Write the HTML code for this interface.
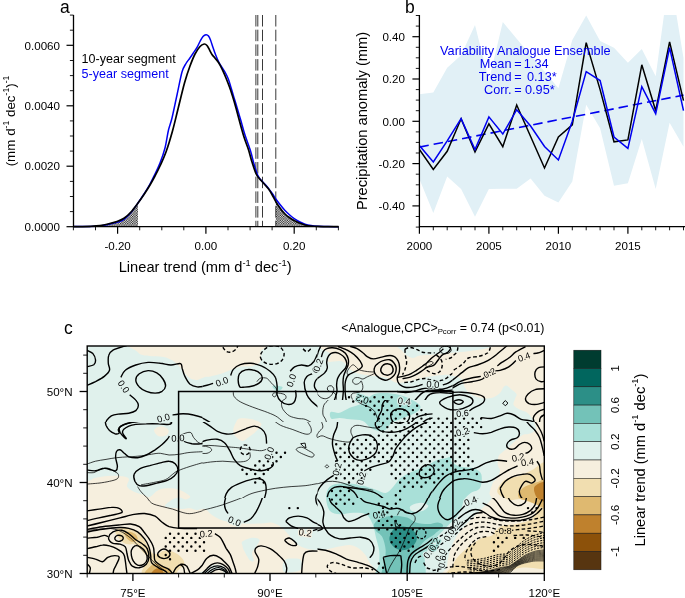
<!DOCTYPE html>
<html lang="en"><head><meta charset="utf-8"><title>Figure</title>
<style>html,body{margin:0;padding:0;background:#fff}svg{display:block;will-change:transform}text{font-family:'Liberation Sans', sans-serif}</style>
</head><body>
<svg width="685" height="598" viewBox="0 0 685 598">
<rect width="685" height="598" fill="#fff"/>
<g id="panel-a">
<defs><pattern id="xh" width="2.4" height="2.4" patternUnits="userSpaceOnUse"><rect width="2.4" height="2.4" fill="#fff"/><rect x="0" y="0" width="1.2" height="1.2" fill="#111"/><rect x="1.2" y="1.2" width="1.2" height="1.2" fill="#111"/></pattern></defs>
<path d="M100.0 225.6L108.0 224.0L117.0 221.5L124.0 218.3L131.0 212.0L138.0 203.0L138 226.7L100 226.7Z" fill="url(#xh)"/>
<path d="M275.8 201.6L280.0 208.0L285.0 214.0L290.0 218.0L295.0 221.0L300.0 223.3L305.0 225.0L311.0 226.0L318.0 226.4L318 226.7L275.8 226.7Z" fill="url(#xh)"/>
<line x1="255.9" y1="15" x2="255.9" y2="226.7" stroke="#222" stroke-width="0.9" stroke-dasharray="11.5 3.2"/>
<line x1="257.8" y1="15" x2="257.8" y2="226.7" stroke="#222" stroke-width="0.9" stroke-dasharray="11.5 3.2"/>
<line x1="262.5" y1="15" x2="262.5" y2="226.7" stroke="#222" stroke-width="0.9" stroke-dasharray="11.5 3.2"/>
<line x1="275.8" y1="15" x2="275.8" y2="226.7" stroke="#222" stroke-width="0.9" stroke-dasharray="11.5 3.2"/>
<path d="M73.5 226.6C76.2 226.6 85.6 226.5 90.0 226.4C94.4 226.3 97.0 226.2 100.0 225.9C103.0 225.6 105.2 225.2 108.0 224.6C110.8 224.0 114.3 223.2 117.0 222.3C119.7 221.4 121.7 220.9 124.0 219.3C126.3 217.7 128.7 215.2 131.0 212.5C133.3 209.8 135.8 206.1 138.0 203.0C140.2 199.9 142.0 197.2 144.0 194.0C146.0 190.8 148.2 187.3 150.0 184.0C151.8 180.7 153.3 177.5 155.0 174.0C156.7 170.5 158.3 167.3 160.0 163.0C161.7 158.7 163.6 153.5 165.0 148.0C166.4 142.5 167.3 135.0 168.5 130.0C169.7 125.0 170.6 123.8 172.0 118.0C173.4 112.2 175.3 102.7 177.0 95.0C178.7 87.3 180.5 77.2 182.0 72.0C183.5 66.8 184.7 65.8 186.0 63.5C187.3 61.2 188.4 60.2 189.6 58.5C190.8 56.8 191.8 55.3 193.0 53.5C194.2 51.7 195.8 49.5 197.0 47.5C198.2 45.5 199.0 43.3 200.0 41.5C201.0 39.7 202.0 37.6 203.0 36.5C204.0 35.4 205.1 34.8 206.0 34.7C206.9 34.6 207.8 35.1 208.5 36.0C209.2 36.9 209.8 38.1 210.5 40.0C211.2 41.9 212.2 45.1 213.0 47.5C213.8 49.9 214.6 52.2 215.5 54.5C216.4 56.8 217.4 59.3 218.5 61.5C219.6 63.7 220.8 65.6 222.0 67.5C223.2 69.4 224.4 71.0 225.5 73.0C226.6 75.0 227.6 77.1 228.5 79.5C229.4 81.9 230.2 84.8 231.0 87.5C231.8 90.2 232.5 92.7 233.5 96.0C234.5 99.3 235.8 103.3 237.0 107.5C238.2 111.7 239.7 116.4 241.0 121.0C242.3 125.6 243.4 130.1 245.0 135.0C246.6 139.9 248.9 145.7 250.4 150.5C251.9 155.3 252.8 160.0 254.0 164.0C255.2 168.0 256.3 171.9 257.4 174.5C258.5 177.1 259.4 178.1 260.5 179.5C261.6 180.9 262.6 181.8 263.7 183.0C264.8 184.2 265.9 185.2 267.0 186.5C268.1 187.8 269.0 189.2 270.0 190.5C271.0 191.8 272.0 193.1 273.0 194.5C274.0 195.9 274.6 197.3 275.8 199.0C277.0 200.7 278.5 202.6 280.0 204.5C281.5 206.4 283.3 208.6 285.0 210.4C286.7 212.2 288.3 213.7 290.0 215.2C291.7 216.7 293.3 218.1 295.0 219.2C296.7 220.3 298.3 221.2 300.0 222.0C301.7 222.8 303.2 223.6 305.0 224.2C306.8 224.8 308.8 225.2 311.0 225.5C313.2 225.8 315.2 226.0 318.0 226.2C320.8 226.4 324.6 226.4 328.0 226.5C331.4 226.6 336.8 226.7 338.5 226.7" fill="none" stroke="#0000f0" stroke-width="1.5" stroke-linejoin="round"/>
<path d="M73.5 226.6C76.2 226.6 85.6 226.5 90.0 226.3C94.4 226.1 97.0 226.0 100.0 225.6C103.0 225.2 105.2 224.7 108.0 224.0C110.8 223.3 114.3 222.4 117.0 221.5C119.7 220.6 121.7 219.9 124.0 218.3C126.3 216.7 128.7 214.6 131.0 212.0C133.3 209.4 135.8 205.9 138.0 203.0C140.2 200.1 142.0 197.5 144.0 194.5C146.0 191.5 148.2 188.1 150.0 185.0C151.8 181.9 153.3 179.2 155.0 176.0C156.7 172.8 158.2 170.0 160.0 166.0C161.8 162.0 163.9 157.8 166.0 152.0C168.1 146.2 170.5 138.2 172.5 131.0C174.5 123.8 176.0 117.0 178.0 109.0C180.0 101.0 182.5 90.2 184.5 83.0C186.5 75.8 188.2 70.8 190.0 66.0C191.8 61.2 193.3 57.2 195.0 54.0C196.7 50.8 198.5 48.2 200.0 46.5C201.5 44.8 203.0 44.2 204.2 44.0C205.4 43.8 206.1 44.5 207.0 45.5C207.9 46.5 208.9 48.8 209.7 50.3C210.5 51.8 211.2 53.3 212.0 54.5C212.8 55.7 213.4 56.2 214.5 57.5C215.6 58.8 217.2 60.6 218.5 62.5C219.8 64.4 220.8 66.4 222.0 69.0C223.2 71.6 224.8 75.0 226.0 78.0C227.2 81.0 228.4 84.0 229.5 87.0C230.6 90.0 231.4 92.5 232.5 96.0C233.6 99.5 234.8 103.5 236.0 108.0C237.2 112.5 238.7 118.2 240.0 123.0C241.3 127.8 242.6 132.5 244.0 137.0C245.4 141.5 247.3 145.8 248.6 150.0C249.9 154.2 250.7 158.0 252.0 162.0C253.3 166.0 254.9 171.2 256.2 174.0C257.4 176.8 258.4 177.5 259.5 178.8C260.6 180.1 261.4 180.8 262.5 182.0C263.6 183.2 264.9 184.8 266.0 186.0C267.1 187.2 268.0 188.1 269.0 189.5C270.0 190.9 270.9 192.5 272.0 194.5C273.1 196.5 274.5 199.3 275.8 201.6C277.1 203.8 278.5 205.9 280.0 208.0C281.5 210.1 283.3 212.3 285.0 214.0C286.7 215.7 288.3 216.8 290.0 218.0C291.7 219.2 293.3 220.1 295.0 221.0C296.7 221.9 298.3 222.6 300.0 223.3C301.7 224.0 303.2 224.6 305.0 225.0C306.8 225.4 308.8 225.8 311.0 226.0C313.2 226.2 315.2 226.3 318.0 226.4C320.8 226.5 324.6 226.6 328.0 226.6C331.4 226.6 336.8 226.7 338.5 226.7" fill="none" stroke="#000" stroke-width="1.7" stroke-linejoin="round"/>
<path d="M73.5 15V226.7H338.5" fill="none" stroke="#000" stroke-width="1.3"/>
<line x1="66.5" y1="226.7" x2="73.5" y2="226.7" stroke="#000" stroke-width="1.2"/>
<line x1="69.9" y1="211.6" x2="73.5" y2="211.6" stroke="#000" stroke-width="0.9"/>
<line x1="69.9" y1="196.5" x2="73.5" y2="196.5" stroke="#000" stroke-width="0.9"/>
<line x1="69.9" y1="181.4" x2="73.5" y2="181.4" stroke="#000" stroke-width="0.9"/>
<line x1="66.5" y1="166.2" x2="73.5" y2="166.2" stroke="#000" stroke-width="1.2"/>
<line x1="69.9" y1="151.1" x2="73.5" y2="151.1" stroke="#000" stroke-width="0.9"/>
<line x1="69.9" y1="136.0" x2="73.5" y2="136.0" stroke="#000" stroke-width="0.9"/>
<line x1="69.9" y1="120.9" x2="73.5" y2="120.9" stroke="#000" stroke-width="0.9"/>
<line x1="66.5" y1="105.8" x2="73.5" y2="105.8" stroke="#000" stroke-width="1.2"/>
<line x1="69.9" y1="90.7" x2="73.5" y2="90.7" stroke="#000" stroke-width="0.9"/>
<line x1="69.9" y1="75.6" x2="73.5" y2="75.6" stroke="#000" stroke-width="0.9"/>
<line x1="69.9" y1="60.5" x2="73.5" y2="60.5" stroke="#000" stroke-width="0.9"/>
<line x1="66.5" y1="45.3" x2="73.5" y2="45.3" stroke="#000" stroke-width="1.2"/>
<line x1="69.9" y1="30.2" x2="73.5" y2="30.2" stroke="#000" stroke-width="0.9"/>
<line x1="69.9" y1="15.1" x2="73.5" y2="15.1" stroke="#000" stroke-width="0.9"/>
<text x="60" y="230.9" text-anchor="end" font-size="11.6">0.0000</text>
<text x="60" y="170.4" text-anchor="end" font-size="11.6">0.0020</text>
<text x="60" y="110.0" text-anchor="end" font-size="11.6">0.0040</text>
<text x="60" y="49.5" text-anchor="end" font-size="11.6">0.0060</text>
<line x1="73.4" y1="226.7" x2="73.4" y2="230.3" stroke="#000" stroke-width="0.9"/>
<line x1="95.5" y1="226.7" x2="95.5" y2="230.3" stroke="#000" stroke-width="0.9"/>
<line x1="117.6" y1="226.7" x2="117.6" y2="233.7" stroke="#000" stroke-width="1.2"/>
<line x1="139.7" y1="226.7" x2="139.7" y2="230.3" stroke="#000" stroke-width="0.9"/>
<line x1="161.8" y1="226.7" x2="161.8" y2="230.3" stroke="#000" stroke-width="0.9"/>
<line x1="183.8" y1="226.7" x2="183.8" y2="230.3" stroke="#000" stroke-width="0.9"/>
<line x1="205.9" y1="226.7" x2="205.9" y2="233.7" stroke="#000" stroke-width="1.2"/>
<line x1="228.0" y1="226.7" x2="228.0" y2="230.3" stroke="#000" stroke-width="0.9"/>
<line x1="250.1" y1="226.7" x2="250.1" y2="230.3" stroke="#000" stroke-width="0.9"/>
<line x1="272.1" y1="226.7" x2="272.1" y2="230.3" stroke="#000" stroke-width="0.9"/>
<line x1="294.2" y1="226.7" x2="294.2" y2="233.7" stroke="#000" stroke-width="1.2"/>
<line x1="316.3" y1="226.7" x2="316.3" y2="230.3" stroke="#000" stroke-width="0.9"/>
<line x1="338.4" y1="226.7" x2="338.4" y2="230.3" stroke="#000" stroke-width="0.9"/>
<text x="117.6" y="250.4" text-anchor="middle" font-size="11.6">-0.20</text>
<text x="205.9" y="250.4" text-anchor="middle" font-size="11.6">0.00</text>
<text x="294.2" y="250.4" text-anchor="middle" font-size="11.6">0.20</text>
<text x="205.2" y="271.8" text-anchor="middle" font-size="14.65">Linear trend (mm d<tspan dy="-6.2" font-size="9.4">-1</tspan><tspan dy="6.2"> dec</tspan><tspan dy="-6.2" font-size="9.4">-1</tspan><tspan dy="6.2">)</tspan></text>
<text transform="translate(14.6 121) rotate(-90)" text-anchor="middle" font-size="13.4">(mm d<tspan dy="-5.7" font-size="8.6">-1</tspan><tspan dy="5.7"> dec</tspan><tspan dy="-5.7" font-size="8.6">-1</tspan><tspan dy="5.7">)</tspan><tspan dy="-5.7" font-size="8.6">-1</tspan></text>
<text x="81.6" y="63.3" font-size="12.55">10-year segment</text>
<text x="81.6" y="78.3" font-size="12.55" fill="#0000f0">5-year segment</text>
<text x="60" y="12.6" font-size="17.5">a</text>
</g>
<g id="panel-b">
<defs><clipPath id="cb"><rect x="419.4" y="15" width="266" height="211.7"/></clipPath></defs>
<g clip-path="url(#cb)">
<path d="M419.4 94.2L433.3 92.5L447.2 67.8L461.1 55.3L475.0 25.1L488.9 80.5L502.8 22.1L516.7 38.8L530.6 55.3L544.5 71.6L558.4 88.3L572.3 40.1L586.2 15.5L600.1 40.9L614.0 47.7L627.9 62.7L641.8 49.0L655.7 76.3L669.6 -26.7L683.5 57.9L683.5 146.7L669.6 122.8L655.7 189.0L641.8 139.1L627.9 183.3L614.0 185.8L600.1 128.3L586.2 104.8L572.3 181.6L558.4 202.5L544.5 195.7L530.6 178.6L516.7 188.8L502.8 188.8L488.9 189.0L475.0 216.7L461.1 189.0L447.2 176.5L433.3 212.9L419.4 179.0Z" fill="#e1f0f6"/>
<line x1="419.4" y1="147.1" x2="683.5" y2="95.1" stroke="#0000f0" stroke-width="1.6" stroke-dasharray="9.5 5"/>
<path d="M419.4 149.4L433.3 169.5L447.2 151.3L461.1 118.8L475.0 152.0L488.9 123.8L502.8 146.7L516.7 105.0L530.6 136.5L544.5 168.0L558.4 137.0L572.3 124.9L586.2 42.6L600.1 89.6L614.0 141.8L627.9 139.9L641.8 64.8L655.7 110.7L669.6 41.8L683.5 100.6" fill="none" stroke="#000" stroke-width="1.5" stroke-linejoin="miter"/>
<path d="M419.4 145.6L433.3 161.9L447.2 140.8L461.1 118.6L475.0 149.6L488.9 116.9L502.8 134.0L516.7 109.7L530.6 126.0L544.5 146.5L558.4 160.0L572.3 121.3L586.2 71.6L600.1 80.5L614.0 137.0L627.9 148.4L641.8 86.6L655.7 113.7L669.6 47.7L683.5 110.7" fill="none" stroke="#0000f0" stroke-width="1.5" stroke-linejoin="miter"/>
</g>
<path d="M419.4 15V226.7H685" fill="none" stroke="#000" stroke-width="1.3"/>
<line x1="415.8" y1="227.1" x2="419.4" y2="227.1" stroke="#000" stroke-width="0.9"/>
<line x1="415.8" y1="216.5" x2="419.4" y2="216.5" stroke="#000" stroke-width="0.9"/>
<line x1="412.4" y1="205.9" x2="419.4" y2="205.9" stroke="#000" stroke-width="1.2"/>
<line x1="415.8" y1="195.3" x2="419.4" y2="195.3" stroke="#000" stroke-width="0.9"/>
<line x1="415.8" y1="184.8" x2="419.4" y2="184.8" stroke="#000" stroke-width="0.9"/>
<line x1="415.8" y1="174.2" x2="419.4" y2="174.2" stroke="#000" stroke-width="0.9"/>
<line x1="412.4" y1="163.6" x2="419.4" y2="163.6" stroke="#000" stroke-width="1.2"/>
<line x1="415.8" y1="153.0" x2="419.4" y2="153.0" stroke="#000" stroke-width="0.9"/>
<line x1="415.8" y1="142.4" x2="419.4" y2="142.4" stroke="#000" stroke-width="0.9"/>
<line x1="415.8" y1="131.9" x2="419.4" y2="131.9" stroke="#000" stroke-width="0.9"/>
<line x1="412.4" y1="121.3" x2="419.4" y2="121.3" stroke="#000" stroke-width="1.2"/>
<line x1="415.8" y1="110.7" x2="419.4" y2="110.7" stroke="#000" stroke-width="0.9"/>
<line x1="415.8" y1="100.1" x2="419.4" y2="100.1" stroke="#000" stroke-width="0.9"/>
<line x1="415.8" y1="89.6" x2="419.4" y2="89.6" stroke="#000" stroke-width="0.9"/>
<line x1="412.4" y1="79.0" x2="419.4" y2="79.0" stroke="#000" stroke-width="1.2"/>
<line x1="415.8" y1="68.4" x2="419.4" y2="68.4" stroke="#000" stroke-width="0.9"/>
<line x1="415.8" y1="57.8" x2="419.4" y2="57.8" stroke="#000" stroke-width="0.9"/>
<line x1="415.8" y1="47.3" x2="419.4" y2="47.3" stroke="#000" stroke-width="0.9"/>
<line x1="412.4" y1="36.7" x2="419.4" y2="36.7" stroke="#000" stroke-width="1.2"/>
<line x1="415.8" y1="26.1" x2="419.4" y2="26.1" stroke="#000" stroke-width="0.9"/>
<line x1="415.8" y1="15.5" x2="419.4" y2="15.5" stroke="#000" stroke-width="0.9"/>
<text x="405" y="40.9" text-anchor="end" font-size="11.6">0.40</text>
<text x="405" y="83.2" text-anchor="end" font-size="11.6">0.20</text>
<text x="405" y="125.5" text-anchor="end" font-size="11.6">0.00</text>
<text x="405" y="167.8" text-anchor="end" font-size="11.6">-0.20</text>
<text x="405" y="210.1" text-anchor="end" font-size="11.6">-0.40</text>
<line x1="419.4" y1="226.7" x2="419.4" y2="233.7" stroke="#000" stroke-width="1.2"/>
<line x1="433.3" y1="226.7" x2="433.3" y2="230.3" stroke="#000" stroke-width="0.9"/>
<line x1="447.2" y1="226.7" x2="447.2" y2="230.3" stroke="#000" stroke-width="0.9"/>
<line x1="461.1" y1="226.7" x2="461.1" y2="230.3" stroke="#000" stroke-width="0.9"/>
<line x1="475.0" y1="226.7" x2="475.0" y2="230.3" stroke="#000" stroke-width="0.9"/>
<line x1="488.9" y1="226.7" x2="488.9" y2="233.7" stroke="#000" stroke-width="1.2"/>
<line x1="502.8" y1="226.7" x2="502.8" y2="230.3" stroke="#000" stroke-width="0.9"/>
<line x1="516.7" y1="226.7" x2="516.7" y2="230.3" stroke="#000" stroke-width="0.9"/>
<line x1="530.6" y1="226.7" x2="530.6" y2="230.3" stroke="#000" stroke-width="0.9"/>
<line x1="544.5" y1="226.7" x2="544.5" y2="230.3" stroke="#000" stroke-width="0.9"/>
<line x1="558.4" y1="226.7" x2="558.4" y2="233.7" stroke="#000" stroke-width="1.2"/>
<line x1="572.3" y1="226.7" x2="572.3" y2="230.3" stroke="#000" stroke-width="0.9"/>
<line x1="586.2" y1="226.7" x2="586.2" y2="230.3" stroke="#000" stroke-width="0.9"/>
<line x1="600.1" y1="226.7" x2="600.1" y2="230.3" stroke="#000" stroke-width="0.9"/>
<line x1="614.0" y1="226.7" x2="614.0" y2="230.3" stroke="#000" stroke-width="0.9"/>
<line x1="627.9" y1="226.7" x2="627.9" y2="233.7" stroke="#000" stroke-width="1.2"/>
<line x1="641.8" y1="226.7" x2="641.8" y2="230.3" stroke="#000" stroke-width="0.9"/>
<line x1="655.7" y1="226.7" x2="655.7" y2="230.3" stroke="#000" stroke-width="0.9"/>
<line x1="669.6" y1="226.7" x2="669.6" y2="230.3" stroke="#000" stroke-width="0.9"/>
<line x1="683.5" y1="226.7" x2="683.5" y2="230.3" stroke="#000" stroke-width="0.9"/>
<text x="419.4" y="250.4" text-anchor="middle" font-size="11.6">2000</text>
<text x="488.9" y="250.4" text-anchor="middle" font-size="11.6">2005</text>
<text x="558.4" y="250.4" text-anchor="middle" font-size="11.6">2010</text>
<text x="627.9" y="250.4" text-anchor="middle" font-size="11.6">2015</text>
<text transform="translate(367.3 121) rotate(-90)" text-anchor="middle" font-size="14.65">Precipitation anomaly (mm)</text>
<g fill="#0000f0" font-size="12.7">
<text x="525.3" y="54.8" text-anchor="middle">Variability Analogue Ensemble</text>
<text x="511.5" y="68.3" text-anchor="end">Mean</text><text x="514.2" y="68.3">=</text><text x="523.8" y="68.3">1.34</text>
<text x="511.5" y="81" text-anchor="end">Trend</text><text x="514.2" y="81">=</text><text x="527" y="81">0.13*</text>
<text x="511.5" y="93.6" text-anchor="end">Corr.</text><text x="514.2" y="93.6">=</text><text x="525" y="93.6">0.95*</text>
</g>
<text x="405" y="12.6" font-size="17.5">b</text>
</g>
<g id="panel-c">
<defs><clipPath id="cm"><rect x="87.2" y="346.0" width="457.1" height="227.5"/></clipPath></defs>
<g clip-path="url(#cm)">
<rect x="87.2" y="346.0" width="457.1" height="227.5" fill="#e0f1ec"/>
<path d="M133.0 340.0C112.7 342.0 135.7 349.3 137.6 351.9C139.5 354.5 141.7 354.7 144.6 355.4C147.5 356.1 151.8 356.0 155.0 356.3C158.2 356.6 160.9 356.4 163.8 357.1C166.7 357.8 170.0 359.0 172.6 360.6C175.2 362.2 177.5 364.6 179.6 366.8C181.7 369.0 183.2 371.9 184.9 373.8C186.7 375.7 188.1 377.2 190.1 378.2C192.1 379.2 194.6 380.1 197.1 379.9C199.6 379.7 202.8 377.6 205.0 377.0C207.2 376.4 207.8 376.9 210.5 376.4C213.2 375.9 217.8 374.8 221.0 373.8C224.2 372.8 226.6 371.5 229.8 370.3C233.0 369.1 236.5 367.5 240.3 366.8C244.1 366.1 249.2 366.8 252.6 365.9C255.9 365.0 259.1 363.8 260.4 361.5C261.7 359.2 260.6 355.6 260.5 352.0C260.4 348.4 280.9 342.0 259.6 340.0C238.4 338.0 153.3 338.0 133.0 340.0Z" fill="#f6efde"/>
<path d="M154.0 430.1C154.4 428.4 158.3 426.3 160.6 426.2C162.9 426.1 166.9 427.9 168.0 429.3C169.1 430.7 168.8 433.6 167.2 434.7C165.7 435.9 160.9 437.1 158.7 436.3C156.5 435.5 153.7 431.8 154.0 430.1Z" fill="#f6efde"/>
<path d="M239.4 418.6C241.9 418.0 247.2 418.3 250.8 419.1C254.5 419.9 260.3 421.6 261.3 423.5C262.3 425.4 259.1 428.2 256.9 430.5C254.7 432.8 250.7 435.8 248.2 437.5C245.7 439.3 244.2 441.3 242.0 441.0C239.9 440.8 236.5 438.0 235.0 436.1C233.6 434.2 233.1 431.9 233.3 429.6C233.4 427.4 234.9 424.5 235.9 422.6C236.9 420.8 236.9 419.2 239.4 418.6Z" fill="#f6efde"/>
<path d="M151.7 370.4C151.6 368.4 155.8 366.9 157.9 366.5C160.0 366.1 163.1 366.8 164.5 368.0C165.9 369.3 167.4 372.6 166.4 374.2C165.5 375.9 161.1 378.8 158.7 378.1C156.2 377.5 151.8 372.3 151.7 370.4Z" fill="#e0f1ec"/>
<path d="M70.0 481.0C72.8 463.7 82.8 481.8 87.0 481.3C91.2 480.8 92.0 478.7 95.5 477.8C99.0 476.9 103.7 476.3 107.8 476.0C111.9 475.7 116.5 475.6 120.0 476.0C123.5 476.4 127.6 476.9 128.8 478.7C130.0 480.5 126.1 484.4 127.0 486.6C127.9 488.8 131.1 490.4 134.0 491.8C136.9 493.2 142.0 494.4 144.6 495.3C147.2 496.2 147.5 497.9 149.8 497.0C152.1 496.1 155.4 491.4 158.6 490.0C161.8 488.6 165.5 488.3 169.0 488.3C172.5 488.3 176.1 488.7 179.6 490.0C183.1 491.3 188.9 494.6 190.0 496.2C191.1 497.8 187.7 499.3 186.0 499.5C184.3 499.7 181.8 497.5 179.6 497.5C177.4 497.5 175.0 498.1 172.6 499.5C170.2 500.9 164.4 504.5 165.0 506.0C165.6 507.5 173.0 507.8 176.0 508.3C179.0 508.8 180.7 509.0 183.0 509.0C185.3 509.0 187.7 508.1 190.0 508.3C192.3 508.5 194.5 509.9 197.0 510.0C199.5 510.1 202.5 508.2 205.0 509.0C207.5 509.8 208.9 513.0 212.0 515.0C215.1 517.0 218.4 519.3 223.5 520.7C228.6 522.1 236.1 523.0 242.4 523.5C248.7 524.0 256.6 523.6 261.4 523.5C266.2 523.4 267.8 522.1 271.0 522.6C274.2 523.1 277.6 524.5 280.4 526.4C283.2 528.3 285.5 531.1 288.0 534.0C290.5 536.9 292.1 541.0 295.6 543.5C299.1 546.0 304.1 548.2 309.0 549.2C313.9 550.2 320.2 549.9 325.0 549.5C329.8 549.1 333.6 547.5 337.8 546.8C342.0 546.0 346.5 544.7 350.0 545.0C353.5 545.3 356.2 546.8 358.8 548.6C361.4 550.4 364.1 553.3 365.8 555.6C367.6 557.9 367.8 560.3 369.3 562.6C370.8 564.9 373.2 565.9 374.6 569.6C376.1 573.3 428.8 582.4 378.0 585.0C327.2 587.6 121.3 602.3 70.0 585.0C18.7 567.7 67.2 498.3 70.0 481.0Z" fill="#f6efde"/>
<path d="M242.4 541.6C244.0 540.3 249.2 538.1 252.0 537.8C254.8 537.5 258.9 538.1 259.5 539.7C260.1 541.3 256.9 545.1 255.7 547.3C254.4 549.5 252.3 550.8 252.0 553.0C251.7 555.2 254.1 559.2 253.8 560.5C253.5 561.8 251.6 562.1 250.0 560.5C248.4 558.9 245.6 553.5 244.3 551.0C243.0 548.5 242.7 547.0 242.4 545.4C242.1 543.8 240.8 542.9 242.4 541.6Z" fill="#e0f1ec"/>
<path d="M284.2 560.5C285.8 558.3 290.8 558.6 293.7 558.6C296.6 558.6 300.2 558.6 301.3 560.5C302.4 562.4 303.2 568.1 300.3 570.0C297.4 571.9 286.9 573.6 284.2 572.0C281.5 570.4 282.6 562.7 284.2 560.5Z" fill="#e0f1ec"/>
<path d="M115.2 530.9C115.8 528.8 120.9 527.9 123.8 527.8C126.6 527.7 130.0 528.6 132.3 530.1C134.6 531.7 137.4 534.9 137.7 537.1C138.1 539.3 136.4 542.2 134.6 543.3C132.8 544.5 129.2 544.6 126.9 544.1C124.6 543.6 122.6 542.4 120.7 540.2C118.7 538.0 114.7 533.0 115.2 530.9Z" fill="#f1deb0"/>
<path d="M143.2 572.8C144.3 570.0 147.8 566.2 150.1 563.5C152.5 560.8 155.1 558.6 157.1 556.5C159.2 554.4 160.2 552.0 162.6 551.1C164.9 550.2 168.1 550.2 171.1 551.1C174.1 552.0 178.2 554.4 180.4 556.5C182.6 558.6 184.7 561.2 184.3 563.5C183.9 565.8 180.3 567.6 178.1 570.5C175.9 573.3 176.9 578.9 171.1 580.6C165.3 582.2 147.8 581.8 143.2 580.6C138.5 579.3 142.0 575.6 143.2 572.8Z" fill="#f1deb0"/>
<path d="M147.0 576.7C148.6 574.6 153.4 570.0 156.4 568.1C159.3 566.3 162.4 565.4 164.9 565.8C167.3 566.2 170.6 568.0 171.1 570.5C171.6 572.9 172.0 578.9 168.0 580.6C164.0 582.2 150.5 581.2 147.0 580.6C143.6 579.9 145.5 578.7 147.0 576.7Z" fill="#dfb970"/>
<path d="M337.5 342.1C299.4 345.4 332.8 351.6 331.3 354.9C329.7 358.2 326.4 360.7 328.2 361.8C330.0 362.9 338.1 359.9 342.1 361.5C346.2 363.0 348.4 368.9 352.2 371.1C356.1 373.4 360.0 374.0 365.4 375.0C370.8 376.1 379.5 376.1 384.8 377.4C390.1 378.6 393.2 382.1 397.2 382.8C401.2 383.4 404.3 382.1 408.8 381.2C413.4 380.3 418.7 378.4 424.4 377.4C430.0 376.3 438.5 375.3 443.0 375.0C447.4 374.7 447.9 374.8 451.0 375.5C454.1 376.2 459.2 376.9 461.5 379.0C463.8 381.1 463.2 385.2 465.0 387.8C466.8 390.4 469.1 393.1 472.0 394.8C474.9 396.6 479.1 397.9 482.6 398.3C486.1 398.7 490.1 398.3 493.0 397.4C495.9 396.5 498.2 394.7 500.0 393.0C501.8 391.3 502.4 388.2 503.6 387.0C504.8 385.8 505.8 385.4 507.0 385.7C508.2 386.0 509.0 387.3 510.6 388.7C512.2 390.1 515.8 392.3 516.5 394.0C517.2 395.7 515.5 397.2 515.0 399.0C514.5 400.8 512.8 403.2 513.6 405.0C514.4 406.8 517.4 408.2 519.6 409.5C521.8 410.8 524.8 410.9 527.0 412.6C529.2 414.4 531.5 417.3 533.0 420.0C534.5 422.7 536.5 426.7 536.0 429.0C535.5 431.3 532.2 432.6 530.0 433.6C527.8 434.6 525.1 433.8 522.6 435.0C520.1 436.2 517.3 439.0 515.0 441.0C512.7 443.0 511.0 445.2 509.0 447.0C507.0 448.8 504.7 450.2 503.0 451.7C501.3 453.2 499.5 453.8 498.6 456.0C497.7 458.2 497.6 462.5 497.8 465.0C498.0 467.5 500.4 468.5 500.0 471.0C499.6 473.5 496.7 478.2 495.6 480.0C494.5 481.8 494.4 479.5 493.4 481.7C492.4 483.9 489.8 490.4 489.5 493.3C489.2 496.2 492.7 496.4 491.4 499.0C490.1 501.6 485.0 505.6 481.8 508.8C478.6 512.0 475.2 515.3 472.0 518.5C468.8 521.7 465.3 524.7 462.4 528.2C459.5 531.8 456.8 535.6 454.6 539.8C452.4 544.0 450.5 548.9 449.2 553.4C447.9 557.9 447.5 561.7 446.9 567.0C446.2 572.3 426.4 582.0 445.3 585.0C464.2 588.0 540.9 626.7 560.0 585.0C579.1 543.3 597.1 375.5 560.0 335.0C522.9 294.5 375.6 338.8 337.5 342.1Z" fill="#f6efde"/>
<path d="M403.4 342.1C389.1 343.8 404.1 350.4 408.1 352.5C412.1 354.7 421.0 354.7 427.5 354.9C433.9 355.0 439.7 354.0 446.8 353.3C454.0 352.7 463.0 351.9 470.1 351.0C477.2 350.0 485.5 349.0 489.5 347.5C493.5 346.0 508.5 343.0 494.2 342.1C479.8 341.2 417.8 340.3 403.4 342.1Z" fill="#e0f1ec"/>
<path d="M330.7 412.1C332.1 411.1 336.7 413.5 339.8 412.8C343.0 412.0 345.8 409.5 349.7 407.8C353.5 406.2 358.9 405.1 362.8 402.9C366.6 400.7 369.0 396.4 372.6 394.7C376.1 393.1 379.7 393.1 384.0 393.1C388.4 393.1 394.1 393.6 398.8 394.7C403.4 395.8 408.3 397.7 411.9 399.7C415.5 401.6 419.7 404.0 420.4 406.2C421.1 408.4 418.6 410.8 415.8 412.8C413.0 414.7 407.6 416.0 403.7 417.7C399.8 419.3 395.5 420.4 392.2 422.6C389.0 424.8 387.3 429.7 384.0 430.8C380.8 431.9 376.1 430.8 372.6 429.1C369.0 427.5 366.6 422.6 362.8 420.9C358.9 419.3 353.5 419.8 349.7 419.3C345.8 418.8 342.9 418.1 339.8 418.0C336.8 417.9 332.8 419.6 331.3 418.7C329.8 417.7 329.2 413.1 330.7 412.1Z" fill="#a9e0d8"/>
<path d="M330.0 486.5C332.8 484.0 338.2 483.5 343.1 483.2C348.0 482.9 354.0 483.7 359.5 484.8C364.9 485.9 371.5 488.4 375.9 489.7C380.2 491.1 383.0 493.3 385.7 493.0C388.4 492.7 389.8 490.5 392.2 488.1C394.7 485.6 397.1 481.0 400.4 478.3C403.7 475.5 407.8 473.6 411.9 471.7C416.0 469.8 420.9 468.7 425.0 466.8C429.1 464.9 433.2 461.6 436.5 460.2C439.7 458.9 442.2 459.2 444.6 458.6C447.1 458.1 450.0 456.4 451.2 457.0C452.4 457.5 450.2 460.2 451.8 461.9C453.5 463.5 457.3 465.7 461.0 466.8C464.7 467.9 470.7 467.2 474.1 468.4C477.5 469.7 480.3 471.1 481.3 474.3C482.3 477.6 481.8 485.0 480.0 488.1C478.3 491.2 473.5 491.1 470.8 493.0C468.2 494.9 465.9 496.8 464.3 499.6C462.7 502.3 462.4 506.4 461.0 509.4C459.7 512.4 458.3 514.8 456.1 517.6C453.9 520.3 450.6 523.0 447.9 525.8C445.2 528.5 442.5 530.9 439.7 533.9C437.0 536.9 434.0 540.0 431.5 543.8C429.1 547.6 426.6 550.9 425.0 556.9C423.4 562.9 429.6 576.0 421.7 579.8C413.8 583.6 384.6 582.5 377.5 579.8C370.4 577.1 378.9 568.3 379.1 563.4C379.4 558.5 379.7 554.7 379.1 550.3C378.6 546.0 376.9 541.6 375.9 537.2C374.8 532.9 374.2 527.9 372.6 524.1C370.9 520.3 369.3 516.2 366.0 514.3C362.8 512.4 357.3 512.7 352.9 512.7C348.6 512.7 343.6 514.6 339.8 514.3C336.0 514.0 332.3 513.7 330.0 511.0C327.7 508.3 326.1 502.0 326.1 497.9C326.1 493.8 327.2 488.9 330.0 486.5Z" fill="#a9e0d8"/>
<path d="M410.2 506.4C411.5 505.0 417.1 502.9 420.1 502.8C423.1 502.7 427.9 504.4 428.3 505.8C428.6 507.1 425.0 510.1 422.4 511.0C419.7 511.9 414.6 512.1 412.5 511.3C410.5 510.6 409.0 507.9 410.2 506.4Z" fill="#e0f1ec"/>
<path d="M374.2 524.1C375.3 521.9 378.9 518.9 382.4 517.6C386.0 516.2 391.4 515.9 395.5 515.9C399.6 515.9 403.6 516.5 407.0 517.6C410.4 518.7 412.3 521.4 415.8 522.5C419.4 523.6 424.6 524.1 428.3 524.1C432.0 524.1 435.6 522.2 438.1 522.5C440.5 522.8 443.5 524.2 443.0 526.1C442.5 528.0 437.8 531.5 434.8 533.9C431.8 536.3 428.0 537.8 425.0 540.5C422.0 543.2 419.3 547.0 416.8 550.3C414.3 553.6 411.9 555.2 410.2 560.2C408.6 565.1 411.6 576.5 407.0 579.8C402.3 583.1 386.2 582.5 382.4 579.8C378.6 577.1 383.5 568.3 384.0 563.4C384.6 558.5 386.0 554.7 385.7 550.3C385.4 546.0 384.0 540.5 382.4 537.2C380.8 533.9 377.2 532.9 375.9 530.7C374.5 528.5 373.1 526.3 374.2 524.1Z" fill="#73c2b8"/>
<path d="M390.6 533.9C391.6 531.8 393.1 528.6 395.5 527.4C398.0 526.2 402.3 526.2 405.3 526.7C408.3 527.3 411.6 528.7 413.5 530.7C415.4 532.7 417.1 536.1 416.8 538.9C416.5 541.6 414.3 545.1 411.9 547.0C409.4 549.0 405.1 550.3 402.1 550.3C399.1 550.3 395.9 548.7 393.9 547.0C391.8 545.4 390.2 542.7 389.6 540.5C389.1 538.3 389.6 536.1 390.6 533.9Z" fill="#2c8f87"/>
<path d="M451.5 580.6C435.7 578.0 451.8 569.2 453.1 565.0C454.3 560.8 456.4 558.6 459.3 555.3C462.1 552.1 466.4 548.6 470.1 545.7C473.9 542.7 478.1 539.6 481.8 537.9C485.4 536.2 488.6 537.5 491.8 535.6C495.1 533.6 497.0 528.2 501.1 526.3C505.3 524.3 511.5 525.2 516.7 523.9C521.8 522.6 528.5 521.4 532.2 518.5C535.8 515.7 535.8 510.1 538.4 506.9C541.0 503.6 546.1 486.8 547.7 499.1C549.2 511.4 563.7 567.0 547.7 580.6C531.6 594.1 467.3 583.1 451.5 580.6Z" fill="#f1deb0"/>
<path d="M497.3 492.1C496.6 488.8 501.1 482.4 505.0 479.7C508.9 477.0 516.0 477.5 520.5 475.8C525.1 474.2 527.6 472.1 532.2 470.0C536.7 468.0 545.1 457.9 547.7 463.4C550.3 468.9 550.3 496.4 547.7 503.0C545.1 509.6 536.7 503.6 532.2 503.0C527.6 502.3 524.4 499.6 520.5 499.1C516.7 498.6 512.8 501.1 508.9 499.9C505.0 498.7 497.9 495.5 497.3 492.1Z" fill="#f1deb0"/>
<path d="M518.5 493.2C519.2 491.7 521.2 489.3 522.9 488.0C524.5 486.6 525.5 486.2 528.1 485.2C530.7 484.1 535.1 482.7 538.6 481.7C542.1 480.7 547.4 474.3 549.1 479.2C550.9 484.1 550.3 506.4 549.1 511.1C548.0 515.8 544.5 508.8 542.1 507.6C539.8 506.4 537.5 505.2 535.1 504.1C532.8 503.0 530.4 501.8 528.1 500.9C525.8 500.1 522.7 499.8 521.1 499.2C519.5 498.5 518.9 498.1 518.5 497.1C518.0 496.1 517.7 494.7 518.5 493.2Z" fill="#dfb970"/>
<path d="M534.5 486.7C536.2 484.0 545.5 479.7 547.7 482.1C549.9 484.4 549.4 498.0 547.7 500.7C546.0 503.4 539.8 500.7 537.6 498.3C535.4 496.0 532.8 489.4 534.5 486.7Z" fill="#bf812d"/>
<path d="M272.7 386.0C273.9 385.5 281.2 386.2 282.3 386.9C283.5 387.7 280.9 389.9 279.7 390.4C278.5 390.9 276.5 390.6 275.3 389.9C274.2 389.2 271.5 386.5 272.7 386.0Z" fill="#a9e0d8"/>
<path d="M400.8 345.2C392.7 346.1 401.4 349.3 402.5 351.0C403.6 352.8 405.4 354.5 407.2 355.7C408.9 356.8 411.1 358.0 413.0 358.0C415.0 358.0 416.5 356.2 418.9 355.7C421.2 355.1 424.3 355.2 427.0 354.7C429.8 354.3 432.9 353.8 435.2 353.1C437.6 352.4 438.9 351.4 441.1 350.4C443.2 349.5 446.4 348.4 448.1 347.5C449.7 346.6 458.9 345.6 451.0 345.2C443.1 344.8 408.8 344.2 400.8 345.2Z" fill="#e0f1ec"/>
<path d="M195.2 574.0C194.3 573.5 200.8 572.3 203.4 571.0C205.9 569.8 208.0 567.4 210.4 566.4C212.7 565.3 215.0 564.5 217.4 564.6C219.7 564.7 222.4 565.4 224.4 566.9C226.3 568.5 228.8 572.8 229.1 574.0C229.3 575.1 227.7 574.7 226.1 574.0C224.6 573.2 221.6 570.0 219.7 569.4C217.9 568.8 216.9 569.3 215.0 570.1C213.2 570.9 211.9 573.3 208.6 574.0C205.3 574.6 196.1 574.4 195.2 574.0Z" fill="#e0f1ec"/>
<path d="M120.9 531.9C121.6 530.5 126.0 529.6 128.8 529.6C131.6 529.6 135.2 530.5 137.6 531.9C139.9 533.3 141.1 535.6 142.8 538.0C144.6 540.5 146.3 544.2 148.1 546.8C149.8 549.4 151.3 552.6 153.3 553.8C155.4 555.0 158.0 553.2 160.3 553.8C162.7 554.4 165.2 557.0 167.3 557.3C169.5 557.6 171.6 555.2 173.5 555.6C175.4 555.9 178.3 557.9 178.7 559.4C179.2 560.9 177.7 563.2 176.1 564.7C174.5 566.1 171.0 566.6 169.1 568.2C167.2 569.8 169.1 573.1 164.7 574.1C160.3 575.1 146.2 575.5 142.8 574.1C139.5 572.8 143.7 568.6 144.6 566.1C145.4 563.6 148.4 561.4 148.1 559.1C147.8 556.7 144.9 554.4 142.8 552.1C140.8 549.7 138.1 546.6 135.8 545.1C133.5 543.5 130.7 544.1 128.8 543.0C126.9 541.8 125.7 539.9 124.4 538.0C123.1 536.2 120.2 533.3 120.9 531.9Z" fill="#f1deb0"/>
<path d="M124.4 532.8C125.0 531.6 128.9 531.6 130.9 531.9C132.9 532.3 135.0 533.6 136.2 534.9C137.3 536.2 138.1 538.6 137.6 539.8C137.0 541.0 134.3 542.0 132.7 541.9C131.0 541.8 128.8 540.4 127.4 538.9C126.0 537.4 123.8 534.0 124.4 532.8Z" fill="#dfb970"/>
<path d="M145.4 574.1C142.8 572.9 148.2 568.7 149.8 567.0C151.4 565.2 153.0 563.7 155.1 563.4C157.1 563.2 160.0 564.7 162.1 565.7C164.1 566.7 166.7 568.2 167.3 569.6C168.0 571.0 169.6 573.4 165.9 574.1C162.3 574.9 148.1 575.3 145.4 574.1Z" fill="#dfb970"/>
<path d="M151.6 574.1C150.2 573.3 153.6 570.1 155.1 569.2C156.5 568.3 158.9 567.9 160.3 568.7C161.7 569.5 164.9 573.2 163.5 574.1C162.0 575.0 153.0 575.0 151.6 574.1Z" fill="#bf812d"/>
<path d="M509.7 574.5C504.1 573.7 512.1 571.2 513.4 570.1C514.8 569.1 516.0 568.7 517.9 568.3C519.8 567.8 522.4 567.6 524.9 567.6C527.4 567.5 530.5 567.8 533.1 568.0C535.6 568.3 537.7 568.7 540.1 569.0C542.4 569.2 545.9 568.5 547.1 569.4C548.2 570.4 553.3 573.6 547.1 574.5C540.9 575.3 515.3 575.2 509.7 574.5Z" fill="#f6efde"/>
<clipPath id="tc1"><path d="M80.0 340.0L202.5 340.0L202.5 422.0L80.0 422.0Z"/></clipPath><g clip-path="url(#tc1)">
<path d="M86.8 350.1C87.8 350.7 91.4 352.0 92.9 353.6C94.3 355.2 95.4 357.9 95.5 359.8C95.7 361.6 95.2 363.5 93.8 364.7C92.3 365.8 87.9 366.4 86.8 366.8" fill="none" stroke="#000" stroke-width="1.40" stroke-linecap="butt" stroke-linejoin="round"/>
<path d="M127.0 345.4C124.7 346.2 116.1 348.5 113.0 350.1C110.0 351.8 109.4 353.2 108.7 355.4C107.9 357.6 108.2 360.8 108.3 363.3C108.4 365.8 110.2 368.1 109.5 370.3C108.9 372.5 106.6 374.5 104.3 376.4C101.9 378.3 98.4 380.1 95.5 381.7C92.6 383.2 88.2 384.9 86.8 385.5" fill="none" stroke="#000" stroke-width="1.40" stroke-linecap="butt" stroke-linejoin="round"/>
<path d="M120.9 377.3C121.6 376.1 122.8 372.3 125.3 370.3C127.8 368.2 132.0 366.3 135.8 365.0C139.6 363.7 144.0 362.7 148.1 362.4C152.2 362.1 156.5 362.8 160.3 363.3C164.1 363.7 167.5 365.0 170.8 365.0C174.2 365.1 178.6 363.0 180.5 363.6C182.4 364.2 181.5 366.4 182.2 368.5C183.0 370.7 183.5 373.8 184.9 376.4C186.2 379.0 188.1 382.5 190.1 384.3C192.2 386.0 194.5 386.6 197.1 386.9C199.8 387.2 204.4 386.2 205.9 386.0" fill="none" stroke="#000" stroke-width="1.40" stroke-linecap="butt" stroke-linejoin="round"/>
<path d="M129.7 394.8C130.7 395.7 134.3 398.3 135.8 400.1C137.3 401.8 138.4 403.6 138.4 405.3C138.4 407.1 137.4 409.3 135.8 410.6C134.2 411.9 131.7 412.6 128.8 413.2C125.9 413.8 121.2 413.6 118.3 414.1C115.4 414.5 113.2 414.8 111.3 415.8C109.4 416.9 107.9 418.7 106.9 420.2C105.9 421.7 105.4 423.9 105.1 424.6" fill="none" stroke="#000" stroke-width="1.40" stroke-linecap="butt" stroke-linejoin="round"/>
<path d="M135.8 379.9C135.8 377.7 137.3 375.3 139.3 373.8C141.4 372.2 145.1 370.8 148.1 370.6C151.0 370.5 154.3 371.5 156.8 372.9C159.3 374.3 161.5 376.8 163.0 379.0C164.4 381.2 165.7 384.0 165.6 386.0C165.4 388.1 163.8 390.1 162.1 391.3C160.3 392.5 157.7 393.1 155.1 393.1C152.4 393.1 148.9 392.3 146.3 391.3C143.7 390.3 141.1 388.8 139.3 386.9C137.6 385.0 135.8 382.1 135.8 379.9Z" fill="none" stroke="#000" stroke-width="1.40" stroke-linecap="butt" stroke-linejoin="round"/>
<path d="M172.6 415.0C174.3 414.7 179.6 413.7 183.1 413.7C186.6 413.7 189.8 414.1 193.6 415.0C197.4 415.8 203.8 418.0 205.9 418.6" fill="none" stroke="#000" stroke-width="1.40" stroke-linecap="butt" stroke-linejoin="round"/>
</g>
<clipPath id="tc2"><path d="M202.5 340.0L317.5 340.0L317.5 422.0L202.5 422.0Z"/></clipPath><g clip-path="url(#tc2)">
<path d="M196.0 417.0C197.2 417.2 200.9 417.6 203.0 418.4C205.1 419.2 207.1 420.6 208.8 421.6C210.5 422.6 212.3 424.0 213.0 424.5" fill="none" stroke="#000" stroke-width="1.40" stroke-linecap="butt" stroke-linejoin="round"/>
<path d="M222.8 347.2C223.4 347.9 224.8 350.5 226.3 351.4C227.7 352.2 229.9 352.4 231.5 352.1C233.1 351.7 234.9 350.3 235.9 349.3C237.0 348.2 237.5 346.3 237.8 345.8" fill="none" stroke="#000" stroke-width="1.40" stroke-linecap="butt" stroke-linejoin="round" stroke-dasharray="3.6 2.4"/>
<path d="M260.4 357.1C260.7 358.5 261.6 360.4 263.1 361.5C264.5 362.7 266.9 363.8 269.2 364.1C271.5 364.5 274.9 364.4 277.1 363.6C279.3 362.9 281.2 361.4 282.3 359.8C283.5 358.1 284.2 355.5 284.1 353.6C283.9 351.7 282.6 349.6 281.5 348.4C280.3 347.1 279.0 346.5 277.1 346.1C275.2 345.7 272.1 345.6 270.1 346.1C268.1 346.6 266.6 347.7 265.2 348.9C263.7 350.1 262.1 351.7 261.3 353.1C260.5 354.5 260.1 355.7 260.4 357.1Z" fill="none" stroke="#000" stroke-width="1.40" stroke-linecap="butt" stroke-linejoin="round" stroke-dasharray="3.6 2.4"/>
<path d="M303.0 348.9C303.7 349.4 305.6 351.7 306.9 351.7C308.2 351.7 310.1 349.4 310.7 348.9" fill="none" stroke="#000" stroke-width="1.40" stroke-linecap="butt" stroke-linejoin="round" stroke-dasharray="3.6 2.4"/>
<path d="M199.1 387.1C200.4 386.8 204.7 385.8 207.0 385.2C209.3 384.6 212.1 383.7 213.1 383.4" fill="none" stroke="#000" stroke-width="1.40" stroke-linecap="butt" stroke-linejoin="round"/>
<path d="M230.7 375.5C231.1 374.5 231.7 371.2 233.3 369.4C234.9 367.6 237.4 365.7 240.3 364.7C243.2 363.7 247.3 363.1 250.8 363.3C254.3 363.5 258.1 364.6 261.3 365.9C264.5 367.2 267.7 369.3 270.1 371.2C272.4 373.1 274.2 374.8 275.3 377.3C276.5 379.8 276.8 383.1 277.1 386.0C277.4 389.0 276.5 392.3 277.1 394.8C277.7 397.3 278.8 399.3 280.6 400.9C282.3 402.5 285.4 404.1 287.6 404.4C289.8 404.7 292.3 404.0 293.7 402.7C295.1 401.4 295.7 398.6 296.0 396.6C296.3 394.5 295.6 391.4 295.5 390.4" fill="none" stroke="#000" stroke-width="1.40" stroke-linecap="butt" stroke-linejoin="round"/>
<path d="M239.4 373.8C240.6 372.0 243.1 370.5 245.6 369.9C248.0 369.3 251.8 369.6 254.3 370.3C256.8 370.9 259.1 372.3 260.4 373.8C261.8 375.2 262.5 377.4 262.2 379.0C261.9 380.6 260.3 382.3 258.7 383.4C257.1 384.6 254.9 385.4 252.6 386.0C250.2 386.7 246.8 387.0 244.7 387.1C242.6 387.2 241.0 388.0 239.9 386.9C238.9 385.9 238.3 383.0 238.2 380.8C238.1 378.6 238.2 375.6 239.4 373.8Z" fill="none" stroke="#000" stroke-width="1.40" stroke-linecap="butt" stroke-linejoin="round"/>
<path d="M290.2 371.2C291.0 370.4 292.7 367.8 294.6 366.8C296.5 365.8 299.3 365.2 301.6 365.0C303.9 364.9 306.6 366.5 308.6 365.9C310.7 365.3 312.4 363.4 313.9 361.5C315.3 359.6 316.2 356.3 317.4 354.5C318.5 352.7 320.3 351.3 320.9 350.7" fill="none" stroke="#000" stroke-width="1.40" stroke-linecap="butt" stroke-linejoin="round"/>
<path d="M312.1 373.8C311.2 374.2 308.2 375.0 306.9 376.4C305.6 377.9 304.2 379.5 304.2 382.5C304.2 385.6 305.6 391.6 306.9 394.8C308.2 398.0 309.8 399.4 312.1 401.8C314.5 404.2 319.4 407.9 320.9 409.2" fill="none" stroke="#000" stroke-width="1.40" stroke-linecap="butt" stroke-linejoin="round"/>
<path d="M320.9 376.1C320.0 376.8 316.6 378.8 315.6 380.8C314.6 382.7 313.9 385.4 314.8 387.8C315.6 390.2 319.9 393.9 320.9 395.2" fill="none" stroke="#000" stroke-width="1.40" stroke-linecap="butt" stroke-linejoin="round"/>
<path d="M313.0 368.5C313.2 367.7 314.7 366.7 315.6 366.8C316.6 366.8 318.4 368.0 318.8 368.9C319.1 369.8 318.5 371.6 317.7 372.0C317.0 372.5 315.0 372.3 314.2 371.7C313.4 371.1 312.8 369.3 313.0 368.5Z" fill="none" stroke="#000" stroke-width="0.90" stroke-linecap="butt" stroke-linejoin="round"/>
<path d="M233.3 392.2C233.4 392.9 233.0 395.0 234.2 396.6C235.3 398.2 237.2 400.1 240.3 401.8C243.4 403.6 248.5 405.5 252.6 407.1C256.6 408.7 261.0 410.0 264.8 411.4C268.6 412.9 272.4 414.2 275.3 415.8C278.3 417.4 280.5 419.6 282.3 421.1C284.2 422.5 285.6 424.0 286.2 424.6" fill="none" stroke="#000" stroke-width="0.75" stroke-linecap="butt" stroke-linejoin="round"/>
<path d="M256.9 381.7C257.5 381.1 258.8 378.7 260.4 378.2C262.0 377.6 265.0 377.6 266.6 378.2C268.2 378.7 268.9 380.5 270.1 381.7C271.2 382.8 272.4 383.7 273.6 385.2C274.7 386.6 276.8 388.5 277.1 390.4C277.4 392.3 276.1 395.7 275.3 396.6C274.6 397.4 273.0 396.3 272.7 395.7C272.4 395.1 272.6 393.5 273.6 393.1C274.6 392.6 276.9 392.8 278.8 393.1C280.7 393.3 283.8 393.9 285.0 394.8C286.1 395.7 286.3 397.3 285.8 398.3C285.4 399.3 283.1 399.9 282.3 400.9C281.6 402.0 281.3 403.0 281.5 404.4C281.6 405.9 281.9 407.8 283.2 409.7C284.5 411.6 286.9 414.4 289.3 415.8C291.8 417.3 295.5 417.9 298.1 418.5C300.7 419.0 302.7 418.5 305.1 419.3C307.5 420.1 311.2 422.5 312.5 423.2" fill="none" stroke="#000" stroke-width="0.75" stroke-linecap="butt" stroke-linejoin="round"/>
</g>
<clipPath id="tc3"><path d="M317.5 340.0L397.0 340.0L397.0 400.0L317.5 400.0Z"/></clipPath><g clip-path="url(#tc3)">
<path d="M320.8 346.1C320.5 346.9 319.2 349.2 318.5 351.0C317.8 352.8 317.4 355.3 316.8 356.8C316.1 358.4 314.8 360.0 314.4 360.6" fill="none" stroke="#000" stroke-width="1.40" stroke-linecap="butt" stroke-linejoin="round"/>
<path d="M321.4 357.1C321.7 356.2 322.3 353.0 323.2 351.6C324.1 350.2 325.1 349.3 326.7 348.7C328.2 348.0 330.4 347.6 332.5 347.7C334.7 347.8 337.4 348.3 339.5 349.3C341.7 350.2 343.9 351.7 345.4 353.3C346.8 355.0 347.8 357.2 348.3 359.2C348.7 361.1 348.5 363.1 348.1 365.0C347.6 367.0 346.3 369.0 345.6 370.9C344.9 372.7 344.0 374.2 343.6 376.1C343.2 378.1 343.1 380.3 343.0 382.5C343.0 384.8 343.4 387.4 343.4 389.5C343.4 391.7 343.2 393.5 343.0 395.4C342.9 397.2 342.5 399.8 342.4 400.6" fill="none" stroke="#000" stroke-width="1.40" stroke-linecap="butt" stroke-linejoin="round"/>
<path d="M337.8 346.3C339.4 347.0 344.9 349.0 347.7 350.4C350.5 351.9 352.7 353.3 354.7 355.1C356.8 356.8 358.7 359.1 360.0 360.9C361.2 362.8 362.5 364.7 362.3 366.2C362.1 367.6 360.3 368.7 358.8 369.7C357.3 370.7 355.2 371.4 353.5 372.3C351.9 373.1 350.1 373.6 348.9 374.6C347.7 375.6 346.9 376.9 346.3 378.5C345.7 380.0 345.3 381.7 345.1 383.7C344.9 385.8 345.1 388.6 345.1 390.7C345.2 392.9 345.4 394.9 345.6 396.6C345.8 398.2 346.2 400.0 346.3 400.6" fill="none" stroke="#000" stroke-width="1.40" stroke-linecap="butt" stroke-linejoin="round"/>
<path d="M314.4 380.4C315.3 379.8 317.9 378.0 319.7 376.7C321.4 375.4 323.7 374.1 324.9 372.6C326.2 371.2 327.0 369.7 327.3 367.9C327.6 366.2 326.5 364.0 326.7 362.1C326.8 360.2 327.3 358.1 328.1 356.6C328.8 355.2 329.8 354.0 331.1 353.3C332.4 352.7 334.4 352.3 336.0 352.5C337.7 352.7 339.5 353.6 340.9 354.5C342.4 355.4 343.8 356.6 344.8 358.0C345.8 359.5 346.6 361.6 346.8 363.3C346.9 364.9 346.3 366.6 345.6 367.9C344.9 369.3 343.5 370.3 342.4 371.4C341.4 372.6 340.4 373.7 339.5 374.9C338.7 376.2 337.9 377.4 337.4 379.0C336.9 380.7 336.7 382.9 336.6 384.9C336.5 386.8 337.1 389.0 337.0 390.7C336.9 392.5 336.5 393.7 336.0 395.4C335.6 397.0 334.6 399.8 334.3 400.6" fill="none" stroke="#000" stroke-width="1.40" stroke-linecap="butt" stroke-linejoin="round"/>
<path d="M374.6 367.4C375.1 365.7 376.5 364.4 378.1 363.3C379.6 362.1 382.0 360.9 383.9 360.4C385.9 359.8 388.1 359.4 389.7 359.8C391.4 360.2 392.8 361.4 393.8 362.7C394.9 364.0 395.8 365.6 396.1 367.4C396.3 369.1 396.1 371.5 395.4 373.2C394.6 374.9 393.1 376.4 391.8 377.5C390.6 378.6 389.1 379.3 388.0 379.7C386.9 380.2 386.5 380.5 385.1 380.2C383.6 379.9 380.9 379.0 379.2 377.9C377.5 376.7 375.6 374.9 374.8 373.2C374.0 371.4 374.0 369.0 374.6 367.4Z" fill="none" stroke="#000" stroke-width="1.40" stroke-linecap="butt" stroke-linejoin="round"/>
<path d="M381.0 368.5C381.4 367.4 382.1 365.8 383.3 365.0C384.6 364.2 387.1 363.7 388.6 363.9C390.0 364.0 391.4 364.9 392.1 366.2C392.8 367.5 393.4 370.0 392.9 371.4C392.4 372.9 390.3 374.5 388.8 374.9C387.3 375.4 385.2 374.9 383.9 374.4C382.6 373.8 381.6 372.5 381.1 371.6C380.6 370.6 380.6 369.6 381.0 368.5Z" fill="none" stroke="#000" stroke-width="1.50" stroke-linecap="butt" stroke-linejoin="round"/>
<path d="M374.0 372.0C372.9 372.0 369.6 371.8 367.6 371.6C365.5 371.3 363.3 371.0 361.7 370.6C360.2 370.2 359.4 369.9 358.2 369.1C357.0 368.3 355.7 366.3 354.7 365.6C353.7 364.9 353.3 364.5 352.4 365.0C351.4 365.5 349.7 367.4 348.9 368.5C348.0 369.7 347.3 371.0 347.1 372.0C346.9 373.1 347.6 374.5 347.7 374.9" fill="none" stroke="#000" stroke-width="0.75" stroke-linecap="butt" stroke-linejoin="round"/>
<path d="M374.8 373.4C373.6 374.0 369.5 375.8 367.6 376.7C365.6 377.6 364.2 378.8 362.9 379.0C361.5 379.2 360.5 378.1 359.4 377.9C358.2 377.6 356.9 377.3 355.9 377.6C354.8 377.9 353.4 378.8 353.0 379.6C352.5 380.4 352.5 381.8 353.0 382.5C353.4 383.3 354.8 384.2 355.9 384.3C356.9 384.4 358.5 383.7 359.4 383.1C360.3 382.5 360.6 380.7 361.1 380.8C361.6 380.9 362.0 382.6 362.3 383.7C362.6 384.8 363.0 386.0 362.9 387.2C362.8 388.4 362.5 389.8 361.7 390.7C360.9 391.6 359.6 392.1 358.2 392.5C356.8 392.9 354.7 392.6 353.5 393.1C352.4 393.5 351.4 394.3 351.2 395.4C351.0 396.5 352.2 398.8 352.4 399.5" fill="none" stroke="#000" stroke-width="0.75" stroke-linecap="butt" stroke-linejoin="round"/>
<path d="M314.4 387.2C314.8 388.2 315.8 391.4 316.8 393.1C317.7 394.7 318.8 396.2 320.3 397.1C321.7 398.1 323.9 398.8 325.5 398.7C327.2 398.6 328.9 397.6 330.2 396.6C331.4 395.5 332.5 393.8 333.1 392.5C333.7 391.1 334.0 389.5 333.7 388.4C333.4 387.3 332.2 386.2 331.4 385.8C330.5 385.5 329.1 385.8 328.4 386.3C327.7 386.8 327.2 388.1 327.3 389.0C327.4 389.8 328.1 390.8 329.0 391.3C329.9 391.8 331.4 391.4 332.5 391.9C333.6 392.4 334.8 393.0 335.4 394.2C336.1 395.5 336.4 398.6 336.6 399.5" fill="none" stroke="#000" stroke-width="0.80" stroke-linecap="butt" stroke-linejoin="round"/>
<path d="M350.1 346.3C351.2 346.7 354.9 347.6 357.1 348.7C359.2 349.7 361.2 351.4 362.9 352.8C364.7 354.1 365.8 355.8 367.6 356.8C369.4 357.9 371.3 358.9 373.4 358.9C375.6 359.0 378.1 358.0 380.4 357.4C382.8 356.9 385.5 356.0 387.5 355.7C389.4 355.4 390.7 355.4 392.0 355.7C393.3 356.0 394.2 356.3 395.3 357.3C396.3 358.3 397.7 359.8 398.4 361.5C399.2 363.2 399.5 365.4 399.6 367.4C399.7 369.3 399.4 371.5 399.0 373.2C398.6 374.9 397.5 375.9 397.3 377.3C397.1 378.6 397.4 380.1 397.8 381.4C398.3 382.6 399.0 383.9 400.2 384.9C401.4 385.8 403.1 386.8 404.9 387.2C406.6 387.6 408.7 387.6 410.7 387.4C412.6 387.3 414.5 386.8 416.5 386.3C418.5 385.8 421.6 384.6 422.6 384.3" fill="none" stroke="#000" stroke-width="1.40" stroke-linecap="butt" stroke-linejoin="round"/>
</g>
<clipPath id="tc4"><path d="M397.0 340.0L452.5 340.0L452.5 400.0L397.0 400.0Z"/></clipPath><g clip-path="url(#tc4)">
<path d="M350.1 346.3C351.2 346.7 354.9 347.6 357.1 348.7C359.2 349.7 361.2 351.4 362.9 352.8C364.7 354.1 365.8 355.8 367.6 356.8C369.4 357.9 371.3 358.9 373.4 358.9C375.6 359.0 378.1 358.0 380.4 357.4C382.8 356.9 385.5 356.0 387.5 355.7C389.4 355.4 390.7 355.4 392.0 355.7C393.3 356.0 394.2 356.3 395.3 357.3C396.3 358.3 397.7 359.8 398.4 361.5C399.2 363.2 399.5 365.4 399.6 367.4C399.7 369.3 399.4 371.5 399.0 373.2C398.6 374.9 397.5 375.9 397.3 377.3C397.1 378.6 397.4 380.1 397.8 381.4C398.3 382.6 399.0 383.9 400.2 384.9C401.4 385.8 403.1 386.8 404.9 387.2C406.6 387.6 408.7 387.6 410.7 387.4C412.6 387.3 414.5 386.8 416.5 386.3C418.5 385.8 421.6 384.6 422.6 384.3" fill="none" stroke="#000" stroke-width="1.40" stroke-linecap="butt" stroke-linejoin="round"/>
<path d="M442.8 384.9C443.7 384.6 446.2 384.1 448.1 383.1C449.9 382.2 452.0 380.4 453.9 379.0C455.9 377.7 457.8 376.2 459.7 374.9C461.7 373.7 464.6 372.3 465.6 371.8" fill="none" stroke="#000" stroke-width="1.40" stroke-linecap="butt" stroke-linejoin="round"/>
<path d="M397.8 377.3C398.8 377.1 401.5 376.7 403.7 376.1C405.8 375.5 408.6 374.8 410.7 373.8C412.8 372.8 414.6 371.5 416.5 370.3C418.5 369.0 420.6 367.5 422.4 366.2C424.1 364.9 425.5 364.0 427.0 362.7C428.6 361.3 430.2 359.4 431.7 358.0C433.3 356.7 434.8 355.7 436.4 354.5C437.9 353.3 439.9 352.0 441.1 351.0C442.2 350.0 443.0 349.1 443.4 348.7" fill="none" stroke="#000" stroke-width="1.40" stroke-linecap="butt" stroke-linejoin="round"/>
<path d="M402.5 378.6C403.7 378.4 407.4 377.9 409.5 377.3C411.7 376.7 413.4 375.9 415.4 374.9C417.3 374.0 419.5 372.6 421.2 371.4C423.0 370.3 424.7 368.7 425.9 367.9C427.0 367.2 427.2 367.1 428.2 366.8C429.2 366.5 430.5 366.7 431.7 366.2C432.9 365.7 434.1 365.0 435.2 363.9C436.4 362.7 437.6 360.6 438.7 359.2C439.9 357.7 441.1 356.1 442.2 355.1C443.4 354.1 444.7 353.9 445.7 353.3C446.8 352.8 447.9 352.4 448.6 351.6C449.4 350.8 450.2 349.5 450.4 348.7C450.6 347.8 450.0 346.7 449.9 346.3" fill="none" stroke="#000" stroke-width="1.40" stroke-linecap="butt" stroke-linejoin="round"/>
<path d="M425.9 365.3C426.0 364.6 426.3 363.3 427.3 362.7C428.3 362.1 430.8 361.4 431.7 361.5C432.6 361.6 433.3 362.7 432.9 363.4C432.5 364.1 430.4 365.1 429.4 365.7C428.3 366.3 427.2 367.0 426.6 366.9C426.0 366.8 425.8 366.0 425.9 365.3Z" fill="none" stroke="#000" stroke-width="0.90" stroke-linecap="butt" stroke-linejoin="round"/>
<path d="M439.9 348.9C440.2 348.1 441.1 347.3 442.2 346.9C443.4 346.5 445.5 346.1 446.9 346.3C448.3 346.5 449.7 347.3 450.4 348.1C451.1 348.9 451.4 350.1 451.0 351.0C450.6 351.9 449.3 352.9 448.1 353.3C446.8 353.8 444.7 353.8 443.4 353.6C442.1 353.3 441.1 352.5 440.5 351.7C439.9 350.9 439.6 349.7 439.9 348.9Z" fill="none" stroke="#000" stroke-width="0.90" stroke-linecap="butt" stroke-linejoin="round"/>
<path d="M404.9 349.3C405.0 350.3 405.1 353.4 405.4 355.7C405.7 357.9 406.7 360.4 406.6 362.7C406.5 365.0 405.5 367.7 404.9 369.7C404.2 371.7 402.9 373.8 402.5 374.6" fill="none" stroke="#000" stroke-width="1.40" stroke-linecap="butt" stroke-linejoin="round" stroke-dasharray="3.6 2.4"/>
<path d="M404.9 349.3C405.6 349.0 407.6 347.5 409.5 347.5C411.5 347.5 414.4 348.5 416.5 349.3C418.7 350.0 420.2 351.6 422.4 352.2C424.5 352.8 427.3 352.8 429.4 352.9C431.4 353.0 433.8 352.8 434.6 352.8" fill="none" stroke="#000" stroke-width="1.40" stroke-linecap="butt" stroke-linejoin="round" stroke-dasharray="3.6 2.4"/>
<path d="M436.4 355.1C437.0 355.6 438.9 356.7 439.9 358.0C440.9 359.3 441.9 360.9 442.2 362.7C442.5 364.4 442.1 367.0 441.6 368.5C441.2 370.1 440.4 371.2 439.3 372.0C438.2 372.9 436.7 373.7 435.2 373.8C433.8 373.9 431.9 373.2 430.5 372.6C429.2 372.0 427.9 371.2 427.0 370.3C426.2 369.4 425.6 367.8 425.3 367.4" fill="none" stroke="#000" stroke-width="1.40" stroke-linecap="butt" stroke-linejoin="round" stroke-dasharray="3.6 2.4"/>
<path d="M404.3 382.5C405.3 382.4 408.5 382.4 410.7 382.0C412.9 381.5 415.4 380.2 417.7 379.6C420.0 379.0 422.8 378.5 424.7 378.5C426.7 378.5 427.4 379.2 429.4 379.6C431.3 380.0 434.2 380.7 436.4 380.8C438.5 380.9 440.5 380.7 442.2 380.2C444.0 379.7 445.5 378.7 446.9 377.9C448.3 377.0 449.0 376.0 450.4 374.9C451.8 373.9 453.5 372.6 455.1 371.4C456.6 370.3 458.0 369.2 459.7 367.9C461.5 366.7 464.6 364.7 465.6 364.1" fill="none" stroke="#000" stroke-width="1.40" stroke-linecap="butt" stroke-linejoin="round" stroke-dasharray="3.6 2.4"/>
<path d="M455.1 347.5C455.4 348.1 456.8 349.7 456.8 351.0C456.8 352.3 456.1 353.9 455.1 355.1C454.0 356.3 452.0 357.3 450.4 358.0C448.8 358.7 446.5 359.2 445.7 359.4" fill="none" stroke="#000" stroke-width="1.40" stroke-linecap="butt" stroke-linejoin="round" stroke-dasharray="3.6 2.4"/>
<path d="M384.4 390.1C385.7 390.2 389.6 390.4 392.0 390.7C394.4 391.0 396.7 391.6 399.0 391.9C401.4 392.2 403.5 392.6 406.0 392.5C408.6 392.4 411.7 391.9 414.2 391.3C416.7 390.7 418.9 389.5 421.2 389.0C423.5 388.4 425.9 388.1 428.2 388.1C430.5 388.1 432.7 388.8 435.2 389.0C437.7 389.1 440.9 389.4 443.4 389.0C445.9 388.6 448.1 387.7 450.4 386.6C452.7 385.6 454.9 384.0 457.4 382.5C459.9 381.0 464.2 378.5 465.6 377.6" fill="none" stroke="#000" stroke-width="1.40" stroke-linecap="butt" stroke-linejoin="round"/>
<path d="M414.8 400.6C415.5 399.9 417.4 397.4 418.9 396.0C420.3 394.5 422.0 393.1 423.5 392.1C425.1 391.2 426.3 390.5 428.2 390.2C430.2 390.0 432.7 390.6 435.2 390.7C437.7 390.8 440.7 390.8 443.4 390.7C446.1 390.6 448.8 390.7 451.6 390.1C454.3 389.5 457.4 388.3 459.7 387.2C462.1 386.1 464.6 384.1 465.6 383.5" fill="none" stroke="#000" stroke-width="1.40" stroke-linecap="butt" stroke-linejoin="round"/>
<path d="M424.7 400.6C425.3 399.8 426.8 396.8 428.2 395.6C429.6 394.4 430.9 393.8 432.9 393.3C434.8 392.8 437.4 392.6 439.9 392.6C442.4 392.5 445.9 392.9 448.1 393.1C450.2 393.2 452.2 393.2 453.0 393.3" fill="none" stroke="#000" stroke-width="1.40" stroke-linecap="butt" stroke-linejoin="round"/>
<path d="M465.6 389.5C464.6 389.7 461.5 390.1 459.7 390.7C458.0 391.3 456.1 392.1 455.1 393.1C454.0 394.0 453.5 395.3 453.3 396.6C453.1 397.8 453.8 400.0 453.9 400.6" fill="none" stroke="#000" stroke-width="1.40" stroke-linecap="butt" stroke-linejoin="round"/>
</g>
<clipPath id="tc5"><path d="M317.5 400.0L432.5 400.0L432.5 422.0L317.5 422.0Z"/></clipPath><g clip-path="url(#tc5)">
<path d="M390.7 415.8C390.5 413.8 391.6 412.1 393.0 410.9C394.4 409.8 396.9 408.9 399.1 408.8C401.3 408.8 404.3 409.4 406.1 410.6C407.9 411.7 409.5 413.9 409.6 415.8C409.8 417.7 408.4 420.5 407.0 422.0C405.5 423.4 403.0 424.4 400.8 424.6C398.7 424.7 395.5 424.3 393.8 422.8C392.1 421.4 390.8 417.8 390.7 415.8Z" fill="none" stroke="#000" stroke-width="1.40" stroke-linecap="butt" stroke-linejoin="round"/>
<path d="M389.5 399.7C388.7 399.8 386.2 399.6 385.1 400.4C383.9 401.2 383.0 402.7 382.4 404.4C381.9 406.1 382.2 408.7 381.6 410.6C381.0 412.5 379.7 414.1 378.9 415.8C378.2 417.6 377.8 419.6 377.2 421.1C376.6 422.6 375.7 424.3 375.4 424.9" fill="none" stroke="#000" stroke-width="1.40" stroke-linecap="butt" stroke-linejoin="round"/>
<path d="M409.6 424.9C410.5 423.9 412.5 420.1 414.9 418.5C417.2 416.8 420.1 415.7 423.6 415.0C427.1 414.2 433.8 413.9 435.9 413.7" fill="none" stroke="#000" stroke-width="1.40" stroke-linecap="butt" stroke-linejoin="round"/>
<path d="M420.1 424.9C421.3 424.0 424.5 420.6 427.1 419.3C429.8 418.1 434.4 417.9 435.9 417.6" fill="none" stroke="#000" stroke-width="1.40" stroke-linecap="butt" stroke-linejoin="round"/>
<path d="M350.9 395.7C351.6 396.4 353.4 398.6 355.3 400.1C357.2 401.5 360.0 403.3 362.3 404.4C364.6 405.6 367.3 405.9 369.3 407.1C371.4 408.2 373.3 409.7 374.6 411.4C375.9 413.2 376.3 415.7 377.2 417.6C378.1 419.4 379.4 421.7 379.8 422.5" fill="none" stroke="#000" stroke-width="0.75" stroke-linecap="butt" stroke-linejoin="round"/>
<path d="M331.6 393.9C331.1 395.0 329.5 398.2 328.1 400.1C326.8 402.0 324.6 403.0 323.8 405.3C322.9 407.7 322.6 411.7 322.9 414.1C323.2 416.4 324.8 417.5 325.5 419.3C326.2 421.1 327.0 424.0 327.3 424.9" fill="none" stroke="#000" stroke-width="0.75" stroke-linecap="butt" stroke-linejoin="round"/>
</g>
<clipPath id="tc6"><path d="M452.5 340.0L552.0 340.0L552.0 422.0L432.5 422.0L432.5 400.0L452.5 400.0Z"/></clipPath><g clip-path="url(#tc6)">
<path d="M544.8 350.1C543.7 350.6 540.5 352.2 538.6 352.8C536.7 353.3 534.2 353.5 533.4 353.6" fill="none" stroke="#000" stroke-width="1.40" stroke-linecap="butt" stroke-linejoin="round"/>
<path d="M515.8 360.6C514.7 361.7 511.5 365.2 508.8 366.8C506.2 368.4 503.3 369.4 500.1 370.3C496.9 371.2 492.5 370.6 489.6 372.0C486.6 373.5 485.5 377.4 482.6 379.0C479.6 380.6 475.6 380.9 472.0 381.7C468.5 382.4 464.7 382.4 461.5 383.4C458.3 384.4 455.4 386.6 452.8 387.8C450.1 389.0 448.4 389.8 445.8 390.4C443.1 391.1 439.8 391.5 437.0 391.7C434.2 391.8 430.4 391.4 429.1 391.3" fill="none" stroke="#000" stroke-width="1.40" stroke-linecap="butt" stroke-linejoin="round"/>
<path d="M525.5 346.6C523.9 347.5 518.6 350.0 515.8 351.9C513.1 353.8 511.2 356.3 508.8 358.0C506.5 359.8 503.7 361.1 501.8 362.4C499.9 363.7 498.2 365.3 497.4 365.9" fill="none" stroke="#000" stroke-width="1.40" stroke-linecap="butt" stroke-linejoin="round"/>
<path d="M480.8 376.4C479.1 376.7 473.8 377.3 470.3 378.2C466.8 379.0 463.0 380.2 459.8 381.7C456.6 383.1 453.9 385.8 451.0 386.9C448.1 388.1 445.2 388.5 442.3 388.7C439.3 388.8 435.7 388.1 433.5 387.8C431.3 387.5 429.9 387.1 429.1 386.9" fill="none" stroke="#000" stroke-width="1.40" stroke-linecap="butt" stroke-linejoin="round"/>
<path d="M507.1 345.8C505.3 347.2 499.8 352.0 496.6 354.5C493.4 357.0 491.0 358.9 487.8 360.6C484.6 362.4 480.5 363.9 477.3 365.0C474.1 366.2 471.2 366.3 468.5 367.7C465.9 369.0 464.2 370.9 461.5 372.9C458.9 375.0 455.5 377.9 452.8 379.9C450.0 382.0 447.5 384.4 444.9 385.2C442.3 386.0 438.3 384.7 437.0 384.6" fill="none" stroke="#000" stroke-width="1.40" stroke-linecap="butt" stroke-linejoin="round"/>
<path d="M490.4 347.2C490.0 348.1 489.7 351.2 487.8 352.8C485.9 354.3 482.3 355.4 479.1 356.3C475.8 357.1 471.2 356.8 468.5 358.0C465.9 359.2 465.3 361.5 463.3 363.3C461.2 365.0 458.9 366.9 456.3 368.5C453.7 370.1 450.4 372.0 447.5 372.9C444.6 373.8 441.8 373.8 438.8 373.8C435.7 373.8 430.7 373.1 429.1 372.9" fill="none" stroke="#000" stroke-width="1.40" stroke-linecap="butt" stroke-linejoin="round" stroke-dasharray="3.6 2.4"/>
<path d="M458.0 347.2C457.7 348.1 457.7 350.9 456.3 352.8C454.8 354.6 451.9 356.4 449.3 358.0C446.6 359.6 443.9 361.1 440.5 362.4C437.2 363.7 431.0 365.3 429.1 365.9" fill="none" stroke="#000" stroke-width="1.40" stroke-linecap="butt" stroke-linejoin="round" stroke-dasharray="3.6 2.4"/>
<path d="M429.1 360.1C430.4 359.6 434.8 358.5 437.0 357.1C439.2 355.8 441.4 352.8 442.3 351.9" fill="none" stroke="#000" stroke-width="1.40" stroke-linecap="butt" stroke-linejoin="round" stroke-dasharray="3.6 2.4"/>
<path d="M440.5 346.1C440.8 346.9 441.2 349.8 442.3 351.0C443.3 352.2 445.2 353.2 446.6 353.1C448.0 353.1 449.9 351.8 450.7 350.7C451.5 349.5 451.3 346.9 451.4 346.1" fill="none" stroke="#000" stroke-width="1.40" stroke-linecap="butt" stroke-linejoin="round"/>
<path d="M545.6 366.8C544.5 366.9 540.4 366.8 538.6 367.7C536.9 368.5 535.6 370.1 535.1 372.0C534.7 373.9 535.0 377.4 536.0 379.0C537.0 380.6 539.6 381.4 541.2 381.7C542.9 382.0 544.9 380.9 545.6 380.8" fill="none" stroke="#000" stroke-width="1.40" stroke-linecap="butt" stroke-linejoin="round"/>
<path d="M545.6 388.7C543.9 388.8 538.0 388.7 535.1 389.6C532.2 390.4 529.7 392.3 528.1 393.9C526.5 395.5 525.3 397.6 525.5 399.2C525.6 400.8 527.1 402.7 529.0 403.6C530.9 404.4 534.1 404.7 536.9 404.4C539.6 404.1 544.2 402.3 545.6 401.8" fill="none" stroke="#000" stroke-width="1.40" stroke-linecap="butt" stroke-linejoin="round"/>
<path d="M545.6 408.8C544.5 409.3 540.7 410.0 538.6 411.4C536.6 412.9 533.9 415.4 533.4 417.6C532.8 419.8 534.8 423.4 535.1 424.6" fill="none" stroke="#000" stroke-width="1.40" stroke-linecap="butt" stroke-linejoin="round"/>
<path d="M545.6 414.1C544.8 414.7 541.4 415.8 540.4 417.6C539.3 419.3 539.6 423.4 539.5 424.6" fill="none" stroke="#000" stroke-width="1.40" stroke-linecap="butt" stroke-linejoin="round"/>
<path d="M502.7 403.2L505.3 400.6L508.0 403.2L505.3 405.8Z" fill="none" stroke="#000" stroke-width="1.00" stroke-linecap="butt" stroke-linejoin="round"/>
<path d="M429.1 395.7C431.6 395.2 438.6 393.6 444.0 393.1C449.4 392.5 456.3 392.0 461.5 392.2C466.8 392.3 471.9 393.2 475.6 393.9C479.2 394.7 482.0 395.4 483.4 396.6C484.9 397.7 484.7 399.6 484.3 400.9C483.9 402.3 482.6 403.3 480.8 404.4C479.1 405.6 475.7 406.9 473.8 407.9C471.9 409.0 470.1 410.4 469.4 410.9" fill="none" stroke="#000" stroke-width="1.40" stroke-linecap="butt" stroke-linejoin="round"/>
<path d="M480.8 417.6C482.6 417.7 488.1 418.7 491.3 418.5C494.5 418.2 497.4 416.7 500.1 415.8C502.7 415.0 504.7 413.3 507.1 413.2C509.4 413.1 511.8 413.9 514.1 415.0C516.4 416.0 518.2 418.3 521.1 419.3C524.0 420.4 529.2 420.2 531.6 421.1C534.0 422.0 534.8 424.0 535.5 424.6" fill="none" stroke="#000" stroke-width="1.40" stroke-linecap="butt" stroke-linejoin="round"/>
</g>
<clipPath id="tc7"><path d="M432.5 392.0L480.0 392.0L480.0 414.0L432.5 414.0Z"/></clipPath><g clip-path="url(#tc7)">
<path d="M453.7 401.8C453.7 401.0 457.3 399.7 458.9 399.7C460.5 399.7 463.3 401.0 463.3 401.8C463.3 402.6 460.5 404.4 458.9 404.4C457.3 404.4 453.7 402.6 453.7 401.8Z" fill="none" stroke="#000" stroke-width="1.40" stroke-linecap="butt" stroke-linejoin="round"/>
<path d="M439.6 402.7C439.6 400.8 444.2 398.7 447.5 397.4C450.9 396.1 456.0 394.8 459.8 394.8C463.6 394.8 468.1 396.3 470.3 397.4C472.5 398.6 473.2 400.4 472.9 401.8C472.6 403.3 471.0 404.9 468.5 406.2C466.1 407.5 461.5 409.3 458.0 409.7C454.5 410.1 450.6 410.0 447.5 408.8C444.5 407.7 439.6 404.6 439.6 402.7Z" fill="none" stroke="#000" stroke-width="1.40" stroke-linecap="butt" stroke-linejoin="round"/>
</g>
<clipPath id="tc8"><path d="M80.0 422.0L202.5 422.0L202.5 498.0L80.0 498.0Z"/></clipPath><g clip-path="url(#tc8)">
<path d="M105.1 419.1C105.3 420.1 105.3 423.4 106.0 425.3C106.8 427.2 108.1 429.1 109.5 430.5C111.0 431.9 113.2 433.2 114.8 433.7C116.4 434.1 118.6 433.8 119.2 433.1C119.7 432.5 118.0 430.8 118.3 429.6C118.6 428.5 119.5 427.2 120.9 426.1C122.4 425.1 124.6 424.2 127.0 423.5C129.5 422.8 132.6 422.2 135.8 421.8C139.0 421.3 144.6 421.0 146.3 420.9" fill="none" stroke="#000" stroke-width="1.40" stroke-linecap="butt" stroke-linejoin="round"/>
<path d="M120.0 427.0C121.8 425.4 126.8 423.6 130.6 422.6C134.3 421.6 138.1 421.3 142.8 420.9C147.5 420.4 153.9 419.9 158.6 420.0C163.3 420.1 169.1 421.0 170.8 421.8C172.6 422.5 171.1 424.0 169.1 424.4C167.0 424.7 162.4 423.9 158.6 423.9C154.8 423.8 150.1 423.8 146.3 423.9C142.5 423.9 138.7 424.0 135.8 424.4C132.9 424.8 130.8 425.3 128.8 426.1C126.8 427.0 124.6 428.5 123.5 429.6C122.5 430.8 122.2 431.7 122.7 433.1C123.1 434.6 125.9 437.7 126.2 438.4C126.5 439.1 125.4 438.5 124.4 437.5C123.4 436.5 120.8 434.0 120.0 432.3C119.3 430.5 118.3 428.6 120.0 427.0Z" fill="none" stroke="#000" stroke-width="1.40" stroke-linecap="butt" stroke-linejoin="round"/>
<path d="M86.8 469.9C88.2 470.1 92.6 471.1 95.5 470.8C98.4 470.5 101.6 468.3 104.3 468.2C106.9 468.0 109.4 469.5 111.3 469.9C113.2 470.4 114.6 471.4 115.7 470.8C116.7 470.2 117.4 468.6 117.4 466.4C117.4 464.2 115.8 460.1 115.7 457.7C115.5 455.2 115.8 452.8 116.5 451.5C117.3 450.2 118.7 449.5 120.0 449.8C121.4 450.1 123.0 452.1 124.4 453.3C125.9 454.5 126.6 456.1 128.8 456.8C131.0 457.5 134.6 458.0 137.6 457.7C140.5 457.4 143.4 456.4 146.3 455.0C149.2 453.7 152.4 451.5 155.1 449.8C157.7 448.0 160.0 446.3 162.1 444.5C164.1 442.8 166.1 440.7 167.3 439.3C168.6 437.9 169.1 436.6 169.4 436.1" fill="none" stroke="#000" stroke-width="1.40" stroke-linecap="butt" stroke-linejoin="round"/>
<path d="M179.6 436.6C180.2 437.4 181.1 439.9 183.1 441.0C185.2 442.2 188.9 443.2 191.9 443.7C194.8 444.1 198.3 444.0 200.6 443.7C203.0 443.3 205.0 442.0 205.9 441.7" fill="none" stroke="#000" stroke-width="1.40" stroke-linecap="butt" stroke-linejoin="round"/>
<path d="M134.1 474.3C134.8 472.3 136.7 470.5 139.3 469.1C141.9 467.6 146.3 466.6 149.8 465.6C153.3 464.5 157.1 463.7 160.3 462.9C163.5 462.2 166.6 461.0 169.1 461.2C171.6 461.3 173.8 462.3 175.2 463.8C176.7 465.3 178.0 467.9 177.9 469.9C177.7 472.0 176.1 474.3 174.3 476.1C172.6 477.8 170.3 479.3 167.3 480.4C164.4 481.6 160.3 482.2 156.8 483.1C153.3 483.9 149.2 485.3 146.3 485.7C143.4 486.1 141.2 486.4 139.3 485.7C137.4 485.0 135.8 483.2 134.9 481.3C134.1 479.4 133.3 476.4 134.1 474.3Z" fill="none" stroke="#000" stroke-width="1.40" stroke-linecap="butt" stroke-linejoin="round"/>
<path d="M86.8 464.1C88.2 463.7 92.3 462.0 95.5 461.2C98.7 460.4 102.5 460.0 106.0 459.4C109.5 458.8 112.7 458.1 116.5 457.7C120.3 457.2 124.7 457.1 128.8 456.8C132.9 456.5 137.3 456.4 141.1 455.9C144.9 455.5 148.4 454.6 151.6 454.2C154.8 453.7 157.4 453.1 160.3 453.3C163.3 453.4 165.9 454.9 169.1 455.0C172.3 455.2 176.1 454.6 179.6 454.2C183.1 453.7 185.7 452.8 190.1 452.4C194.5 452.0 203.3 451.7 205.9 451.5" fill="none" stroke="#000" stroke-width="0.75" stroke-linecap="butt" stroke-linejoin="round"/>
<path d="M86.8 472.6C87.9 472.6 91.7 473.0 93.8 472.6C95.8 472.1 96.7 470.7 99.0 469.9C101.4 469.2 105.1 467.9 107.8 468.2C110.4 468.5 113.0 470.7 114.8 471.7C116.5 472.7 117.8 473.1 118.3 474.3C118.7 475.5 118.9 477.5 117.4 478.7C116.0 479.9 112.6 480.6 109.5 481.3C106.5 482.0 102.8 482.6 99.0 483.1C95.2 483.5 88.8 483.9 86.8 484.1" fill="none" stroke="#000" stroke-width="0.75" stroke-linecap="butt" stroke-linejoin="round"/>
<path d="M137.6 486.6C138.1 487.4 139.6 490.1 141.1 491.8C142.5 493.6 144.8 495.6 146.3 497.1C147.8 498.5 149.5 500.0 150.2 500.6" fill="none" stroke="#000" stroke-width="0.75" stroke-linecap="butt" stroke-linejoin="round"/>
<path d="M141.1 484.8C143.4 484.4 151.0 483.1 155.1 482.2C159.2 481.3 162.7 480.9 165.6 479.6C168.5 478.3 170.6 475.8 172.6 474.3C174.6 472.8 174.9 472.1 177.9 470.8C180.8 469.5 185.4 467.9 190.1 466.4C194.8 464.9 203.3 462.5 205.9 461.7" fill="none" stroke="#000" stroke-width="0.75" stroke-linecap="butt" stroke-linejoin="round"/>
<path d="M180.5 434.9C182.1 434.5 187.9 431.8 190.1 432.3C192.3 432.7 192.2 435.8 193.6 437.5C195.1 439.3 196.8 441.6 198.9 442.8C200.9 444.0 204.7 444.4 205.9 444.7" fill="none" stroke="#000" stroke-width="0.75" stroke-linecap="butt" stroke-linejoin="round"/>
</g>
<clipPath id="tc9"><path d="M202.5 422.0L317.5 422.0L317.5 498.0L202.5 498.0Z"/></clipPath><g clip-path="url(#tc9)">
<path d="M199.1 419.6C200.7 420.6 205.7 423.3 208.8 425.3C211.8 427.2 214.6 429.9 217.5 431.4C220.4 432.8 223.4 433.7 226.3 434.0C229.2 434.3 231.8 434.0 235.0 433.1C238.3 432.3 242.3 429.9 245.6 428.8C248.8 427.6 251.7 426.1 254.3 426.1C256.9 426.1 259.4 427.3 261.3 428.8C263.2 430.2 264.8 432.4 265.7 434.9C266.6 437.4 266.4 442.2 266.6 443.7" fill="none" stroke="#000" stroke-width="1.40" stroke-linecap="butt" stroke-linejoin="round"/>
<path d="M199.1 443.0C200.4 442.5 203.9 440.8 207.0 440.1C210.1 439.5 214.6 438.8 217.5 439.3C220.4 439.7 222.5 440.9 224.5 442.8C226.6 444.7 228.2 447.9 229.8 450.7C231.4 453.4 232.4 456.9 234.2 459.4C235.9 461.9 237.5 463.9 240.3 465.6C243.1 467.2 247.3 468.2 250.8 469.1C254.3 469.9 258.1 471.0 261.3 470.8C264.5 470.7 268.1 469.2 270.1 468.2C272.1 467.2 272.8 465.7 273.2 464.7C273.7 463.7 272.8 462.5 272.7 462.0" fill="none" stroke="#000" stroke-width="1.40" stroke-linecap="butt" stroke-linejoin="round"/>
<path d="M240.3 449.8C240.3 448.6 240.9 447.1 241.7 446.3C242.5 445.5 244.0 444.9 245.2 444.9C246.4 444.9 247.9 445.5 248.7 446.3C249.5 447.1 250.1 448.6 250.1 449.8C250.1 451.0 249.5 452.5 248.7 453.3C247.9 454.1 246.4 454.7 245.2 454.7C244.0 454.7 242.5 454.1 241.7 453.3C240.9 452.5 240.3 451.0 240.3 449.8Z" fill="none" stroke="#000" stroke-width="1.40" stroke-linecap="butt" stroke-linejoin="round" stroke-dasharray="3.6 2.4"/>
<path d="M224.2 500.9C224.5 499.7 225.1 495.8 226.3 493.6C227.5 491.3 229.2 489.2 231.5 487.4C233.9 485.7 237.1 484.4 240.3 483.1C243.5 481.8 247.6 480.3 250.8 479.6C254.0 478.8 257.2 478.3 259.6 478.7C261.9 479.1 263.7 480.3 264.8 482.2C265.9 484.1 266.2 487.6 266.2 490.1C266.2 492.6 265.4 495.3 264.8 497.1C264.2 498.9 263.1 500.3 262.7 500.9" fill="none" stroke="#000" stroke-width="1.40" stroke-linecap="butt" stroke-linejoin="round"/>
<path d="M320.9 489.7C320.2 490.7 317.4 493.5 316.5 495.3C315.6 497.2 315.8 500.0 315.6 500.9" fill="none" stroke="#000" stroke-width="1.40" stroke-linecap="butt" stroke-linejoin="round"/>
<path d="M271.8 419.1C273.3 420.1 277.1 423.5 280.6 425.3C284.1 427.0 288.8 428.2 292.9 429.6C296.9 431.1 302.2 433.4 305.1 434.0C308.0 434.6 309.3 434.0 310.4 433.1C311.4 432.3 311.5 430.4 311.2 428.8C311.0 427.2 309.6 425.1 308.6 423.5C307.7 421.9 306.0 419.9 305.5 419.1" fill="none" stroke="#000" stroke-width="0.75" stroke-linecap="butt" stroke-linejoin="round"/>
<path d="M320.9 431.0C320.3 431.5 318.0 432.9 317.4 434.0C316.8 435.1 316.8 436.6 317.4 437.5C318.0 438.4 320.3 439.1 320.9 439.4" fill="none" stroke="#000" stroke-width="0.75" stroke-linecap="butt" stroke-linejoin="round"/>
<path d="M296.4 448.9C296.9 448.2 299.6 446.9 301.6 447.2C303.7 447.4 306.6 449.5 308.6 450.7C310.7 451.8 313.3 453.1 313.9 454.2C314.5 455.2 313.6 457.0 312.1 457.1C310.7 457.3 307.5 456.0 305.1 455.0C302.8 454.1 299.6 452.6 298.1 451.5C296.6 450.5 295.8 449.6 296.4 448.9Z" fill="none" stroke="#000" stroke-width="0.75" stroke-linecap="butt" stroke-linejoin="round"/>
<path d="M300.7 443.7L305.1 443.1L306.0 448.0L303.4 446.6Z" fill="none" stroke="#000" stroke-width="0.90" stroke-linecap="butt" stroke-linejoin="round"/>
<path d="M199.1 446.3C200.7 446.1 205.1 445.4 208.8 445.4C212.4 445.4 217.2 446.0 221.0 446.3C224.8 446.6 228.3 446.9 231.5 447.2C234.7 447.4 236.8 447.6 240.3 448.0C243.8 448.5 249.1 449.3 252.6 449.8C256.1 450.2 258.8 450.8 261.3 450.7C263.8 450.5 266.4 449.2 267.4 448.9" fill="none" stroke="#000" stroke-width="0.75" stroke-linecap="butt" stroke-linejoin="round"/>
<path d="M199.1 453.3C200.4 453.3 205.0 453.7 207.0 453.3C209.1 452.8 210.8 451.5 211.4 450.7C212.0 449.8 211.5 448.8 210.5 448.0C209.5 447.3 207.2 446.6 205.3 446.3C203.4 446.0 200.1 446.3 199.1 446.3" fill="none" stroke="#000" stroke-width="0.75" stroke-linecap="butt" stroke-linejoin="round"/>
<path d="M199.1 463.8C201.0 463.5 206.6 462.5 210.5 462.0C214.5 461.6 218.7 461.2 222.8 461.2C226.9 461.2 231.2 462.0 235.0 462.0C238.8 462.0 243.1 461.9 245.6 461.2C248.0 460.4 249.2 459.1 249.9 457.7C250.7 456.2 249.9 453.3 249.9 452.4" fill="none" stroke="#000" stroke-width="0.75" stroke-linecap="butt" stroke-linejoin="round"/>
<path d="M237.7 500.9C239.6 499.9 245.1 496.1 249.1 494.5C253.0 492.8 256.9 492.0 261.3 491.0C265.7 489.9 270.4 489.1 275.3 488.3C280.3 487.6 286.1 487.0 291.1 486.6C296.1 486.1 300.2 486.3 305.1 485.7C310.1 485.1 318.3 483.4 320.9 482.9" fill="none" stroke="#000" stroke-width="0.75" stroke-linecap="butt" stroke-linejoin="round"/>
</g>
<clipPath id="tc10"><path d="M317.5 422.0L432.5 422.0L432.5 498.0L317.5 498.0Z"/></clipPath><g clip-path="url(#tc10)">
<path d="M350.0 442.8C350.9 440.9 351.5 438.8 353.5 437.5C355.6 436.2 359.4 435.2 362.3 434.9C365.2 434.6 368.7 434.7 371.1 435.8C373.4 436.8 375.3 438.8 376.3 441.0C377.3 443.2 377.6 446.6 377.2 448.9C376.8 451.2 375.6 453.3 373.7 455.0C371.8 456.8 368.6 458.6 365.8 459.4C363.0 460.2 359.5 460.7 357.0 459.9C354.6 459.2 352.3 456.9 350.9 455.0C349.5 453.2 348.8 451.0 348.6 448.9C348.5 446.9 349.2 444.7 350.0 442.8Z" fill="none" stroke="#000" stroke-width="1.40" stroke-linecap="butt" stroke-linejoin="round"/>
<path d="M337.8 419.1C337.6 420.4 337.6 424.2 336.9 427.0C336.2 429.8 334.1 432.8 333.4 435.8C332.7 438.7 332.2 441.3 332.5 444.5C332.8 447.7 334.3 452.3 335.1 455.0C336.0 457.8 337.3 460.1 337.8 461.2" fill="none" stroke="#000" stroke-width="1.40" stroke-linecap="butt" stroke-linejoin="round"/>
<path d="M334.6 474.7C333.4 475.5 329.7 477.6 327.3 479.6C324.9 481.6 322.0 484.2 320.3 486.6C318.5 488.9 317.5 491.2 316.8 493.6C316.0 496.0 316.0 499.7 315.9 500.9" fill="none" stroke="#000" stroke-width="1.40" stroke-linecap="butt" stroke-linejoin="round"/>
<path d="M435.9 419.6C434.4 420.0 429.8 420.8 427.1 421.8C424.5 422.7 422.5 423.9 420.1 425.3C417.8 426.6 415.4 427.9 413.1 429.6C410.8 431.4 408.1 433.7 406.1 435.8C404.1 437.8 402.6 439.7 400.8 441.9C399.1 444.1 396.9 446.6 395.6 448.9C394.3 451.2 394.1 453.7 393.0 455.9C391.8 458.1 390.8 460.6 388.6 462.0C386.4 463.5 382.7 463.8 379.8 464.7C376.9 465.6 373.6 466.3 371.1 467.3C368.5 468.3 365.5 470.2 364.4 470.8" fill="none" stroke="#000" stroke-width="1.40" stroke-linecap="butt" stroke-linejoin="round"/>
<path d="M376.3 419.1C376.2 420.1 374.9 423.4 375.4 425.3C376.0 427.2 377.6 429.3 379.8 430.5C382.0 431.7 385.4 432.1 388.6 432.3C391.8 432.4 395.9 432.1 399.1 431.4C402.3 430.7 405.2 429.2 407.9 427.9C410.5 426.6 413.0 425.0 414.9 423.5C416.7 422.0 418.1 419.9 418.7 419.1" fill="none" stroke="#000" stroke-width="1.40" stroke-linecap="butt" stroke-linejoin="round"/>
<path d="M392.1 419.1C392.7 419.7 393.8 422.0 395.6 422.6C397.3 423.2 400.8 423.2 402.6 422.6C404.4 422.0 405.8 419.7 406.5 419.1" fill="none" stroke="#000" stroke-width="1.40" stroke-linecap="butt" stroke-linejoin="round"/>
<path d="M419.2 472.6C419.5 471.1 420.6 468.6 421.9 467.3C423.2 466.0 425.4 464.8 427.1 464.7C428.9 464.5 431.2 465.3 432.4 466.4C433.5 467.6 434.4 470.1 434.1 471.7C433.8 473.3 432.2 475.0 430.6 476.1C429.0 477.1 426.2 477.8 424.5 477.8C422.7 477.8 421.0 476.9 420.1 476.1C419.2 475.2 418.9 474.0 419.2 472.6Z" fill="none" stroke="#000" stroke-width="1.40" stroke-linecap="butt" stroke-linejoin="round"/>
<path d="M327.3 497.1C327.6 496.2 327.8 493.4 329.0 491.8C330.2 490.2 331.9 488.3 334.3 487.4C336.6 486.6 340.4 486.3 343.0 486.6C345.7 486.9 348.0 488.0 350.0 489.2C352.1 490.4 353.8 491.6 355.3 493.6C356.8 495.5 358.5 499.7 359.1 500.9" fill="none" stroke="#000" stroke-width="1.40" stroke-linecap="butt" stroke-linejoin="round"/>
<path d="M435.9 487.1C435.0 488.2 432.1 491.3 430.6 493.6C429.2 495.9 427.7 499.7 427.1 500.9" fill="none" stroke="#000" stroke-width="1.40" stroke-linecap="butt" stroke-linejoin="round"/>
<path d="M343.0 487.3C345.1 487.4 351.5 487.9 355.3 488.3C359.1 488.8 362.6 489.3 365.8 490.1C369.0 490.8 371.9 491.5 374.6 492.7C377.2 493.9 379.8 495.7 381.6 497.1C383.4 498.5 384.8 500.3 385.4 500.9" fill="none" stroke="#000" stroke-width="1.40" stroke-linecap="butt" stroke-linejoin="round"/>
<path d="M320.3 419.1C320.7 420.4 323.2 424.8 322.9 427.0C322.6 429.2 319.5 430.5 318.5 432.3C317.5 434.0 316.2 436.9 316.8 437.5C317.3 438.1 320.0 435.6 322.0 435.8C324.1 435.9 326.1 437.5 329.0 438.4C331.9 439.3 336.0 440.4 339.5 441.0C343.0 441.6 347.8 442.5 350.0 441.9C352.2 441.3 352.5 439.1 352.7 437.5C352.8 435.9 351.1 433.9 350.9 432.3C350.8 430.7 350.8 429.1 351.8 427.9C352.8 426.7 354.4 425.4 357.0 425.3C359.7 425.1 364.3 426.6 367.6 427.0C370.8 427.4 373.8 428.2 376.3 427.9C378.8 427.6 381.3 426.7 382.4 425.3C383.6 423.8 383.2 420.1 383.3 419.1" fill="none" stroke="#000" stroke-width="0.75" stroke-linecap="butt" stroke-linejoin="round"/>
<path d="M314.1 484.8C315.7 484.4 320.7 482.8 323.8 482.2C326.8 481.6 329.3 481.2 332.5 481.3C335.7 481.5 339.2 482.0 343.0 483.1C346.8 484.1 351.2 486.4 355.3 487.4C359.4 488.5 364.6 488.7 367.6 489.2C370.5 489.7 372.2 490.1 373.2 490.3" fill="none" stroke="#000" stroke-width="0.75" stroke-linecap="butt" stroke-linejoin="round"/>
<path d="M325.2 466.4C325.2 466.0 326.3 465.0 326.9 465.0C327.5 465.0 328.7 466.0 328.7 466.4C328.7 466.9 327.5 467.8 326.9 467.8C326.3 467.8 325.2 466.9 325.2 466.4Z" fill="none" stroke="#000" stroke-width="0.75" stroke-linecap="butt" stroke-linejoin="round"/>
</g>
<clipPath id="tc11"><path d="M432.5 422.0L552.0 422.0L552.0 498.0L432.5 498.0Z"/></clipPath><g clip-path="url(#tc11)">
<path d="M419.2 472.6C419.5 471.1 420.6 468.6 421.9 467.3C423.2 466.0 425.4 464.8 427.1 464.7C428.9 464.5 431.2 465.3 432.4 466.4C433.5 467.6 434.4 470.1 434.1 471.7C433.8 473.3 432.2 475.0 430.6 476.1C429.0 477.1 426.2 477.8 424.5 477.8C422.7 477.8 421.0 476.9 420.1 476.1C419.2 475.2 418.9 474.0 419.2 472.6Z" fill="none" stroke="#000" stroke-width="1.40" stroke-linecap="butt" stroke-linejoin="round"/>
<path d="M473.8 432.6C475.3 432.8 479.6 433.7 482.6 433.7C485.5 433.6 488.4 433.1 491.3 432.3C494.2 431.4 497.2 429.6 500.1 428.8C503.0 427.9 506.2 427.2 508.8 427.0C511.5 426.9 514.1 427.0 515.8 427.9C517.6 428.8 519.1 430.7 519.3 432.3C519.6 433.9 519.1 436.2 517.6 437.5C516.1 438.8 512.3 439.1 510.6 440.1C508.8 441.2 507.5 442.3 507.1 443.7C506.6 445.0 506.8 447.2 508.0 448.0C509.1 448.9 512.2 449.5 514.1 448.9C516.0 448.3 517.6 445.6 519.3 444.5C521.1 443.4 522.9 442.4 524.6 442.4C526.4 442.4 528.7 443.4 529.9 444.5C531.0 445.6 531.9 447.6 531.6 448.9C531.3 450.2 529.1 451.7 528.1 452.4C527.1 453.1 525.9 453.1 525.5 453.3" fill="none" stroke="#000" stroke-width="1.40" stroke-linecap="butt" stroke-linejoin="round"/>
<path d="M507.1 461.2C505.3 461.0 500.1 460.0 496.6 460.3C493.1 460.6 489.3 461.8 486.1 462.9C482.8 464.1 480.2 466.1 477.3 467.3C474.4 468.5 471.5 469.3 468.5 469.9C465.6 470.5 462.4 470.4 459.8 470.8C457.2 471.2 455.1 471.7 452.8 472.6C450.4 473.4 448.1 474.3 445.8 476.1C443.4 477.8 440.8 480.7 438.8 483.1C436.7 485.4 435.1 488.0 433.5 490.1C431.9 492.2 429.9 494.7 429.1 495.7" fill="none" stroke="#000" stroke-width="1.40" stroke-linecap="butt" stroke-linejoin="round"/>
<path d="M536.9 461.2C537.3 461.9 538.9 463.7 539.5 465.6C540.1 467.4 539.9 470.2 540.4 472.6C540.9 475.0 542.1 478.7 542.5 479.9" fill="none" stroke="#000" stroke-width="1.40" stroke-linecap="butt" stroke-linejoin="round"/>
<path d="M517.6 465.9C515.8 466.7 510.0 469.3 507.1 470.8C504.2 472.4 502.7 473.6 500.1 475.2C497.4 476.8 494.2 479.3 491.3 480.4C488.4 481.6 485.8 482.3 482.6 482.2C479.3 482.0 475.3 480.1 472.0 479.6C468.8 479.0 466.2 478.5 463.3 478.7C460.4 478.8 457.2 479.3 454.5 480.4C451.9 481.6 449.6 483.8 447.5 485.7C445.5 487.6 443.7 489.3 442.3 491.8C440.8 494.4 439.3 499.4 438.8 500.9" fill="none" stroke="#000" stroke-width="1.40" stroke-linecap="butt" stroke-linejoin="round"/>
<path d="M524.6 419.1C525.5 420.1 528.1 423.4 529.9 425.3C531.6 427.2 533.5 428.5 535.1 430.5C536.7 432.6 538.3 434.9 539.5 437.5C540.7 440.1 541.3 443.2 542.1 446.3C542.9 449.3 543.9 454.3 544.2 455.9" fill="none" stroke="#000" stroke-width="1.40" stroke-linecap="butt" stroke-linejoin="round"/>
<path d="M533.4 419.1C534.2 420.4 537.2 424.5 538.6 427.0C540.1 429.5 541.2 431.6 542.1 434.0C543.1 436.4 543.9 440.1 544.2 441.4" fill="none" stroke="#000" stroke-width="1.40" stroke-linecap="butt" stroke-linejoin="round"/>
<path d="M500.1 488.3C501.0 487.2 503.0 483.4 505.3 481.3C507.7 479.3 511.2 477.2 514.1 476.1C517.0 474.9 520.2 474.6 522.9 474.3C525.5 474.0 527.8 473.4 529.9 474.3C531.9 475.2 534.8 478.1 535.1 479.6C535.4 481.0 533.2 482.8 531.6 483.1C530.0 483.4 527.2 480.7 525.5 481.3C523.7 481.9 522.1 484.8 521.1 486.6C520.1 488.3 519.3 490.1 519.3 491.8C519.3 493.6 520.2 495.6 521.1 497.1C522.0 498.6 524.3 500.3 525.0 500.9" fill="none" stroke="#000" stroke-width="1.40" stroke-linecap="butt" stroke-linejoin="round"/>
<path d="M500.1 488.3C500.4 489.2 500.9 491.5 501.8 493.6C502.8 495.7 505.0 499.7 505.7 500.9" fill="none" stroke="#000" stroke-width="1.40" stroke-linecap="butt" stroke-linejoin="round"/>
</g>
<clipPath id="tc12"><path d="M180.0 540.0L262.0 540.0L262.0 580.0L180.0 580.0Z"/></clipPath><g clip-path="url(#tc12)">
<path d="M179.4 563.8C180.1 564.4 182.6 565.8 183.5 567.5C184.4 569.2 184.5 572.9 184.7 574.0" fill="none" stroke="#000" stroke-width="1.40" stroke-linecap="butt" stroke-linejoin="round"/>
<path d="M189.9 574.0C191.2 573.3 195.5 571.3 197.5 569.9C199.6 568.4 200.6 567.1 202.2 565.2C203.7 563.3 205.0 559.8 206.9 558.2C208.7 556.5 211.1 555.4 213.3 555.3C215.4 555.2 217.9 556.5 219.7 557.6C221.6 558.7 222.8 560.1 224.4 561.7C225.9 563.3 227.7 564.9 229.1 566.9C230.4 569.0 231.7 572.8 232.2 574.0" fill="none" stroke="#000" stroke-width="1.40" stroke-linecap="butt" stroke-linejoin="round"/>
<path d="M201.6 574.0C202.5 573.1 205.2 570.3 206.9 568.7C208.5 567.1 209.8 565.6 211.5 564.6C213.3 563.6 215.4 562.9 217.4 562.9C219.3 562.9 221.5 563.6 223.2 564.6C225.0 565.6 226.7 567.1 227.9 568.7C229.1 570.3 230.0 573.1 230.5 574.0" fill="none" stroke="#000" stroke-width="1.40" stroke-linecap="butt" stroke-linejoin="round"/>
<path d="M203.9 574.0C205.0 573.0 208.1 569.5 210.4 568.1C212.6 566.8 215.0 565.8 217.4 565.8C219.7 565.8 222.5 566.8 224.4 568.1C226.3 569.5 228.0 573.0 228.7 574.0" fill="none" stroke="#000" stroke-width="1.20" stroke-linecap="butt" stroke-linejoin="round"/>
<path d="M206.3 574.0C207.3 573.2 210.7 570.4 212.7 569.3C214.7 568.2 216.6 567.4 218.5 567.5C220.5 567.6 222.9 568.8 224.4 569.9C225.9 570.9 227.0 573.3 227.5 574.0" fill="none" stroke="#000" stroke-width="1.20" stroke-linecap="butt" stroke-linejoin="round"/>
<path d="M208.6 574.0C209.7 573.3 213.2 570.9 215.0 570.1C216.9 569.3 218.1 569.1 219.7 569.4C221.4 569.7 223.9 570.9 225.0 571.6C226.1 572.4 226.1 573.6 226.4 574.0" fill="none" stroke="#000" stroke-width="1.20" stroke-linecap="butt" stroke-linejoin="round"/>
</g>
<clipPath id="tc13"><path d="M80.0 498.0L202.5 498.0L202.5 580.0L80.0 580.0Z"/></clipPath><g clip-path="url(#tc13)">
<path d="M86.8 510.9C88.8 510.6 94.9 509.7 99.0 509.1C103.1 508.6 107.9 507.5 111.3 507.4C114.6 507.2 117.4 507.4 119.2 508.3C120.9 509.1 123.1 511.5 121.8 512.6C120.5 513.8 115.1 514.4 111.3 515.3C107.5 516.1 103.1 517.0 99.0 517.9C94.9 518.8 88.8 520.2 86.8 520.7" fill="none" stroke="#000" stroke-width="1.40" stroke-linecap="butt" stroke-linejoin="round"/>
<path d="M86.8 526.1C89.4 525.5 97.0 523.7 102.5 522.3C108.1 520.9 114.8 519.2 120.0 517.9C125.3 516.6 130.0 515.1 134.1 514.4C138.1 513.7 141.1 513.2 144.6 513.5C148.1 513.8 152.2 514.7 155.1 516.1C158.0 517.6 159.7 520.5 162.1 522.3C164.4 524.0 166.2 525.6 169.1 526.7C172.0 527.7 174.9 528.1 179.6 528.4C184.3 528.7 194.2 528.6 197.1 528.6" fill="none" stroke="#000" stroke-width="1.40" stroke-linecap="butt" stroke-linejoin="round"/>
<path d="M86.8 529.5C89.4 529.0 97.0 527.4 102.5 526.7C108.1 525.9 115.4 525.3 120.0 524.9C124.7 524.5 127.3 523.7 130.6 524.0C133.8 524.3 137.0 525.2 139.3 526.7C141.6 528.1 142.8 530.6 144.6 532.8C146.3 535.0 148.4 537.5 149.8 539.8C151.3 542.1 152.6 544.5 153.3 546.8C154.1 549.1 153.9 551.5 154.2 553.8C154.5 556.1 153.8 558.8 155.1 560.8C156.4 562.9 159.7 564.6 162.1 566.1C164.4 567.5 167.3 568.2 169.1 569.6C170.9 570.9 172.3 573.4 172.9 574.1" fill="none" stroke="#000" stroke-width="1.40" stroke-linecap="butt" stroke-linejoin="round"/>
<path d="M86.8 532.1C89.4 531.6 97.0 530.0 102.5 529.3C108.1 528.5 115.7 527.7 120.0 527.5C124.4 527.4 125.9 527.7 128.8 528.4C131.7 529.1 134.9 530.2 137.6 531.9C140.2 533.7 142.7 536.4 144.6 538.9C146.5 541.4 147.9 544.0 148.9 546.8C150.0 549.6 150.3 552.9 150.7 555.6C151.1 558.2 150.3 560.5 151.6 562.6C152.9 564.6 156.2 566.4 158.6 567.8C160.9 569.3 164.1 570.3 165.6 571.3C167.1 572.4 167.3 573.7 167.7 574.1" fill="none" stroke="#000" stroke-width="1.40" stroke-linecap="butt" stroke-linejoin="round"/>
<path d="M108.7 537.2C109.2 535.7 110.8 533.1 113.0 531.9C115.2 530.7 119.2 529.9 121.8 530.2C124.4 530.5 126.5 532.1 128.8 533.7C131.1 535.3 133.5 538.0 135.8 539.8C138.1 541.6 140.9 542.7 142.8 544.2C144.7 545.6 146.2 546.4 147.2 548.6C148.2 550.7 149.1 554.7 148.9 557.3C148.8 559.9 147.9 562.6 146.3 564.3C144.7 566.1 141.6 567.5 139.3 567.8C137.0 568.1 134.1 567.2 132.3 566.1C130.6 564.9 129.7 562.9 128.8 560.8C127.9 558.8 127.6 556.1 127.0 553.8C126.5 551.5 126.5 548.4 125.3 546.8C124.1 545.2 122.1 544.8 120.0 544.2C118.0 543.6 114.8 543.9 113.0 543.3C111.3 542.7 110.3 541.7 109.5 540.7C108.8 539.7 108.1 538.6 108.7 537.2Z" fill="none" stroke="#000" stroke-width="1.40" stroke-linecap="butt" stroke-linejoin="round"/>
<path d="M114.8 538.0C115.0 537.2 116.2 535.8 117.4 535.4C118.6 535.1 120.8 535.4 121.8 535.9C122.8 536.5 123.5 538.0 123.2 538.9C122.9 539.8 121.2 540.9 120.0 541.2C118.9 541.5 117.1 541.2 116.2 540.7C115.3 540.1 114.6 538.9 114.8 538.0Z" fill="none" stroke="#000" stroke-width="1.40" stroke-linecap="butt" stroke-linejoin="round"/>
<path d="M131.4 550.3C132.0 548.7 133.5 546.5 134.9 545.9C136.4 545.3 138.4 545.8 140.2 546.8C141.9 547.8 144.3 550.0 145.4 552.1C146.6 554.1 147.5 557.0 147.2 559.1C146.9 561.1 145.3 563.3 143.7 564.3C142.1 565.3 139.3 565.8 137.6 565.2C135.8 564.6 134.2 562.4 133.2 560.8C132.2 559.2 131.7 557.3 131.4 555.6C131.1 553.8 130.8 551.9 131.4 550.3Z" fill="none" stroke="#000" stroke-width="1.40" stroke-linecap="butt" stroke-linejoin="round"/>
<path d="M157.7 553.8C158.0 552.4 160.5 550.0 162.1 549.4C163.7 548.8 166.0 549.4 167.3 550.3C168.7 551.2 170.1 553.4 170.0 554.7C169.8 556.0 168.1 557.7 166.5 558.2C164.9 558.7 161.8 558.4 160.3 557.7C158.9 556.9 157.4 555.2 157.7 553.8Z" fill="none" stroke="#000" stroke-width="1.40" stroke-linecap="butt" stroke-linejoin="round"/>
<path d="M86.8 548.7C88.2 548.4 92.9 547.4 95.5 546.8C98.1 546.2 100.2 545.2 102.5 545.1C104.9 544.9 107.2 545.3 109.5 545.9C111.9 546.5 114.2 547.2 116.5 548.6C118.9 549.9 122.1 551.8 123.5 553.8C125.0 555.9 124.9 558.5 125.3 560.8C125.7 563.2 125.9 565.6 126.2 567.8C126.5 570.0 126.9 573.1 127.0 574.1" fill="none" stroke="#000" stroke-width="1.40" stroke-linecap="butt" stroke-linejoin="round"/>
<path d="M86.8 557.3C88.2 557.6 92.9 558.3 95.5 559.1C98.1 559.8 100.5 562.0 102.5 561.7C104.6 561.4 105.7 558.3 107.8 557.3C109.8 556.3 112.9 555.6 114.8 555.6C116.7 555.6 118.9 555.9 119.2 557.3C119.5 558.8 117.4 562.3 116.5 564.3C115.7 566.4 114.5 567.9 113.9 569.6C113.3 571.2 113.2 573.4 113.0 574.1" fill="none" stroke="#000" stroke-width="1.40" stroke-linecap="butt" stroke-linejoin="round"/>
<path d="M86.8 538.2C88.5 538.0 94.3 537.6 97.3 537.2C100.2 536.7 102.5 535.5 104.3 535.4C106.1 535.3 107.5 536.4 108.1 536.6" fill="none" stroke="#000" stroke-width="1.40" stroke-linecap="butt" stroke-linejoin="round"/>
<path d="M172.6 574.1C173.2 573.1 174.6 569.5 176.1 567.8C177.6 566.2 179.6 564.6 181.4 564.3C183.1 564.0 185.1 564.4 186.6 566.1C188.1 567.7 189.8 572.8 190.5 574.1" fill="none" stroke="#000" stroke-width="1.40" stroke-linecap="butt" stroke-linejoin="round"/>
<path d="M87.1 564.0C87.6 564.6 89.9 566.1 90.3 567.8C90.6 569.5 89.4 573.1 89.2 574.1" fill="none" stroke="#000" stroke-width="1.40" stroke-linecap="butt" stroke-linejoin="round"/>
<path d="M145.4 495.1C146.5 496.4 148.8 501.1 151.6 503.0C154.3 504.9 158.6 505.5 162.1 506.5C165.6 507.5 169.1 508.1 172.6 509.1C176.1 510.2 179.9 511.9 183.1 512.6C186.3 513.4 188.1 514.0 191.9 513.5C195.7 513.1 203.5 510.5 205.9 509.8" fill="none" stroke="#000" stroke-width="0.75" stroke-linecap="butt" stroke-linejoin="round"/>
<path d="M86.8 530.3C88.8 530.2 95.2 529.6 99.0 529.3C102.8 529.0 106.0 528.1 109.5 528.4C113.0 528.7 116.5 529.4 120.0 531.0C123.5 532.6 127.6 535.7 130.6 538.0C133.5 540.4 135.2 542.7 137.6 545.1C139.9 547.4 142.2 549.6 144.6 552.1C146.9 554.5 149.2 557.6 151.6 559.9C153.9 562.3 156.2 564.1 158.6 566.1C161.0 568.0 164.7 570.7 165.9 571.7" fill="none" stroke="#000" stroke-width="0.75" stroke-linecap="butt" stroke-linejoin="round"/>
</g>
<clipPath id="tc14"><path d="M202.5 498.0L317.5 498.0L317.5 580.0L202.5 580.0Z"/></clipPath><g clip-path="url(#tc14)">
<path d="M226.3 495.1C226.0 496.4 224.7 500.7 224.5 503.0C224.4 505.3 224.8 507.4 225.4 509.1C226.0 510.9 227.6 512.8 228.0 513.5" fill="none" stroke="#000" stroke-width="1.40" stroke-linecap="butt" stroke-linejoin="round"/>
<path d="M243.8 522.3C245.0 521.7 248.8 520.5 250.8 518.8C252.8 517.0 254.5 514.4 256.1 511.8C257.7 509.1 259.2 505.8 260.4 503.0C261.6 500.2 262.8 496.4 263.2 495.1" fill="none" stroke="#000" stroke-width="1.40" stroke-linecap="butt" stroke-linejoin="round"/>
<path d="M285.8 521.4C286.4 520.8 287.3 518.8 289.3 517.9C291.4 517.0 295.2 516.1 298.1 516.1C301.0 516.1 304.2 516.9 306.9 517.9C309.5 518.9 311.5 521.1 313.9 522.3C316.2 523.5 319.7 524.6 320.9 525.1" fill="none" stroke="#000" stroke-width="1.40" stroke-linecap="butt" stroke-linejoin="round"/>
<path d="M285.8 521.4C286.7 522.1 289.1 524.6 291.1 525.8C293.1 527.0 296.9 528.0 298.1 528.4" fill="none" stroke="#000" stroke-width="1.40" stroke-linecap="butt" stroke-linejoin="round"/>
<path d="M313.0 530.7C314.3 530.3 319.6 528.6 320.9 528.2" fill="none" stroke="#000" stroke-width="1.40" stroke-linecap="butt" stroke-linejoin="round"/>
<path d="M285.0 539.8C285.4 539.1 287.7 537.8 289.3 538.0C291.0 538.3 293.4 540.4 294.6 541.6C295.8 542.7 296.9 544.5 296.4 545.1C295.8 545.6 292.7 545.5 291.1 545.1C289.5 544.6 287.7 543.3 286.7 542.4C285.7 541.6 284.5 540.5 285.0 539.8Z" fill="none" stroke="#000" stroke-width="1.40" stroke-linecap="butt" stroke-linejoin="round"/>
<path d="M214.9 533.7C215.8 534.3 218.7 535.6 220.1 537.2C221.6 538.8 222.6 541.4 223.7 543.3C224.7 545.2 225.2 546.7 226.3 548.6C227.4 550.4 229.1 552.1 230.1 554.2C231.2 556.2 231.8 558.5 232.6 560.8C233.4 563.1 234.4 565.6 235.0 567.8C235.7 570.0 236.2 573.1 236.4 574.1" fill="none" stroke="#000" stroke-width="1.40" stroke-linecap="butt" stroke-linejoin="round"/>
<path d="M254.3 574.1C254.9 572.8 257.1 568.6 257.8 566.1C258.5 563.6 259.1 561.4 258.7 559.1C258.3 556.7 255.6 554.0 255.2 552.1C254.7 550.2 255.0 548.7 256.1 547.7C257.1 546.7 259.0 545.8 261.3 545.9C263.7 546.1 267.4 547.2 270.1 548.6C272.7 549.9 274.7 551.8 277.1 553.8C279.4 555.9 282.5 558.5 284.1 560.8C285.7 563.2 286.4 565.6 286.7 567.8C287.0 570.0 286.0 573.1 285.8 574.1" fill="none" stroke="#000" stroke-width="1.40" stroke-linecap="butt" stroke-linejoin="round"/>
<path d="M301.6 574.1C301.8 572.2 302.0 566.0 302.5 562.6C302.9 559.2 303.2 555.7 304.2 553.8C305.3 551.9 305.8 551.6 308.6 551.2C311.4 550.7 318.8 551.2 320.9 551.2" fill="none" stroke="#000" stroke-width="1.40" stroke-linecap="butt" stroke-linejoin="round"/>
<path d="M315.6 495.1C315.8 496.4 315.6 500.6 316.5 503.0C317.4 505.4 320.2 508.3 320.9 509.3" fill="none" stroke="#000" stroke-width="1.40" stroke-linecap="butt" stroke-linejoin="round"/>
<path d="M199.1 511.1C201.0 510.6 206.6 509.3 210.5 508.3C214.5 507.2 218.7 506.1 222.8 504.8C226.9 503.4 230.9 501.9 235.0 500.4C239.2 498.8 245.6 496.3 247.7 495.5" fill="none" stroke="#000" stroke-width="0.75" stroke-linecap="butt" stroke-linejoin="round"/>
</g>
<clipPath id="tc15"><path d="M317.5 498.0L432.5 498.0L432.5 580.0L317.5 580.0Z"/></clipPath><g clip-path="url(#tc15)">
<path d="M369.3 513.5C368.1 514.0 364.6 515.1 362.3 516.1C360.0 517.2 357.6 518.8 355.3 519.7C353.0 520.5 350.2 521.7 348.3 521.4C346.4 521.1 345.1 519.4 343.9 517.9C342.7 516.4 342.6 514.4 341.3 512.6C340.0 510.9 337.8 509.1 336.0 507.4C334.3 505.6 332.0 504.2 330.8 502.1C329.5 500.1 329.0 496.3 328.7 495.1" fill="none" stroke="#000" stroke-width="1.40" stroke-linecap="butt" stroke-linejoin="round"/>
<path d="M314.1 495.5C315.1 496.7 318.6 500.3 320.3 503.0C321.9 505.7 323.3 508.6 323.8 511.8C324.2 515.0 322.6 519.4 322.9 522.3C323.2 525.2 324.2 527.1 325.5 529.3C326.8 531.5 328.4 533.8 330.8 535.4C333.1 537.0 336.3 538.5 339.5 538.9C342.7 539.4 346.5 538.3 350.0 538.0C353.5 537.8 357.3 536.9 360.6 537.2C363.8 537.5 367.1 538.2 369.3 539.8C371.5 541.4 373.1 544.5 373.7 546.8C374.3 549.1 373.5 552.0 372.8 553.8C372.1 555.6 370.2 557.0 369.7 557.7" fill="none" stroke="#000" stroke-width="1.40" stroke-linecap="butt" stroke-linejoin="round"/>
<path d="M314.1 523.2C315.1 523.6 318.9 524.8 320.3 525.8C321.6 526.8 323.0 528.4 322.0 529.3C321.0 530.2 315.4 530.9 314.1 531.2" fill="none" stroke="#000" stroke-width="1.40" stroke-linecap="butt" stroke-linejoin="round"/>
<path d="M314.1 548.6C316.0 548.8 321.9 549.4 325.5 550.3C329.2 551.2 332.5 552.4 336.0 553.8C339.5 555.3 342.7 557.6 346.5 559.1C350.3 560.5 355.0 561.4 358.8 562.6C362.6 563.7 366.4 564.8 369.3 566.1C372.2 567.4 374.5 569.1 376.3 570.5C378.1 571.8 379.5 573.5 380.2 574.1" fill="none" stroke="#000" stroke-width="1.40" stroke-linecap="butt" stroke-linejoin="round"/>
<path d="M357.9 495.1C358.9 496.1 361.6 499.8 364.1 501.3C366.5 502.7 369.6 503.0 372.8 503.9C376.0 504.8 380.4 505.6 383.3 506.5C386.2 507.4 388.0 508.8 390.3 509.1C392.7 509.4 395.3 508.1 397.3 508.3C399.4 508.4 401.1 509.3 402.6 510.0C404.1 510.7 404.3 512.1 406.1 512.6C407.9 513.2 410.8 514.0 413.1 513.5C415.4 513.1 418.1 511.8 420.1 510.0C422.2 508.3 423.9 505.5 425.4 503.0C426.9 500.5 428.6 496.4 429.2 495.1" fill="none" stroke="#000" stroke-width="1.40" stroke-linecap="butt" stroke-linejoin="round"/>
<path d="M337.8 574.1C336.6 573.7 332.5 572.7 330.8 571.3C329.0 570.0 327.0 567.5 327.3 566.1C327.6 564.6 330.2 562.9 332.5 562.6C334.9 562.3 338.1 563.4 341.3 564.3C344.5 565.2 348.0 567.2 351.8 567.8C355.6 568.4 360.5 567.5 364.1 567.8C367.6 568.2 371.6 569.4 373.2 569.8" fill="none" stroke="#000" stroke-width="1.40" stroke-linecap="butt" stroke-linejoin="round" stroke-dasharray="3.6 2.4"/>
<path d="M414.9 562.9C415.4 562.0 416.8 558.6 418.4 557.3C419.9 556.1 423.0 555.7 424.0 555.4" fill="none" stroke="#000" stroke-width="1.40" stroke-linecap="butt" stroke-linejoin="round" stroke-dasharray="3.6 2.4"/>
<path d="M423.6 562.6C424.2 563.4 425.3 566.6 427.1 567.8C428.9 569.0 433.3 569.4 434.5 569.8" fill="none" stroke="#000" stroke-width="1.40" stroke-linecap="butt" stroke-linejoin="round" stroke-dasharray="3.6 2.4"/>
<path d="M435.9 535.9C434.4 537.2 430.0 541.2 427.1 543.3C424.2 545.4 421.0 546.8 418.4 548.6C415.7 550.3 413.1 551.8 411.4 553.8C409.6 555.9 408.6 557.4 407.9 560.8C407.1 564.2 407.1 571.9 407.0 574.1" fill="none" stroke="#000" stroke-width="1.40" stroke-linecap="butt" stroke-linejoin="round"/>
<path d="M435.9 539.8C434.7 540.8 431.5 544.0 428.9 545.9C426.2 547.8 422.6 549.6 420.1 551.2C417.6 552.8 415.6 553.7 414.0 555.6C412.4 557.5 411.2 559.5 410.5 562.6C409.8 565.7 409.8 572.2 409.6 574.1" fill="none" stroke="#000" stroke-width="1.40" stroke-linecap="butt" stroke-linejoin="round"/>
<path d="M383.3 557.3C383.6 558.8 384.5 563.3 385.1 566.1C385.7 568.9 386.5 572.8 386.8 574.1" fill="none" stroke="#000" stroke-width="1.40" stroke-linecap="butt" stroke-linejoin="round"/>
<path d="M400.8 555.6C401.0 557.0 401.7 561.2 401.7 564.3C401.7 567.4 401.0 572.5 400.8 574.1" fill="none" stroke="#000" stroke-width="1.40" stroke-linecap="butt" stroke-linejoin="round"/>
<path d="M383.3 557.3C384.5 557.0 387.4 555.9 390.3 555.6C393.3 555.3 399.1 555.6 400.8 555.6" fill="none" stroke="#000" stroke-width="1.40" stroke-linecap="butt" stroke-linejoin="round"/>
<path d="M416.3 532.8C416.6 531.7 417.4 530.0 418.4 529.3C419.4 528.6 421.0 528.3 422.2 528.6C423.4 528.9 424.8 529.9 425.4 531.0C426.0 532.2 426.1 534.2 425.7 535.4C425.3 536.6 424.1 538.0 422.9 538.4C421.8 538.8 419.8 538.5 418.7 538.0C417.7 537.6 417.0 536.8 416.6 535.9C416.2 535.1 416.0 533.9 416.3 532.8Z" fill="none" stroke="#000" stroke-width="1.40" stroke-linecap="butt" stroke-linejoin="round" stroke-dasharray="2.5 1.6"/>
<path d="M394.7 520.5L397.3 524.0L400.0 527.5L395.6 526.7Z" fill="none" stroke="#000" stroke-width="0.90" stroke-linecap="butt" stroke-linejoin="round"/>
<path d="M397.3 515.3C397.9 514.4 399.1 510.5 400.8 510.0C402.6 509.6 405.7 511.8 407.9 512.6C410.0 513.5 412.8 514.0 414.0 515.3C415.2 516.6 415.6 518.5 414.9 520.5C414.1 522.6 411.1 524.9 409.6 527.5C408.1 530.2 407.6 532.8 406.1 536.3C404.6 539.8 402.6 545.1 400.8 548.6C399.1 552.1 397.3 554.4 395.6 557.3C393.8 560.2 391.8 563.3 390.3 566.1C388.9 568.9 387.4 572.8 386.8 574.1" fill="none" stroke="#000" stroke-width="0.75" stroke-linecap="butt" stroke-linejoin="round"/>
</g>
<clipPath id="tc16"><path d="M432.5 498.0L552.0 498.0L552.0 580.0L432.5 580.0Z"/></clipPath><g clip-path="url(#tc16)">
<path d="M465.0 505.6C464.2 506.5 461.5 509.1 459.8 510.9C458.0 512.6 456.6 514.7 454.5 516.1C452.5 517.6 449.6 519.5 447.5 519.7C445.5 519.8 443.7 518.3 442.3 517.0C440.8 515.7 439.5 513.8 438.8 511.8C438.0 509.7 437.6 507.1 437.9 504.8C438.2 502.4 439.7 499.4 440.5 497.8C441.3 496.1 442.3 495.6 442.6 495.1" fill="none" stroke="#000" stroke-width="1.40" stroke-linecap="butt" stroke-linejoin="round"/>
<path d="M477.3 497.8C478.5 497.3 483.4 495.6 484.7 495.1" fill="none" stroke="#000" stroke-width="1.40" stroke-linecap="butt" stroke-linejoin="round"/>
<path d="M487.8 495.1C489.0 495.9 492.8 497.6 494.8 499.5C496.9 501.4 498.3 504.3 500.1 506.5C501.8 508.7 503.0 511.2 505.3 512.6C507.7 514.1 511.2 515.0 514.1 515.3C517.0 515.6 520.2 515.1 522.9 514.4C525.5 513.7 527.8 512.5 529.9 510.9C531.9 509.3 533.9 507.4 535.1 504.8C536.3 502.1 536.7 496.7 537.0 495.1" fill="none" stroke="#000" stroke-width="1.40" stroke-linecap="butt" stroke-linejoin="round"/>
<path d="M482.6 503.0C483.7 503.6 487.5 505.1 489.6 506.5C491.6 508.0 493.1 510.2 494.8 511.8C496.6 513.4 497.7 515.1 500.1 516.1C502.4 517.2 505.9 517.6 508.8 517.9C511.8 518.2 514.7 518.2 517.6 517.9C520.5 517.6 523.7 517.0 526.4 516.1C529.0 515.3 531.3 514.2 533.4 512.6C535.4 511.0 537.1 508.8 538.6 506.5C540.1 504.3 541.7 500.4 542.3 499.2" fill="none" stroke="#000" stroke-width="1.40" stroke-linecap="butt" stroke-linejoin="round"/>
<path d="M458.0 518.8C459.2 517.9 462.7 515.0 465.0 513.5C467.4 512.1 469.7 510.6 472.0 510.0C474.4 509.4 476.7 509.4 479.1 510.0C481.4 510.6 484.0 512.4 486.1 513.5C488.1 514.7 489.0 516.0 491.3 517.0C493.7 518.0 496.9 519.1 500.1 519.7C503.3 520.2 507.1 520.4 510.6 520.5C514.1 520.6 517.9 520.6 521.1 520.2C524.3 519.7 527.2 519.0 529.9 517.9C532.5 516.8 534.8 515.1 536.9 513.5C538.9 511.9 541.2 509.1 542.1 508.3" fill="none" stroke="#000" stroke-width="1.40" stroke-linecap="butt" stroke-linejoin="round"/>
<path d="M452.8 533.7C453.8 532.6 456.9 529.4 458.9 527.5C461.0 525.6 463.1 524.0 465.0 522.3C466.9 520.5 468.5 518.5 470.3 517.0C472.0 515.6 473.5 514.2 475.6 513.5C477.6 512.8 481.4 512.8 482.6 512.6" fill="none" stroke="#000" stroke-width="1.40" stroke-linecap="butt" stroke-linejoin="round"/>
<path d="M507.1 495.1C507.7 496.1 508.8 499.5 510.6 501.3C512.3 503.0 515.3 505.3 517.6 505.6C519.9 505.9 523.1 504.3 524.6 503.0C526.1 501.7 526.2 499.1 526.4 497.8C526.5 496.4 525.6 495.6 525.5 495.1" fill="none" stroke="#000" stroke-width="1.40" stroke-linecap="butt" stroke-linejoin="round"/>
<path d="M409.1 563.9C410.2 562.7 413.6 559.5 415.9 557.0C418.2 554.6 419.7 551.9 422.7 549.1C425.8 546.2 430.3 542.7 434.1 540.0C437.9 537.3 441.7 535.6 445.5 533.2C449.2 530.7 453.0 527.5 456.8 525.2C460.6 523.0 464.4 520.9 468.2 519.5C472.0 518.2 475.8 517.5 479.5 517.3C483.3 517.1 487.1 517.8 490.9 518.4C494.7 519.0 497.7 520.3 502.3 520.7C506.8 521.1 513.3 521.1 518.2 520.9C523.1 520.7 527.3 520.2 531.8 519.5C536.4 518.9 543.2 517.3 545.5 516.8" fill="none" stroke="#000" stroke-width="1.30" stroke-linecap="butt" stroke-linejoin="round" stroke-dasharray="3.6 2.3"/>
<path d="M421.6 567.3C422.3 566.1 424.4 562.7 426.1 560.5C427.8 558.2 429.4 556.3 431.8 553.6C434.3 551.0 437.5 547.4 440.9 544.5C444.3 541.7 448.5 539.4 452.3 536.6C456.1 533.8 459.8 529.8 463.6 527.5C467.4 525.2 471.2 523.8 475.0 523.0C478.8 522.1 482.6 522.0 486.4 522.3C490.2 522.5 493.6 523.9 497.7 524.5C501.9 525.2 506.4 525.9 511.4 525.9C516.3 525.9 521.6 525.4 527.3 524.5C533.0 523.7 542.4 521.5 545.5 520.9" fill="none" stroke="#000" stroke-width="1.30" stroke-linecap="butt" stroke-linejoin="round" stroke-dasharray="3.6 2.3"/>
<path d="M437.5 571.8C437.9 570.5 438.8 566.1 439.8 563.9C440.7 561.6 441.5 560.6 443.2 558.2C444.9 555.7 447.3 552.1 450.0 549.1C452.7 546.1 456.1 542.8 459.1 540.0C462.1 537.2 465.2 534.1 468.2 532.0C471.2 530.0 473.9 528.3 477.3 527.5C480.7 526.7 485.2 526.9 488.6 527.3C492.0 527.6 494.3 529.0 497.7 529.5C501.1 530.1 504.9 530.5 509.1 530.5C513.3 530.4 518.2 529.6 522.7 529.1C527.3 528.6 532.6 527.9 536.4 527.3C540.2 526.7 543.9 525.8 545.5 525.5" fill="none" stroke="#000" stroke-width="1.30" stroke-linecap="butt" stroke-linejoin="round" stroke-dasharray="3.6 2.3"/>
<path d="M452.7 567.3C452.9 565.9 453.3 561.6 453.6 559.3C454.0 557.0 453.7 556.1 455.0 553.6C456.3 551.2 458.8 547.4 461.4 544.5C463.9 541.7 467.4 538.7 470.5 536.6C473.5 534.5 476.3 532.8 479.5 532.0C482.8 531.2 486.9 531.3 489.8 531.8C492.6 532.3 495.5 534.5 496.6 535.0" fill="none" stroke="#000" stroke-width="1.30" stroke-linecap="butt" stroke-linejoin="round" stroke-dasharray="3.6 2.3"/>
<path d="M464.8 558.2C465.0 557.0 465.2 553.8 466.4 551.4C467.5 548.9 469.6 545.6 471.6 543.4C473.6 541.2 475.9 539.3 478.4 538.2C480.9 537.0 485.0 536.9 486.4 536.6" fill="none" stroke="#000" stroke-width="1.30" stroke-linecap="butt" stroke-linejoin="round" stroke-dasharray="3.6 2.3"/>
<path d="M475.5 542.7C474.7 544.0 471.4 547.7 470.9 550.2C470.5 552.8 471.3 555.9 472.7 558.2C474.2 560.5 476.8 562.5 479.5 563.9C482.3 565.2 486.0 566.3 489.1 566.4C492.2 566.4 495.7 565.5 498.2 564.1C500.7 562.7 502.3 560.3 504.1 558.2C505.9 556.1 507.1 553.3 509.1 551.4C511.1 549.5 513.3 548.0 515.9 546.8C518.6 545.7 521.6 544.8 525.0 544.5C528.4 544.2 533.0 544.6 536.4 545.0C539.8 545.4 543.9 546.5 545.5 546.8" fill="none" stroke="#000" stroke-width="1.30" stroke-linecap="butt" stroke-linejoin="round" stroke-dasharray="3.6 2.3"/>
<path d="M409.1 574.5C412.1 574.1 421.2 573.0 427.3 571.8C433.3 570.7 440.2 568.6 445.5 567.7C450.8 566.8 454.5 566.2 459.1 566.4C463.6 566.5 468.2 567.9 472.7 568.6C477.3 569.4 481.8 570.8 486.4 570.9C490.9 571.1 497.7 569.8 500.0 569.5" fill="none" stroke="#000" stroke-width="1.30" stroke-linecap="butt" stroke-linejoin="round" stroke-dasharray="3.6 2.3"/>
<path d="M434.1 576.8C436.7 576.2 444.7 574.0 450.0 573.2C455.3 572.4 461.0 571.9 465.9 572.0C470.8 572.2 475.4 573.4 479.5 574.1C483.7 574.7 489.0 575.6 490.9 575.9" fill="none" stroke="#000" stroke-width="1.30" stroke-linecap="butt" stroke-linejoin="round" stroke-dasharray="3.6 2.3"/>
<path d="M527.3 530.9C528.8 531.0 533.3 531.1 536.4 531.4C539.4 531.7 543.9 532.5 545.5 532.7" fill="none" stroke="#000" stroke-width="1.30" stroke-linecap="butt" stroke-linejoin="round" stroke-dasharray="3.6 2.3"/>
<path d="M513.6 535.5C515.9 535.4 523.1 534.8 527.3 535.0C531.4 535.2 535.6 535.8 538.6 536.4C541.7 536.9 544.3 537.9 545.5 538.2" fill="none" stroke="#000" stroke-width="1.30" stroke-linecap="butt" stroke-linejoin="round" stroke-dasharray="3.6 2.3"/>
<path d="M545.9 549.7C544.2 549.9 538.7 550.3 535.4 551.1C532.1 551.9 528.8 553.3 526.1 554.6C523.3 556.0 521.2 557.8 519.1 559.3C516.9 560.7 515.0 562.2 513.2 563.4C511.5 564.5 510.3 565.7 508.5 566.3C506.8 566.9 504.8 566.7 502.7 567.1C500.6 567.5 498.2 568.1 495.7 568.7C493.2 569.4 490.6 570.3 487.5 571.0C484.4 571.6 480.1 572.1 477.0 572.5C473.9 572.8 470.2 573.0 468.8 573.1" fill="none" stroke="#000" stroke-width="0.62" stroke-linecap="butt" stroke-linejoin="round"/>
<path d="M545.9 550.8C544.2 551.1 538.7 551.3 535.4 552.1C532.1 552.9 529.0 554.1 526.3 555.4C523.6 556.6 521.4 558.4 519.3 559.8C517.2 561.1 515.3 562.5 513.6 563.7C511.9 564.8 510.7 565.9 509.0 566.6C507.3 567.3 505.5 567.2 503.5 567.6C501.4 568.1 499.1 568.7 496.6 569.3C494.1 569.9 491.4 570.7 488.3 571.3C485.2 571.8 481.2 572.3 478.1 572.6C474.9 573.0 471.1 573.1 469.6 573.2" fill="none" stroke="#000" stroke-width="0.62" stroke-linecap="butt" stroke-linejoin="round"/>
<path d="M545.9 552.0C544.2 552.2 538.6 552.4 535.4 553.1C532.2 553.8 529.2 554.9 526.5 556.1C523.9 557.3 521.6 558.9 519.5 560.2C517.4 561.5 515.6 562.8 513.9 564.0C512.2 565.1 511.1 566.2 509.5 566.9C507.9 567.6 506.2 567.7 504.2 568.2C502.2 568.7 500.1 569.2 497.6 569.8C495.1 570.3 492.2 571.1 489.2 571.6C486.1 572.1 482.2 572.5 479.1 572.8C476.0 573.1 471.9 573.2 470.5 573.3" fill="none" stroke="#000" stroke-width="0.62" stroke-linecap="butt" stroke-linejoin="round"/>
<path d="M545.9 553.1C544.2 553.3 538.6 553.5 535.4 554.1C532.2 554.7 529.4 555.8 526.8 556.9C524.2 558.0 521.8 559.5 519.8 560.7C517.7 561.9 515.9 563.2 514.3 564.2C512.6 565.3 511.6 566.5 510.0 567.2C508.5 568.0 506.9 568.2 505.0 568.7C503.1 569.2 501.0 569.8 498.5 570.3C496.0 570.8 493.0 571.5 490.0 571.9C486.9 572.4 483.3 572.7 480.2 573.0C477.0 573.2 472.8 573.3 471.3 573.4" fill="none" stroke="#000" stroke-width="0.62" stroke-linecap="butt" stroke-linejoin="round"/>
<path d="M545.9 554.2C544.2 554.4 538.6 554.5 535.4 555.1C532.2 555.6 529.6 556.6 527.0 557.6C524.4 558.7 522.0 560.0 520.0 561.2C517.9 562.3 516.2 563.5 514.6 564.5C513.0 565.6 512.0 566.8 510.5 567.6C509.0 568.3 507.6 568.7 505.7 569.3C503.9 569.8 501.9 570.3 499.4 570.8C496.9 571.3 493.8 571.8 490.8 572.2C487.8 572.6 484.3 572.9 481.2 573.1C478.1 573.3 473.6 573.4 472.1 573.5" fill="none" stroke="#000" stroke-width="0.62" stroke-linecap="butt" stroke-linejoin="round"/>
<path d="M545.9 555.4C544.2 555.5 538.5 555.6 535.4 556.1C532.3 556.6 529.8 557.5 527.2 558.4C524.7 559.3 522.3 560.5 520.2 561.6C518.2 562.7 516.5 563.8 515.0 564.8C513.4 565.9 512.4 567.0 511.0 567.9C509.6 568.7 508.3 569.2 506.5 569.8C504.7 570.4 502.8 570.9 500.4 571.3C497.9 571.8 494.6 572.2 491.6 572.5C488.6 572.9 485.4 573.1 482.3 573.3C479.1 573.5 474.5 573.5 472.9 573.6" fill="none" stroke="#000" stroke-width="0.62" stroke-linecap="butt" stroke-linejoin="round"/>
<path d="M545.9 556.5C544.2 556.6 538.5 556.6 535.4 557.1C532.3 557.5 530.0 558.3 527.5 559.2C525.0 560.0 522.5 561.1 520.5 562.1C518.4 563.1 516.8 564.1 515.3 565.1C513.8 566.1 512.8 567.3 511.5 568.2C510.1 569.1 509.0 569.7 507.3 570.3C505.6 570.9 503.8 571.4 501.3 571.8C498.8 572.2 495.4 572.6 492.4 572.9C489.4 573.1 486.4 573.3 483.3 573.5C480.2 573.6 475.3 573.7 473.7 573.7" fill="none" stroke="#000" stroke-width="0.62" stroke-linecap="butt" stroke-linejoin="round"/>
<path d="M545.9 557.6C544.2 557.7 538.4 557.7 535.4 558.1C532.4 558.4 530.1 559.2 527.7 559.9C525.2 560.7 522.7 561.6 520.7 562.6C518.7 563.5 517.1 564.4 515.7 565.4C514.2 566.4 513.2 567.6 512.0 568.5C510.7 569.4 509.6 570.2 508.0 570.9C506.4 571.5 504.7 572.0 502.2 572.3C499.8 572.7 496.2 573.0 493.2 573.2C490.3 573.4 487.5 573.5 484.4 573.6C481.3 573.7 476.2 573.8 474.6 573.8" fill="none" stroke="#000" stroke-width="0.62" stroke-linecap="butt" stroke-linejoin="round"/>
<path d="M545.9 558.8C544.2 558.8 538.4 558.7 535.4 559.1C532.4 559.4 530.3 560.0 527.9 560.7C525.5 561.3 522.9 562.2 520.9 563.0C518.9 563.9 517.4 564.7 516.0 565.7C514.6 566.7 513.7 567.9 512.5 568.8C511.3 569.8 510.3 570.7 508.8 571.4C507.2 572.1 505.6 572.5 503.2 572.9C500.7 573.2 497.0 573.3 494.1 573.5C491.1 573.6 488.5 573.7 485.4 573.8C482.3 573.9 477.0 573.9 475.4 573.9" fill="none" stroke="#000" stroke-width="0.62" stroke-linecap="butt" stroke-linejoin="round"/>
<path d="M545.9 559.9C544.2 559.9 538.4 559.8 535.4 560.0C532.4 560.3 530.5 560.9 528.2 561.4C525.8 562.0 523.1 562.7 521.2 563.5C519.2 564.2 517.7 565.1 516.4 566.0C515.0 566.9 514.1 568.1 513.0 569.1C511.8 570.1 511.0 571.2 509.5 571.9C508.1 572.7 506.5 573.1 504.1 573.4C501.7 573.7 497.8 573.7 494.9 573.8C491.9 573.9 489.6 573.9 486.5 574.0C483.4 574.0 477.9 574.0 476.2 574.0" fill="none" stroke="#000" stroke-width="0.62" stroke-linecap="butt" stroke-linejoin="round"/>
<path d="M545.9 561.0C544.2 561.0 538.3 560.8 535.4 561.0C532.5 561.2 530.7 561.7 528.4 562.2C526.1 562.7 523.3 563.3 521.4 564.0C519.4 564.6 518.0 565.4 516.7 566.3C515.4 567.2 514.5 568.4 513.4 569.4C512.4 570.5 511.7 571.7 510.3 572.5C508.9 573.2 507.5 573.6 505.0 573.9C502.6 574.2 498.6 574.1 495.7 574.1C492.8 574.2 490.6 574.1 487.5 574.1C484.4 574.1 478.8 574.1 477.0 574.1" fill="none" stroke="#000" stroke-width="0.62" stroke-linecap="butt" stroke-linejoin="round"/>
<path d="M545.8 547.3C544.0 547.5 538.6 548.0 535.3 548.8C532.0 549.7 528.6 551.1 525.9 552.5C523.2 553.9 521.1 555.8 518.9 557.3C516.8 558.8 514.8 560.3 513.1 561.5C511.3 562.7 510.2 563.8 508.4 564.5C506.6 565.1 504.4 564.9 502.2 565.3C500.1 565.7 497.8 566.3 495.2 566.9C492.7 567.6 490.2 568.5 487.1 569.2C484.0 569.8 479.7 570.3 476.6 570.7C473.4 571.0 469.7 571.2 468.4 571.3" fill="none" stroke="#000" stroke-width="1.00" stroke-linecap="butt" stroke-linejoin="round" stroke-dasharray="2.0 1.3"/>
<path d="M545.6 544.8C543.9 545.1 538.4 545.6 535.1 546.6C531.8 547.5 528.5 548.9 525.8 550.4C523.1 551.9 520.9 553.8 518.8 555.3C516.6 556.8 514.7 558.4 512.9 559.6C511.2 560.8 510.1 562.0 508.3 562.7C506.4 563.3 504.0 563.1 501.8 563.5C499.5 563.9 497.3 564.5 494.8 565.1C492.3 565.8 489.7 566.7 486.6 567.3C483.5 568.0 479.2 568.5 476.1 568.9C473.0 569.2 469.3 569.3 467.9 569.4" fill="none" stroke="#000" stroke-width="1.00" stroke-linecap="butt" stroke-linejoin="round" stroke-dasharray="2.0 1.3"/>
<path d="M545.5 542.4C543.8 542.7 538.3 543.3 535.0 544.3C531.7 545.3 528.4 546.8 525.7 548.3C522.9 549.8 520.8 551.8 518.6 553.3C516.5 554.9 514.6 556.4 512.8 557.7C511.1 559.0 510.0 560.2 508.1 560.9C506.2 561.5 503.6 561.3 501.3 561.7C499.0 562.1 496.9 562.7 494.3 563.3C491.8 564.0 489.3 564.9 486.2 565.5C483.0 566.2 478.8 566.7 475.6 567.1C472.5 567.4 468.8 567.5 467.5 567.6" fill="none" stroke="#000" stroke-width="1.00" stroke-linecap="butt" stroke-linejoin="round" stroke-dasharray="2.0 1.3"/>
<path d="M545.4 539.9C543.6 540.3 538.2 541.0 534.9 542.0C531.5 543.1 528.2 544.6 525.5 546.2C522.8 547.7 520.6 549.7 518.5 551.3C516.4 552.9 514.4 554.5 512.7 555.8C510.9 557.1 510.0 558.4 508.0 559.1C506.0 559.7 503.2 559.5 500.9 559.9C498.5 560.3 496.4 560.9 493.9 561.5C491.4 562.1 488.8 563.1 485.7 563.7C482.6 564.3 478.3 564.9 475.2 565.2C472.1 565.6 468.4 565.7 467.0 565.8" fill="none" stroke="#000" stroke-width="1.00" stroke-linecap="butt" stroke-linejoin="round" stroke-dasharray="2.0 1.3"/>
<path d="M545.2 537.5C543.5 537.9 538.0 538.7 534.7 539.8C531.4 540.9 528.1 542.5 525.4 544.1C522.7 545.7 520.5 547.7 518.4 549.3C516.2 551.0 514.3 552.6 512.5 553.9C510.8 555.2 509.9 556.6 507.9 557.2C505.8 557.9 502.8 557.6 500.4 558.1C498.0 558.5 496.0 559.1 493.4 559.7C490.9 560.3 488.4 561.3 485.3 561.9C482.1 562.5 477.9 563.1 474.7 563.4C471.6 563.8 467.9 563.9 466.6 564.0" fill="none" stroke="#000" stroke-width="1.00" stroke-linecap="butt" stroke-linejoin="round" stroke-dasharray="2.0 1.3"/>
<path d="M545.1 535.0C543.3 535.5 537.9 536.4 534.6 537.5C531.3 538.7 528.0 540.3 525.2 542.0C522.5 543.6 520.4 545.7 518.2 547.4C516.1 549.0 514.1 550.7 512.4 552.0C510.6 553.4 509.8 554.7 507.7 555.4C505.7 556.1 502.4 555.8 500.0 556.2C497.5 556.7 495.5 557.2 493.0 557.9C490.4 558.5 487.9 559.5 484.8 560.1C481.7 560.7 477.4 561.3 474.3 561.6C471.2 562.0 467.5 562.1 466.1 562.2" fill="none" stroke="#000" stroke-width="1.00" stroke-linecap="butt" stroke-linejoin="round" stroke-dasharray="2.0 1.3"/>
<path d="M545.0 532.6C543.2 533.0 537.8 534.0 534.5 535.3C531.1 536.5 527.8 538.2 525.1 539.9C522.4 541.5 520.2 543.7 518.1 545.4C516.0 547.1 514.0 548.8 512.3 550.1C510.5 551.5 509.7 552.9 507.6 553.6C505.5 554.3 502.0 554.0 499.5 554.4C497.0 554.8 495.1 555.4 492.5 556.1C490.0 556.7 487.5 557.7 484.4 558.3C481.2 558.9 477.0 559.5 473.8 559.8C470.7 560.2 467.0 560.3 465.7 560.4" fill="none" stroke="#000" stroke-width="1.00" stroke-linecap="butt" stroke-linejoin="round" stroke-dasharray="2.0 1.3"/>
</g>
<path d="M164.5 537.9a1.22 1.22 0 1 0 2.44 0a1.22 1.22 0 1 0 -2.44 0M164.5 546.5a1.22 1.22 0 1 0 2.44 0a1.22 1.22 0 1 0 -2.44 0M164.5 555.0a1.22 1.22 0 1 0 2.44 0a1.22 1.22 0 1 0 -2.44 0M168.8 533.7a1.22 1.22 0 1 0 2.44 0a1.22 1.22 0 1 0 -2.44 0M168.8 542.2a1.22 1.22 0 1 0 2.44 0a1.22 1.22 0 1 0 -2.44 0M168.8 550.7a1.22 1.22 0 1 0 2.44 0a1.22 1.22 0 1 0 -2.44 0M168.8 559.2a1.22 1.22 0 1 0 2.44 0a1.22 1.22 0 1 0 -2.44 0M173.0 537.9a1.22 1.22 0 1 0 2.44 0a1.22 1.22 0 1 0 -2.44 0M173.0 546.5a1.22 1.22 0 1 0 2.44 0a1.22 1.22 0 1 0 -2.44 0M177.3 533.7a1.22 1.22 0 1 0 2.44 0a1.22 1.22 0 1 0 -2.44 0M177.3 542.2a1.22 1.22 0 1 0 2.44 0a1.22 1.22 0 1 0 -2.44 0M177.3 550.7a1.22 1.22 0 1 0 2.44 0a1.22 1.22 0 1 0 -2.44 0M181.5 537.9a1.22 1.22 0 1 0 2.44 0a1.22 1.22 0 1 0 -2.44 0M181.5 546.5a1.22 1.22 0 1 0 2.44 0a1.22 1.22 0 1 0 -2.44 0M185.8 533.7a1.22 1.22 0 1 0 2.44 0a1.22 1.22 0 1 0 -2.44 0M185.8 542.2a1.22 1.22 0 1 0 2.44 0a1.22 1.22 0 1 0 -2.44 0M185.8 550.7a1.22 1.22 0 1 0 2.44 0a1.22 1.22 0 1 0 -2.44 0M190.1 537.9a1.22 1.22 0 1 0 2.44 0a1.22 1.22 0 1 0 -2.44 0M190.1 546.5a1.22 1.22 0 1 0 2.44 0a1.22 1.22 0 1 0 -2.44 0M194.3 533.7a1.22 1.22 0 1 0 2.44 0a1.22 1.22 0 1 0 -2.44 0M194.3 542.2a1.22 1.22 0 1 0 2.44 0a1.22 1.22 0 1 0 -2.44 0M194.3 550.7a1.22 1.22 0 1 0 2.44 0a1.22 1.22 0 1 0 -2.44 0M198.6 537.9a1.22 1.22 0 1 0 2.44 0a1.22 1.22 0 1 0 -2.44 0M198.6 546.5a1.22 1.22 0 1 0 2.44 0a1.22 1.22 0 1 0 -2.44 0M202.8 533.7a1.22 1.22 0 1 0 2.44 0a1.22 1.22 0 1 0 -2.44 0M202.8 542.2a1.22 1.22 0 1 0 2.44 0a1.22 1.22 0 1 0 -2.44 0M202.8 550.7a1.22 1.22 0 1 0 2.44 0a1.22 1.22 0 1 0 -2.44 0M241.2 469.7a1.22 1.22 0 1 0 2.44 0a1.22 1.22 0 1 0 -2.44 0M245.5 474.0a1.22 1.22 0 1 0 2.44 0a1.22 1.22 0 1 0 -2.44 0M249.7 469.7a1.22 1.22 0 1 0 2.44 0a1.22 1.22 0 1 0 -2.44 0M254.0 465.5a1.22 1.22 0 1 0 2.44 0a1.22 1.22 0 1 0 -2.44 0M254.0 474.0a1.22 1.22 0 1 0 2.44 0a1.22 1.22 0 1 0 -2.44 0M254.0 482.5a1.22 1.22 0 1 0 2.44 0a1.22 1.22 0 1 0 -2.44 0M258.3 461.2a1.22 1.22 0 1 0 2.44 0a1.22 1.22 0 1 0 -2.44 0M258.3 469.7a1.22 1.22 0 1 0 2.44 0a1.22 1.22 0 1 0 -2.44 0M258.3 478.3a1.22 1.22 0 1 0 2.44 0a1.22 1.22 0 1 0 -2.44 0M262.5 465.5a1.22 1.22 0 1 0 2.44 0a1.22 1.22 0 1 0 -2.44 0M262.5 474.0a1.22 1.22 0 1 0 2.44 0a1.22 1.22 0 1 0 -2.44 0M262.5 482.5a1.22 1.22 0 1 0 2.44 0a1.22 1.22 0 1 0 -2.44 0M266.8 461.2a1.22 1.22 0 1 0 2.44 0a1.22 1.22 0 1 0 -2.44 0M266.8 469.7a1.22 1.22 0 1 0 2.44 0a1.22 1.22 0 1 0 -2.44 0M271.0 457.0a1.22 1.22 0 1 0 2.44 0a1.22 1.22 0 1 0 -2.44 0M271.0 465.5a1.22 1.22 0 1 0 2.44 0a1.22 1.22 0 1 0 -2.44 0M275.3 452.7a1.22 1.22 0 1 0 2.44 0a1.22 1.22 0 1 0 -2.44 0M275.3 461.2a1.22 1.22 0 1 0 2.44 0a1.22 1.22 0 1 0 -2.44 0M279.6 457.0a1.22 1.22 0 1 0 2.44 0a1.22 1.22 0 1 0 -2.44 0M283.8 452.7a1.22 1.22 0 1 0 2.44 0a1.22 1.22 0 1 0 -2.44 0M288.1 508.1a1.22 1.22 0 1 0 2.44 0a1.22 1.22 0 1 0 -2.44 0M296.6 508.1a1.22 1.22 0 1 0 2.44 0a1.22 1.22 0 1 0 -2.44 0M330.7 491.0a1.22 1.22 0 1 0 2.44 0a1.22 1.22 0 1 0 -2.44 0M330.7 499.6a1.22 1.22 0 1 0 2.44 0a1.22 1.22 0 1 0 -2.44 0M335.0 444.2a1.22 1.22 0 1 0 2.44 0a1.22 1.22 0 1 0 -2.44 0M335.0 452.7a1.22 1.22 0 1 0 2.44 0a1.22 1.22 0 1 0 -2.44 0M335.0 461.2a1.22 1.22 0 1 0 2.44 0a1.22 1.22 0 1 0 -2.44 0M335.0 469.7a1.22 1.22 0 1 0 2.44 0a1.22 1.22 0 1 0 -2.44 0M335.0 478.3a1.22 1.22 0 1 0 2.44 0a1.22 1.22 0 1 0 -2.44 0M335.0 495.3a1.22 1.22 0 1 0 2.44 0a1.22 1.22 0 1 0 -2.44 0M335.0 503.8a1.22 1.22 0 1 0 2.44 0a1.22 1.22 0 1 0 -2.44 0M339.2 448.4a1.22 1.22 0 1 0 2.44 0a1.22 1.22 0 1 0 -2.44 0M339.2 457.0a1.22 1.22 0 1 0 2.44 0a1.22 1.22 0 1 0 -2.44 0M339.2 465.5a1.22 1.22 0 1 0 2.44 0a1.22 1.22 0 1 0 -2.44 0M339.2 474.0a1.22 1.22 0 1 0 2.44 0a1.22 1.22 0 1 0 -2.44 0M339.2 491.0a1.22 1.22 0 1 0 2.44 0a1.22 1.22 0 1 0 -2.44 0M339.2 499.6a1.22 1.22 0 1 0 2.44 0a1.22 1.22 0 1 0 -2.44 0M343.5 444.2a1.22 1.22 0 1 0 2.44 0a1.22 1.22 0 1 0 -2.44 0M343.5 452.7a1.22 1.22 0 1 0 2.44 0a1.22 1.22 0 1 0 -2.44 0M343.5 461.2a1.22 1.22 0 1 0 2.44 0a1.22 1.22 0 1 0 -2.44 0M343.5 469.7a1.22 1.22 0 1 0 2.44 0a1.22 1.22 0 1 0 -2.44 0M343.5 478.3a1.22 1.22 0 1 0 2.44 0a1.22 1.22 0 1 0 -2.44 0M343.5 495.3a1.22 1.22 0 1 0 2.44 0a1.22 1.22 0 1 0 -2.44 0M343.5 503.8a1.22 1.22 0 1 0 2.44 0a1.22 1.22 0 1 0 -2.44 0M347.8 397.3a1.22 1.22 0 1 0 2.44 0a1.22 1.22 0 1 0 -2.44 0M347.8 448.4a1.22 1.22 0 1 0 2.44 0a1.22 1.22 0 1 0 -2.44 0M347.8 457.0a1.22 1.22 0 1 0 2.44 0a1.22 1.22 0 1 0 -2.44 0M347.8 465.5a1.22 1.22 0 1 0 2.44 0a1.22 1.22 0 1 0 -2.44 0M347.8 474.0a1.22 1.22 0 1 0 2.44 0a1.22 1.22 0 1 0 -2.44 0M347.8 482.5a1.22 1.22 0 1 0 2.44 0a1.22 1.22 0 1 0 -2.44 0M347.8 491.0a1.22 1.22 0 1 0 2.44 0a1.22 1.22 0 1 0 -2.44 0M347.8 499.6a1.22 1.22 0 1 0 2.44 0a1.22 1.22 0 1 0 -2.44 0M352.0 401.5a1.22 1.22 0 1 0 2.44 0a1.22 1.22 0 1 0 -2.44 0M352.0 444.2a1.22 1.22 0 1 0 2.44 0a1.22 1.22 0 1 0 -2.44 0M352.0 452.7a1.22 1.22 0 1 0 2.44 0a1.22 1.22 0 1 0 -2.44 0M352.0 461.2a1.22 1.22 0 1 0 2.44 0a1.22 1.22 0 1 0 -2.44 0M352.0 469.7a1.22 1.22 0 1 0 2.44 0a1.22 1.22 0 1 0 -2.44 0M352.0 478.3a1.22 1.22 0 1 0 2.44 0a1.22 1.22 0 1 0 -2.44 0M352.0 503.8a1.22 1.22 0 1 0 2.44 0a1.22 1.22 0 1 0 -2.44 0M356.3 397.3a1.22 1.22 0 1 0 2.44 0a1.22 1.22 0 1 0 -2.44 0M356.3 439.9a1.22 1.22 0 1 0 2.44 0a1.22 1.22 0 1 0 -2.44 0M356.3 448.4a1.22 1.22 0 1 0 2.44 0a1.22 1.22 0 1 0 -2.44 0M356.3 457.0a1.22 1.22 0 1 0 2.44 0a1.22 1.22 0 1 0 -2.44 0M356.3 465.5a1.22 1.22 0 1 0 2.44 0a1.22 1.22 0 1 0 -2.44 0M356.3 474.0a1.22 1.22 0 1 0 2.44 0a1.22 1.22 0 1 0 -2.44 0M356.3 482.5a1.22 1.22 0 1 0 2.44 0a1.22 1.22 0 1 0 -2.44 0M360.5 401.5a1.22 1.22 0 1 0 2.44 0a1.22 1.22 0 1 0 -2.44 0M360.5 444.2a1.22 1.22 0 1 0 2.44 0a1.22 1.22 0 1 0 -2.44 0M360.5 452.7a1.22 1.22 0 1 0 2.44 0a1.22 1.22 0 1 0 -2.44 0M360.5 461.2a1.22 1.22 0 1 0 2.44 0a1.22 1.22 0 1 0 -2.44 0M360.5 469.7a1.22 1.22 0 1 0 2.44 0a1.22 1.22 0 1 0 -2.44 0M360.5 478.3a1.22 1.22 0 1 0 2.44 0a1.22 1.22 0 1 0 -2.44 0M364.8 397.3a1.22 1.22 0 1 0 2.44 0a1.22 1.22 0 1 0 -2.44 0M364.8 405.8a1.22 1.22 0 1 0 2.44 0a1.22 1.22 0 1 0 -2.44 0M364.8 439.9a1.22 1.22 0 1 0 2.44 0a1.22 1.22 0 1 0 -2.44 0M364.8 448.4a1.22 1.22 0 1 0 2.44 0a1.22 1.22 0 1 0 -2.44 0M364.8 457.0a1.22 1.22 0 1 0 2.44 0a1.22 1.22 0 1 0 -2.44 0M364.8 465.5a1.22 1.22 0 1 0 2.44 0a1.22 1.22 0 1 0 -2.44 0M364.8 474.0a1.22 1.22 0 1 0 2.44 0a1.22 1.22 0 1 0 -2.44 0M369.1 401.5a1.22 1.22 0 1 0 2.44 0a1.22 1.22 0 1 0 -2.44 0M369.1 410.1a1.22 1.22 0 1 0 2.44 0a1.22 1.22 0 1 0 -2.44 0M369.1 435.6a1.22 1.22 0 1 0 2.44 0a1.22 1.22 0 1 0 -2.44 0M369.1 444.2a1.22 1.22 0 1 0 2.44 0a1.22 1.22 0 1 0 -2.44 0M369.1 452.7a1.22 1.22 0 1 0 2.44 0a1.22 1.22 0 1 0 -2.44 0M369.1 461.2a1.22 1.22 0 1 0 2.44 0a1.22 1.22 0 1 0 -2.44 0M369.1 469.7a1.22 1.22 0 1 0 2.44 0a1.22 1.22 0 1 0 -2.44 0M373.3 397.3a1.22 1.22 0 1 0 2.44 0a1.22 1.22 0 1 0 -2.44 0M373.3 405.8a1.22 1.22 0 1 0 2.44 0a1.22 1.22 0 1 0 -2.44 0M373.3 414.3a1.22 1.22 0 1 0 2.44 0a1.22 1.22 0 1 0 -2.44 0M373.3 439.9a1.22 1.22 0 1 0 2.44 0a1.22 1.22 0 1 0 -2.44 0M373.3 448.4a1.22 1.22 0 1 0 2.44 0a1.22 1.22 0 1 0 -2.44 0M373.3 457.0a1.22 1.22 0 1 0 2.44 0a1.22 1.22 0 1 0 -2.44 0M377.6 401.5a1.22 1.22 0 1 0 2.44 0a1.22 1.22 0 1 0 -2.44 0M377.6 410.1a1.22 1.22 0 1 0 2.44 0a1.22 1.22 0 1 0 -2.44 0M377.6 418.6a1.22 1.22 0 1 0 2.44 0a1.22 1.22 0 1 0 -2.44 0M377.6 427.1a1.22 1.22 0 1 0 2.44 0a1.22 1.22 0 1 0 -2.44 0M377.6 435.6a1.22 1.22 0 1 0 2.44 0a1.22 1.22 0 1 0 -2.44 0M377.6 444.2a1.22 1.22 0 1 0 2.44 0a1.22 1.22 0 1 0 -2.44 0M377.6 452.7a1.22 1.22 0 1 0 2.44 0a1.22 1.22 0 1 0 -2.44 0M377.6 461.2a1.22 1.22 0 1 0 2.44 0a1.22 1.22 0 1 0 -2.44 0M377.6 503.8a1.22 1.22 0 1 0 2.44 0a1.22 1.22 0 1 0 -2.44 0M377.6 512.4a1.22 1.22 0 1 0 2.44 0a1.22 1.22 0 1 0 -2.44 0M377.6 520.9a1.22 1.22 0 1 0 2.44 0a1.22 1.22 0 1 0 -2.44 0M377.6 529.4a1.22 1.22 0 1 0 2.44 0a1.22 1.22 0 1 0 -2.44 0M377.6 563.5a1.22 1.22 0 1 0 2.44 0a1.22 1.22 0 1 0 -2.44 0M381.8 397.3a1.22 1.22 0 1 0 2.44 0a1.22 1.22 0 1 0 -2.44 0M381.8 405.8a1.22 1.22 0 1 0 2.44 0a1.22 1.22 0 1 0 -2.44 0M381.8 414.3a1.22 1.22 0 1 0 2.44 0a1.22 1.22 0 1 0 -2.44 0M381.8 422.9a1.22 1.22 0 1 0 2.44 0a1.22 1.22 0 1 0 -2.44 0M381.8 431.4a1.22 1.22 0 1 0 2.44 0a1.22 1.22 0 1 0 -2.44 0M381.8 439.9a1.22 1.22 0 1 0 2.44 0a1.22 1.22 0 1 0 -2.44 0M381.8 448.4a1.22 1.22 0 1 0 2.44 0a1.22 1.22 0 1 0 -2.44 0M381.8 457.0a1.22 1.22 0 1 0 2.44 0a1.22 1.22 0 1 0 -2.44 0M381.8 508.1a1.22 1.22 0 1 0 2.44 0a1.22 1.22 0 1 0 -2.44 0M381.8 516.6a1.22 1.22 0 1 0 2.44 0a1.22 1.22 0 1 0 -2.44 0M381.8 525.1a1.22 1.22 0 1 0 2.44 0a1.22 1.22 0 1 0 -2.44 0M381.8 567.8a1.22 1.22 0 1 0 2.44 0a1.22 1.22 0 1 0 -2.44 0M386.1 401.5a1.22 1.22 0 1 0 2.44 0a1.22 1.22 0 1 0 -2.44 0M386.1 410.1a1.22 1.22 0 1 0 2.44 0a1.22 1.22 0 1 0 -2.44 0M386.1 418.6a1.22 1.22 0 1 0 2.44 0a1.22 1.22 0 1 0 -2.44 0M386.1 427.1a1.22 1.22 0 1 0 2.44 0a1.22 1.22 0 1 0 -2.44 0M386.1 435.6a1.22 1.22 0 1 0 2.44 0a1.22 1.22 0 1 0 -2.44 0M386.1 444.2a1.22 1.22 0 1 0 2.44 0a1.22 1.22 0 1 0 -2.44 0M386.1 452.7a1.22 1.22 0 1 0 2.44 0a1.22 1.22 0 1 0 -2.44 0M386.1 461.2a1.22 1.22 0 1 0 2.44 0a1.22 1.22 0 1 0 -2.44 0M386.1 503.8a1.22 1.22 0 1 0 2.44 0a1.22 1.22 0 1 0 -2.44 0M386.1 512.4a1.22 1.22 0 1 0 2.44 0a1.22 1.22 0 1 0 -2.44 0M386.1 520.9a1.22 1.22 0 1 0 2.44 0a1.22 1.22 0 1 0 -2.44 0M386.1 529.4a1.22 1.22 0 1 0 2.44 0a1.22 1.22 0 1 0 -2.44 0M390.4 397.3a1.22 1.22 0 1 0 2.44 0a1.22 1.22 0 1 0 -2.44 0M390.4 405.8a1.22 1.22 0 1 0 2.44 0a1.22 1.22 0 1 0 -2.44 0M390.4 414.3a1.22 1.22 0 1 0 2.44 0a1.22 1.22 0 1 0 -2.44 0M390.4 422.9a1.22 1.22 0 1 0 2.44 0a1.22 1.22 0 1 0 -2.44 0M390.4 431.4a1.22 1.22 0 1 0 2.44 0a1.22 1.22 0 1 0 -2.44 0M390.4 439.9a1.22 1.22 0 1 0 2.44 0a1.22 1.22 0 1 0 -2.44 0M390.4 448.4a1.22 1.22 0 1 0 2.44 0a1.22 1.22 0 1 0 -2.44 0M390.4 457.0a1.22 1.22 0 1 0 2.44 0a1.22 1.22 0 1 0 -2.44 0M390.4 465.5a1.22 1.22 0 1 0 2.44 0a1.22 1.22 0 1 0 -2.44 0M390.4 474.0a1.22 1.22 0 1 0 2.44 0a1.22 1.22 0 1 0 -2.44 0M390.4 508.1a1.22 1.22 0 1 0 2.44 0a1.22 1.22 0 1 0 -2.44 0M390.4 516.6a1.22 1.22 0 1 0 2.44 0a1.22 1.22 0 1 0 -2.44 0M390.4 525.1a1.22 1.22 0 1 0 2.44 0a1.22 1.22 0 1 0 -2.44 0M390.4 533.7a1.22 1.22 0 1 0 2.44 0a1.22 1.22 0 1 0 -2.44 0M390.4 542.2a1.22 1.22 0 1 0 2.44 0a1.22 1.22 0 1 0 -2.44 0M394.6 410.1a1.22 1.22 0 1 0 2.44 0a1.22 1.22 0 1 0 -2.44 0M394.6 418.6a1.22 1.22 0 1 0 2.44 0a1.22 1.22 0 1 0 -2.44 0M394.6 427.1a1.22 1.22 0 1 0 2.44 0a1.22 1.22 0 1 0 -2.44 0M394.6 435.6a1.22 1.22 0 1 0 2.44 0a1.22 1.22 0 1 0 -2.44 0M394.6 444.2a1.22 1.22 0 1 0 2.44 0a1.22 1.22 0 1 0 -2.44 0M394.6 452.7a1.22 1.22 0 1 0 2.44 0a1.22 1.22 0 1 0 -2.44 0M394.6 461.2a1.22 1.22 0 1 0 2.44 0a1.22 1.22 0 1 0 -2.44 0M394.6 469.7a1.22 1.22 0 1 0 2.44 0a1.22 1.22 0 1 0 -2.44 0M394.6 478.3a1.22 1.22 0 1 0 2.44 0a1.22 1.22 0 1 0 -2.44 0M394.6 495.3a1.22 1.22 0 1 0 2.44 0a1.22 1.22 0 1 0 -2.44 0M394.6 503.8a1.22 1.22 0 1 0 2.44 0a1.22 1.22 0 1 0 -2.44 0M394.6 520.9a1.22 1.22 0 1 0 2.44 0a1.22 1.22 0 1 0 -2.44 0M394.6 529.4a1.22 1.22 0 1 0 2.44 0a1.22 1.22 0 1 0 -2.44 0M394.6 537.9a1.22 1.22 0 1 0 2.44 0a1.22 1.22 0 1 0 -2.44 0M394.6 546.5a1.22 1.22 0 1 0 2.44 0a1.22 1.22 0 1 0 -2.44 0M398.9 405.8a1.22 1.22 0 1 0 2.44 0a1.22 1.22 0 1 0 -2.44 0M398.9 414.3a1.22 1.22 0 1 0 2.44 0a1.22 1.22 0 1 0 -2.44 0M398.9 422.9a1.22 1.22 0 1 0 2.44 0a1.22 1.22 0 1 0 -2.44 0M398.9 431.4a1.22 1.22 0 1 0 2.44 0a1.22 1.22 0 1 0 -2.44 0M398.9 439.9a1.22 1.22 0 1 0 2.44 0a1.22 1.22 0 1 0 -2.44 0M398.9 448.4a1.22 1.22 0 1 0 2.44 0a1.22 1.22 0 1 0 -2.44 0M398.9 457.0a1.22 1.22 0 1 0 2.44 0a1.22 1.22 0 1 0 -2.44 0M398.9 465.5a1.22 1.22 0 1 0 2.44 0a1.22 1.22 0 1 0 -2.44 0M398.9 474.0a1.22 1.22 0 1 0 2.44 0a1.22 1.22 0 1 0 -2.44 0M398.9 482.5a1.22 1.22 0 1 0 2.44 0a1.22 1.22 0 1 0 -2.44 0M398.9 491.0a1.22 1.22 0 1 0 2.44 0a1.22 1.22 0 1 0 -2.44 0M398.9 499.6a1.22 1.22 0 1 0 2.44 0a1.22 1.22 0 1 0 -2.44 0M398.9 525.1a1.22 1.22 0 1 0 2.44 0a1.22 1.22 0 1 0 -2.44 0M398.9 533.7a1.22 1.22 0 1 0 2.44 0a1.22 1.22 0 1 0 -2.44 0M398.9 542.2a1.22 1.22 0 1 0 2.44 0a1.22 1.22 0 1 0 -2.44 0M398.9 550.7a1.22 1.22 0 1 0 2.44 0a1.22 1.22 0 1 0 -2.44 0M403.2 410.1a1.22 1.22 0 1 0 2.44 0a1.22 1.22 0 1 0 -2.44 0M403.2 418.6a1.22 1.22 0 1 0 2.44 0a1.22 1.22 0 1 0 -2.44 0M403.2 427.1a1.22 1.22 0 1 0 2.44 0a1.22 1.22 0 1 0 -2.44 0M403.2 435.6a1.22 1.22 0 1 0 2.44 0a1.22 1.22 0 1 0 -2.44 0M403.2 444.2a1.22 1.22 0 1 0 2.44 0a1.22 1.22 0 1 0 -2.44 0M403.2 452.7a1.22 1.22 0 1 0 2.44 0a1.22 1.22 0 1 0 -2.44 0M403.2 461.2a1.22 1.22 0 1 0 2.44 0a1.22 1.22 0 1 0 -2.44 0M403.2 469.7a1.22 1.22 0 1 0 2.44 0a1.22 1.22 0 1 0 -2.44 0M403.2 478.3a1.22 1.22 0 1 0 2.44 0a1.22 1.22 0 1 0 -2.44 0M403.2 486.8a1.22 1.22 0 1 0 2.44 0a1.22 1.22 0 1 0 -2.44 0M403.2 529.4a1.22 1.22 0 1 0 2.44 0a1.22 1.22 0 1 0 -2.44 0M403.2 537.9a1.22 1.22 0 1 0 2.44 0a1.22 1.22 0 1 0 -2.44 0M403.2 546.5a1.22 1.22 0 1 0 2.44 0a1.22 1.22 0 1 0 -2.44 0M407.4 405.8a1.22 1.22 0 1 0 2.44 0a1.22 1.22 0 1 0 -2.44 0M407.4 414.3a1.22 1.22 0 1 0 2.44 0a1.22 1.22 0 1 0 -2.44 0M407.4 422.9a1.22 1.22 0 1 0 2.44 0a1.22 1.22 0 1 0 -2.44 0M407.4 431.4a1.22 1.22 0 1 0 2.44 0a1.22 1.22 0 1 0 -2.44 0M407.4 439.9a1.22 1.22 0 1 0 2.44 0a1.22 1.22 0 1 0 -2.44 0M407.4 448.4a1.22 1.22 0 1 0 2.44 0a1.22 1.22 0 1 0 -2.44 0M407.4 457.0a1.22 1.22 0 1 0 2.44 0a1.22 1.22 0 1 0 -2.44 0M407.4 465.5a1.22 1.22 0 1 0 2.44 0a1.22 1.22 0 1 0 -2.44 0M407.4 474.0a1.22 1.22 0 1 0 2.44 0a1.22 1.22 0 1 0 -2.44 0M407.4 482.5a1.22 1.22 0 1 0 2.44 0a1.22 1.22 0 1 0 -2.44 0M407.4 533.7a1.22 1.22 0 1 0 2.44 0a1.22 1.22 0 1 0 -2.44 0M407.4 542.2a1.22 1.22 0 1 0 2.44 0a1.22 1.22 0 1 0 -2.44 0M407.4 550.7a1.22 1.22 0 1 0 2.44 0a1.22 1.22 0 1 0 -2.44 0M411.7 410.1a1.22 1.22 0 1 0 2.44 0a1.22 1.22 0 1 0 -2.44 0M411.7 418.6a1.22 1.22 0 1 0 2.44 0a1.22 1.22 0 1 0 -2.44 0M411.7 427.1a1.22 1.22 0 1 0 2.44 0a1.22 1.22 0 1 0 -2.44 0M411.7 435.6a1.22 1.22 0 1 0 2.44 0a1.22 1.22 0 1 0 -2.44 0M411.7 444.2a1.22 1.22 0 1 0 2.44 0a1.22 1.22 0 1 0 -2.44 0M411.7 452.7a1.22 1.22 0 1 0 2.44 0a1.22 1.22 0 1 0 -2.44 0M411.7 461.2a1.22 1.22 0 1 0 2.44 0a1.22 1.22 0 1 0 -2.44 0M411.7 469.7a1.22 1.22 0 1 0 2.44 0a1.22 1.22 0 1 0 -2.44 0M411.7 478.3a1.22 1.22 0 1 0 2.44 0a1.22 1.22 0 1 0 -2.44 0M411.7 486.8a1.22 1.22 0 1 0 2.44 0a1.22 1.22 0 1 0 -2.44 0M411.7 529.4a1.22 1.22 0 1 0 2.44 0a1.22 1.22 0 1 0 -2.44 0M411.7 537.9a1.22 1.22 0 1 0 2.44 0a1.22 1.22 0 1 0 -2.44 0M411.7 546.5a1.22 1.22 0 1 0 2.44 0a1.22 1.22 0 1 0 -2.44 0M415.9 405.8a1.22 1.22 0 1 0 2.44 0a1.22 1.22 0 1 0 -2.44 0M415.9 414.3a1.22 1.22 0 1 0 2.44 0a1.22 1.22 0 1 0 -2.44 0M415.9 422.9a1.22 1.22 0 1 0 2.44 0a1.22 1.22 0 1 0 -2.44 0M415.9 431.4a1.22 1.22 0 1 0 2.44 0a1.22 1.22 0 1 0 -2.44 0M415.9 439.9a1.22 1.22 0 1 0 2.44 0a1.22 1.22 0 1 0 -2.44 0M415.9 448.4a1.22 1.22 0 1 0 2.44 0a1.22 1.22 0 1 0 -2.44 0M415.9 457.0a1.22 1.22 0 1 0 2.44 0a1.22 1.22 0 1 0 -2.44 0M415.9 465.5a1.22 1.22 0 1 0 2.44 0a1.22 1.22 0 1 0 -2.44 0M415.9 474.0a1.22 1.22 0 1 0 2.44 0a1.22 1.22 0 1 0 -2.44 0M415.9 482.5a1.22 1.22 0 1 0 2.44 0a1.22 1.22 0 1 0 -2.44 0M420.2 410.1a1.22 1.22 0 1 0 2.44 0a1.22 1.22 0 1 0 -2.44 0M420.2 418.6a1.22 1.22 0 1 0 2.44 0a1.22 1.22 0 1 0 -2.44 0M420.2 427.1a1.22 1.22 0 1 0 2.44 0a1.22 1.22 0 1 0 -2.44 0M420.2 435.6a1.22 1.22 0 1 0 2.44 0a1.22 1.22 0 1 0 -2.44 0M420.2 444.2a1.22 1.22 0 1 0 2.44 0a1.22 1.22 0 1 0 -2.44 0M420.2 452.7a1.22 1.22 0 1 0 2.44 0a1.22 1.22 0 1 0 -2.44 0M420.2 461.2a1.22 1.22 0 1 0 2.44 0a1.22 1.22 0 1 0 -2.44 0M420.2 469.7a1.22 1.22 0 1 0 2.44 0a1.22 1.22 0 1 0 -2.44 0M420.2 478.3a1.22 1.22 0 1 0 2.44 0a1.22 1.22 0 1 0 -2.44 0M420.2 486.8a1.22 1.22 0 1 0 2.44 0a1.22 1.22 0 1 0 -2.44 0M424.5 414.3a1.22 1.22 0 1 0 2.44 0a1.22 1.22 0 1 0 -2.44 0M424.5 422.9a1.22 1.22 0 1 0 2.44 0a1.22 1.22 0 1 0 -2.44 0M424.5 431.4a1.22 1.22 0 1 0 2.44 0a1.22 1.22 0 1 0 -2.44 0M424.5 439.9a1.22 1.22 0 1 0 2.44 0a1.22 1.22 0 1 0 -2.44 0M424.5 448.4a1.22 1.22 0 1 0 2.44 0a1.22 1.22 0 1 0 -2.44 0M424.5 457.0a1.22 1.22 0 1 0 2.44 0a1.22 1.22 0 1 0 -2.44 0M424.5 465.5a1.22 1.22 0 1 0 2.44 0a1.22 1.22 0 1 0 -2.44 0M424.5 474.0a1.22 1.22 0 1 0 2.44 0a1.22 1.22 0 1 0 -2.44 0M424.5 482.5a1.22 1.22 0 1 0 2.44 0a1.22 1.22 0 1 0 -2.44 0M428.7 418.6a1.22 1.22 0 1 0 2.44 0a1.22 1.22 0 1 0 -2.44 0M428.7 427.1a1.22 1.22 0 1 0 2.44 0a1.22 1.22 0 1 0 -2.44 0M428.7 435.6a1.22 1.22 0 1 0 2.44 0a1.22 1.22 0 1 0 -2.44 0M428.7 444.2a1.22 1.22 0 1 0 2.44 0a1.22 1.22 0 1 0 -2.44 0M428.7 452.7a1.22 1.22 0 1 0 2.44 0a1.22 1.22 0 1 0 -2.44 0M428.7 461.2a1.22 1.22 0 1 0 2.44 0a1.22 1.22 0 1 0 -2.44 0M428.7 469.7a1.22 1.22 0 1 0 2.44 0a1.22 1.22 0 1 0 -2.44 0M428.7 478.3a1.22 1.22 0 1 0 2.44 0a1.22 1.22 0 1 0 -2.44 0M433.0 422.9a1.22 1.22 0 1 0 2.44 0a1.22 1.22 0 1 0 -2.44 0M433.0 431.4a1.22 1.22 0 1 0 2.44 0a1.22 1.22 0 1 0 -2.44 0M433.0 439.9a1.22 1.22 0 1 0 2.44 0a1.22 1.22 0 1 0 -2.44 0M433.0 448.4a1.22 1.22 0 1 0 2.44 0a1.22 1.22 0 1 0 -2.44 0M433.0 457.0a1.22 1.22 0 1 0 2.44 0a1.22 1.22 0 1 0 -2.44 0M433.0 465.5a1.22 1.22 0 1 0 2.44 0a1.22 1.22 0 1 0 -2.44 0M433.0 474.0a1.22 1.22 0 1 0 2.44 0a1.22 1.22 0 1 0 -2.44 0M433.0 482.5a1.22 1.22 0 1 0 2.44 0a1.22 1.22 0 1 0 -2.44 0M437.3 418.6a1.22 1.22 0 1 0 2.44 0a1.22 1.22 0 1 0 -2.44 0M437.3 427.1a1.22 1.22 0 1 0 2.44 0a1.22 1.22 0 1 0 -2.44 0M437.3 435.6a1.22 1.22 0 1 0 2.44 0a1.22 1.22 0 1 0 -2.44 0M437.3 444.2a1.22 1.22 0 1 0 2.44 0a1.22 1.22 0 1 0 -2.44 0M437.3 452.7a1.22 1.22 0 1 0 2.44 0a1.22 1.22 0 1 0 -2.44 0M437.3 461.2a1.22 1.22 0 1 0 2.44 0a1.22 1.22 0 1 0 -2.44 0M437.3 469.7a1.22 1.22 0 1 0 2.44 0a1.22 1.22 0 1 0 -2.44 0M437.3 478.3a1.22 1.22 0 1 0 2.44 0a1.22 1.22 0 1 0 -2.44 0M441.5 422.9a1.22 1.22 0 1 0 2.44 0a1.22 1.22 0 1 0 -2.44 0M441.5 431.4a1.22 1.22 0 1 0 2.44 0a1.22 1.22 0 1 0 -2.44 0M441.5 439.9a1.22 1.22 0 1 0 2.44 0a1.22 1.22 0 1 0 -2.44 0M441.5 448.4a1.22 1.22 0 1 0 2.44 0a1.22 1.22 0 1 0 -2.44 0M441.5 457.0a1.22 1.22 0 1 0 2.44 0a1.22 1.22 0 1 0 -2.44 0M441.5 465.5a1.22 1.22 0 1 0 2.44 0a1.22 1.22 0 1 0 -2.44 0M441.5 474.0a1.22 1.22 0 1 0 2.44 0a1.22 1.22 0 1 0 -2.44 0M445.8 418.6a1.22 1.22 0 1 0 2.44 0a1.22 1.22 0 1 0 -2.44 0M445.8 427.1a1.22 1.22 0 1 0 2.44 0a1.22 1.22 0 1 0 -2.44 0M445.8 435.6a1.22 1.22 0 1 0 2.44 0a1.22 1.22 0 1 0 -2.44 0M445.8 444.2a1.22 1.22 0 1 0 2.44 0a1.22 1.22 0 1 0 -2.44 0M445.8 452.7a1.22 1.22 0 1 0 2.44 0a1.22 1.22 0 1 0 -2.44 0M445.8 461.2a1.22 1.22 0 1 0 2.44 0a1.22 1.22 0 1 0 -2.44 0M445.8 469.7a1.22 1.22 0 1 0 2.44 0a1.22 1.22 0 1 0 -2.44 0M450.0 422.9a1.22 1.22 0 1 0 2.44 0a1.22 1.22 0 1 0 -2.44 0M450.0 431.4a1.22 1.22 0 1 0 2.44 0a1.22 1.22 0 1 0 -2.44 0M450.0 439.9a1.22 1.22 0 1 0 2.44 0a1.22 1.22 0 1 0 -2.44 0M450.0 448.4a1.22 1.22 0 1 0 2.44 0a1.22 1.22 0 1 0 -2.44 0M450.0 457.0a1.22 1.22 0 1 0 2.44 0a1.22 1.22 0 1 0 -2.44 0M450.0 465.5a1.22 1.22 0 1 0 2.44 0a1.22 1.22 0 1 0 -2.44 0M450.0 474.0a1.22 1.22 0 1 0 2.44 0a1.22 1.22 0 1 0 -2.44 0M454.3 418.6a1.22 1.22 0 1 0 2.44 0a1.22 1.22 0 1 0 -2.44 0M454.3 427.1a1.22 1.22 0 1 0 2.44 0a1.22 1.22 0 1 0 -2.44 0M454.3 435.6a1.22 1.22 0 1 0 2.44 0a1.22 1.22 0 1 0 -2.44 0M454.3 444.2a1.22 1.22 0 1 0 2.44 0a1.22 1.22 0 1 0 -2.44 0M454.3 452.7a1.22 1.22 0 1 0 2.44 0a1.22 1.22 0 1 0 -2.44 0M454.3 461.2a1.22 1.22 0 1 0 2.44 0a1.22 1.22 0 1 0 -2.44 0M454.3 469.7a1.22 1.22 0 1 0 2.44 0a1.22 1.22 0 1 0 -2.44 0M458.6 422.9a1.22 1.22 0 1 0 2.44 0a1.22 1.22 0 1 0 -2.44 0M458.6 431.4a1.22 1.22 0 1 0 2.44 0a1.22 1.22 0 1 0 -2.44 0M458.6 439.9a1.22 1.22 0 1 0 2.44 0a1.22 1.22 0 1 0 -2.44 0M458.6 448.4a1.22 1.22 0 1 0 2.44 0a1.22 1.22 0 1 0 -2.44 0M458.6 457.0a1.22 1.22 0 1 0 2.44 0a1.22 1.22 0 1 0 -2.44 0M458.6 465.5a1.22 1.22 0 1 0 2.44 0a1.22 1.22 0 1 0 -2.44 0M458.6 474.0a1.22 1.22 0 1 0 2.44 0a1.22 1.22 0 1 0 -2.44 0M462.8 418.6a1.22 1.22 0 1 0 2.44 0a1.22 1.22 0 1 0 -2.44 0M462.8 427.1a1.22 1.22 0 1 0 2.44 0a1.22 1.22 0 1 0 -2.44 0M462.8 435.6a1.22 1.22 0 1 0 2.44 0a1.22 1.22 0 1 0 -2.44 0M462.8 444.2a1.22 1.22 0 1 0 2.44 0a1.22 1.22 0 1 0 -2.44 0M462.8 452.7a1.22 1.22 0 1 0 2.44 0a1.22 1.22 0 1 0 -2.44 0M462.8 461.2a1.22 1.22 0 1 0 2.44 0a1.22 1.22 0 1 0 -2.44 0M462.8 469.7a1.22 1.22 0 1 0 2.44 0a1.22 1.22 0 1 0 -2.44 0M467.1 422.9a1.22 1.22 0 1 0 2.44 0a1.22 1.22 0 1 0 -2.44 0M467.1 431.4a1.22 1.22 0 1 0 2.44 0a1.22 1.22 0 1 0 -2.44 0M467.1 439.9a1.22 1.22 0 1 0 2.44 0a1.22 1.22 0 1 0 -2.44 0M467.1 448.4a1.22 1.22 0 1 0 2.44 0a1.22 1.22 0 1 0 -2.44 0M467.1 457.0a1.22 1.22 0 1 0 2.44 0a1.22 1.22 0 1 0 -2.44 0M467.1 465.5a1.22 1.22 0 1 0 2.44 0a1.22 1.22 0 1 0 -2.44 0M467.1 474.0a1.22 1.22 0 1 0 2.44 0a1.22 1.22 0 1 0 -2.44 0M471.4 418.6a1.22 1.22 0 1 0 2.44 0a1.22 1.22 0 1 0 -2.44 0M471.4 427.1a1.22 1.22 0 1 0 2.44 0a1.22 1.22 0 1 0 -2.44 0M471.4 461.2a1.22 1.22 0 1 0 2.44 0a1.22 1.22 0 1 0 -2.44 0M471.4 469.7a1.22 1.22 0 1 0 2.44 0a1.22 1.22 0 1 0 -2.44 0M475.6 422.9a1.22 1.22 0 1 0 2.44 0a1.22 1.22 0 1 0 -2.44 0M475.6 474.0a1.22 1.22 0 1 0 2.44 0a1.22 1.22 0 1 0 -2.44 0M479.9 418.6a1.22 1.22 0 1 0 2.44 0a1.22 1.22 0 1 0 -2.44 0M479.9 427.1a1.22 1.22 0 1 0 2.44 0a1.22 1.22 0 1 0 -2.44 0M492.7 542.2a1.22 1.22 0 1 0 2.44 0a1.22 1.22 0 1 0 -2.44 0M492.7 550.7a1.22 1.22 0 1 0 2.44 0a1.22 1.22 0 1 0 -2.44 0M496.9 537.9a1.22 1.22 0 1 0 2.44 0a1.22 1.22 0 1 0 -2.44 0M496.9 546.5a1.22 1.22 0 1 0 2.44 0a1.22 1.22 0 1 0 -2.44 0M501.2 542.2a1.22 1.22 0 1 0 2.44 0a1.22 1.22 0 1 0 -2.44 0M505.4 537.9a1.22 1.22 0 1 0 2.44 0a1.22 1.22 0 1 0 -2.44 0M514.0 537.9a1.22 1.22 0 1 0 2.44 0a1.22 1.22 0 1 0 -2.44 0M522.5 537.9a1.22 1.22 0 1 0 2.44 0a1.22 1.22 0 1 0 -2.44 0M526.8 508.1a1.22 1.22 0 1 0 2.44 0a1.22 1.22 0 1 0 -2.44 0M531.0 512.4a1.22 1.22 0 1 0 2.44 0a1.22 1.22 0 1 0 -2.44 0M535.3 508.1a1.22 1.22 0 1 0 2.44 0a1.22 1.22 0 1 0 -2.44 0" fill="#000"/>
<text transform="translate(123.9 386.4) rotate(55)" font-size="9.4" text-anchor="middle" dominant-baseline="central" stroke="#e0f1ec" stroke-width="2.2" paint-order="stroke" stroke-linejoin="round">0.0</text>
<text transform="translate(163.3 417.8) rotate(-15)" font-size="9.4" text-anchor="middle" dominant-baseline="central" stroke="#e0f1ec" stroke-width="2.2" paint-order="stroke" stroke-linejoin="round">0.0</text>
<text transform="translate(221.9 381.5) rotate(-20)" font-size="9.4" text-anchor="middle" dominant-baseline="central" stroke="#e0f1ec" stroke-width="2.2" paint-order="stroke" stroke-linejoin="round">0.0</text>
<text transform="translate(291.1 380.4) rotate(-70)" font-size="9.4" text-anchor="middle" dominant-baseline="central" stroke="#e0f1ec" stroke-width="2.2" paint-order="stroke" stroke-linejoin="round">0.0</text>
<text transform="translate(317.9 365.0) rotate(-70)" font-size="9.4" text-anchor="middle" dominant-baseline="central" stroke="#e0f1ec" stroke-width="2.2" paint-order="stroke" stroke-linejoin="round">0.2</text>
<text transform="translate(432.9 384.1) rotate(3)" font-size="9.4" text-anchor="middle" dominant-baseline="central" stroke="#e0f1ec" stroke-width="2.2" paint-order="stroke" stroke-linejoin="round">0.0</text>
<text transform="translate(404.3 400.9) rotate(5)" font-size="9.4" text-anchor="middle" dominant-baseline="central" stroke="#e0f1ec" stroke-width="2.2" paint-order="stroke" stroke-linejoin="round">0.4</text>
<text transform="translate(362.3 399.4) rotate(-160)" font-size="9.4" text-anchor="middle" dominant-baseline="central" stroke="#a9e0d8" stroke-width="2.2" paint-order="stroke" stroke-linejoin="round">0.2</text>
<text transform="translate(524.1 357.1) rotate(-20)" font-size="9.0" text-anchor="middle" dominant-baseline="central" stroke="#f6efde" stroke-width="2.2" paint-order="stroke" stroke-linejoin="round">0.4</text>
<text transform="translate(489.6 373.1) rotate(-25)" font-size="9.0" text-anchor="middle" dominant-baseline="central" stroke="#f6efde" stroke-width="2.2" paint-order="stroke" stroke-linejoin="round">0.2</text>
<text transform="translate(462.4 413.4) rotate(-5)" font-size="9.0" text-anchor="middle" dominant-baseline="central" stroke="#e0f1ec" stroke-width="2.2" paint-order="stroke" stroke-linejoin="round">0.6</text>
<text transform="translate(177.9 437.9) rotate(-3)" font-size="9.4" text-anchor="middle" dominant-baseline="central" stroke="#e0f1ec" stroke-width="2.2" paint-order="stroke" stroke-linejoin="round">0.0</text>
<text transform="translate(268.9 453.3) rotate(-70)" font-size="9.4" text-anchor="middle" dominant-baseline="central" stroke="#e0f1ec" stroke-width="2.2" paint-order="stroke" stroke-linejoin="round">0.0</text>
<text transform="translate(336.7 469.1) rotate(-75)" font-size="9.4" text-anchor="middle" dominant-baseline="central" stroke="#e0f1ec" stroke-width="2.2" paint-order="stroke" stroke-linejoin="round">0.2</text>
<text transform="translate(361.3 478.3) rotate(-75)" font-size="9.4" text-anchor="middle" dominant-baseline="central" stroke="#e0f1ec" stroke-width="2.2" paint-order="stroke" stroke-linejoin="round">0.2</text>
<text transform="translate(462.4 431.6) rotate(-12)" font-size="9.4" text-anchor="middle" dominant-baseline="central" stroke="#e0f1ec" stroke-width="2.2" paint-order="stroke" stroke-linejoin="round">0.2</text>
<text transform="translate(518.1 457.1) rotate(-12)" font-size="9.4" text-anchor="middle" dominant-baseline="central" stroke="#f6efde" stroke-width="2.2" paint-order="stroke" stroke-linejoin="round">0.2</text>
<text transform="translate(527.4 462.0) rotate(-8)" font-size="9.4" text-anchor="middle" dominant-baseline="central" stroke="#f6efde" stroke-width="2.2" paint-order="stroke" stroke-linejoin="round">0.4</text>
<text transform="translate(234.5 520.9) rotate(22)" font-size="9.4" text-anchor="middle" dominant-baseline="central" stroke="#e0f1ec" stroke-width="2.2" paint-order="stroke" stroke-linejoin="round">0.0</text>
<text transform="translate(305.1 532.4) rotate(8)" font-size="9.4" text-anchor="middle" dominant-baseline="central" stroke="#f6efde" stroke-width="2.2" paint-order="stroke" stroke-linejoin="round">0.2</text>
<text transform="translate(206.1 533.5) rotate(-5)" font-size="9.4" text-anchor="middle" dominant-baseline="central" stroke="#f6efde" stroke-width="2.2" paint-order="stroke" stroke-linejoin="round">0.2</text>
<text transform="translate(379.1 514.2) rotate(-12)" font-size="9.4" text-anchor="middle" dominant-baseline="central" stroke="#a9e0d8" stroke-width="2.2" paint-order="stroke" stroke-linejoin="round">0.4</text>
<text transform="translate(428.9 552.1) rotate(-52)" font-size="9.4" text-anchor="middle" dominant-baseline="central" stroke="#e0f1ec" stroke-width="2.2" paint-order="stroke" stroke-linejoin="round">0.0</text>
<text transform="translate(470.6 500.9) rotate(-22)" font-size="9.4" text-anchor="middle" dominant-baseline="central" stroke="#e0f1ec" stroke-width="2.2" paint-order="stroke" stroke-linejoin="round">0.4</text>
<text transform="translate(454.5 525.4) rotate(-60)" font-size="9.4" text-anchor="middle" dominant-baseline="central" stroke="#e0f1ec" stroke-width="2.2" paint-order="stroke" stroke-linejoin="round">0.2</text>
<text transform="translate(448.9 534.9) rotate(-60)" font-size="9.4" text-anchor="middle" dominant-baseline="central" stroke="#e0f1ec" stroke-width="2.2" paint-order="stroke" stroke-linejoin="round">0.0</text>
<text transform="translate(434.4 544.2) rotate(-60)" font-size="9.4" text-anchor="middle" dominant-baseline="central" stroke="#a9e0d8" stroke-width="2.2" paint-order="stroke" stroke-linejoin="round">0.2</text>
<text transform="translate(440.2 554.7) rotate(-65)" font-size="9.4" text-anchor="middle" dominant-baseline="central" stroke="#e0f1ec" stroke-width="2.2" paint-order="stroke" stroke-linejoin="round">0.0</text>
<text transform="translate(442.3 561.7) rotate(-80)" font-size="9.0" text-anchor="middle" dominant-baseline="central" stroke="#e0f1ec" stroke-width="2.2" paint-order="stroke" stroke-linejoin="round">0.6</text>
<text transform="translate(503.6 530.3) rotate(0)" font-size="9.4" text-anchor="middle" dominant-baseline="central" stroke="#f1deb0" stroke-width="2.2" paint-order="stroke" stroke-linejoin="round">-0.8</text>
</g>
<rect x="178.6" y="391.5" width="274.3" height="136.5" fill="none" stroke="#000" stroke-width="1.5"/>
<rect x="87.2" y="346.0" width="457.1" height="227.5" fill="none" stroke="#000" stroke-width="1.4"/>
<line x1="79.6" y1="573.5" x2="87.2" y2="573.5" stroke="#000" stroke-width="1.3"/>
<line x1="83.2" y1="555.3" x2="87.2" y2="555.3" stroke="#000" stroke-width="0.9"/>
<line x1="83.2" y1="537.1" x2="87.2" y2="537.1" stroke="#000" stroke-width="0.9"/>
<line x1="83.2" y1="518.9" x2="87.2" y2="518.9" stroke="#000" stroke-width="0.9"/>
<line x1="83.2" y1="500.7" x2="87.2" y2="500.7" stroke="#000" stroke-width="0.9"/>
<line x1="79.6" y1="482.5" x2="87.2" y2="482.5" stroke="#000" stroke-width="1.3"/>
<line x1="83.2" y1="464.3" x2="87.2" y2="464.3" stroke="#000" stroke-width="0.9"/>
<line x1="83.2" y1="446.1" x2="87.2" y2="446.1" stroke="#000" stroke-width="0.9"/>
<line x1="83.2" y1="427.9" x2="87.2" y2="427.9" stroke="#000" stroke-width="0.9"/>
<line x1="83.2" y1="409.7" x2="87.2" y2="409.7" stroke="#000" stroke-width="0.9"/>
<line x1="79.6" y1="391.5" x2="87.2" y2="391.5" stroke="#000" stroke-width="1.3"/>
<line x1="83.2" y1="373.3" x2="87.2" y2="373.3" stroke="#000" stroke-width="0.9"/>
<line x1="83.2" y1="355.1" x2="87.2" y2="355.1" stroke="#000" stroke-width="0.9"/>
<text x="72.6" y="577.9" text-anchor="end" font-size="11.6">30°N</text>
<text x="72.6" y="486.9" text-anchor="end" font-size="11.6">40°N</text>
<text x="72.6" y="395.9" text-anchor="end" font-size="11.6">50°N</text>
<line x1="87.2" y1="573.5" x2="87.2" y2="577.5" stroke="#000" stroke-width="0.9"/>
<line x1="132.9" y1="573.5" x2="132.9" y2="581.1" stroke="#000" stroke-width="1.3"/>
<line x1="178.6" y1="573.5" x2="178.6" y2="577.5" stroke="#000" stroke-width="0.9"/>
<line x1="224.3" y1="573.5" x2="224.3" y2="577.5" stroke="#000" stroke-width="0.9"/>
<line x1="270.0" y1="573.5" x2="270.0" y2="581.1" stroke="#000" stroke-width="1.3"/>
<line x1="315.8" y1="573.5" x2="315.8" y2="577.5" stroke="#000" stroke-width="0.9"/>
<line x1="361.5" y1="573.5" x2="361.5" y2="577.5" stroke="#000" stroke-width="0.9"/>
<line x1="407.2" y1="573.5" x2="407.2" y2="581.1" stroke="#000" stroke-width="1.3"/>
<line x1="452.9" y1="573.5" x2="452.9" y2="577.5" stroke="#000" stroke-width="0.9"/>
<line x1="498.6" y1="573.5" x2="498.6" y2="577.5" stroke="#000" stroke-width="0.9"/>
<line x1="544.3" y1="573.5" x2="544.3" y2="581.1" stroke="#000" stroke-width="1.3"/>
<text x="132.9" y="597" text-anchor="middle" font-size="11.6">75°E</text>
<text x="270.0" y="597" text-anchor="middle" font-size="11.6">90°E</text>
<text x="407.2" y="597" text-anchor="middle" font-size="11.6">105°E</text>
<text x="544.3" y="597" text-anchor="middle" font-size="11.6">120°E</text>
<text x="544.5" y="331.8" text-anchor="end" font-size="12.4">&lt;Analogue,CPC&gt;<tspan dy="2.4" font-size="7.8">Pcorr</tspan><tspan dy="-2.4"> = 0.74 (p&lt;0.01)</tspan></text>
<text x="64" y="334" font-size="17.5">c</text>
<rect x="573.8" y="350.20" width="27.2" height="18.3" fill="#003c30" stroke="#111" stroke-width="0.5"/>
<rect x="573.8" y="368.50" width="27.2" height="18.3" fill="#01665e" stroke="#111" stroke-width="0.5"/>
<rect x="573.8" y="386.80" width="27.2" height="18.3" fill="#2c8f87" stroke="#111" stroke-width="0.5"/>
<rect x="573.8" y="405.10" width="27.2" height="18.3" fill="#73c2b8" stroke="#111" stroke-width="0.5"/>
<rect x="573.8" y="423.40" width="27.2" height="18.3" fill="#a9e0d8" stroke="#111" stroke-width="0.5"/>
<rect x="573.8" y="441.70" width="27.2" height="18.3" fill="#e0f1ec" stroke="#111" stroke-width="0.5"/>
<rect x="573.8" y="460.00" width="27.2" height="18.3" fill="#f6efde" stroke="#111" stroke-width="0.5"/>
<rect x="573.8" y="478.30" width="27.2" height="18.3" fill="#f1deb0" stroke="#111" stroke-width="0.5"/>
<rect x="573.8" y="496.60" width="27.2" height="18.3" fill="#dfb970" stroke="#111" stroke-width="0.5"/>
<rect x="573.8" y="514.90" width="27.2" height="18.3" fill="#bf812d" stroke="#111" stroke-width="0.5"/>
<rect x="573.8" y="533.20" width="27.2" height="18.3" fill="#8c510a" stroke="#111" stroke-width="0.5"/>
<rect x="573.8" y="551.50" width="27.2" height="18.3" fill="#573510" stroke="#111" stroke-width="0.5"/>
<text transform="translate(618.6 368.5) rotate(-90)" text-anchor="middle" font-size="11.8">1</text>
<text transform="translate(618.6 405.1) rotate(-90)" text-anchor="middle" font-size="11.8">0.6</text>
<text transform="translate(618.6 441.7) rotate(-90)" text-anchor="middle" font-size="11.8">0.2</text>
<text transform="translate(618.6 478.3) rotate(-90)" text-anchor="middle" font-size="11.8">-0.2</text>
<text transform="translate(618.6 514.9) rotate(-90)" text-anchor="middle" font-size="11.8">-0.6</text>
<text transform="translate(618.6 551.5) rotate(-90)" text-anchor="middle" font-size="11.8">-1</text>
<text transform="translate(644.5 460) rotate(-90)" text-anchor="middle" font-size="14.65">Linear trend (mm d<tspan dy="-6.2" font-size="9.4">-1</tspan><tspan dy="6.2"> dec</tspan><tspan dy="-6.2" font-size="9.4">-1</tspan><tspan dy="6.2">)</tspan></text>
</g>
</svg>
</body></html>
